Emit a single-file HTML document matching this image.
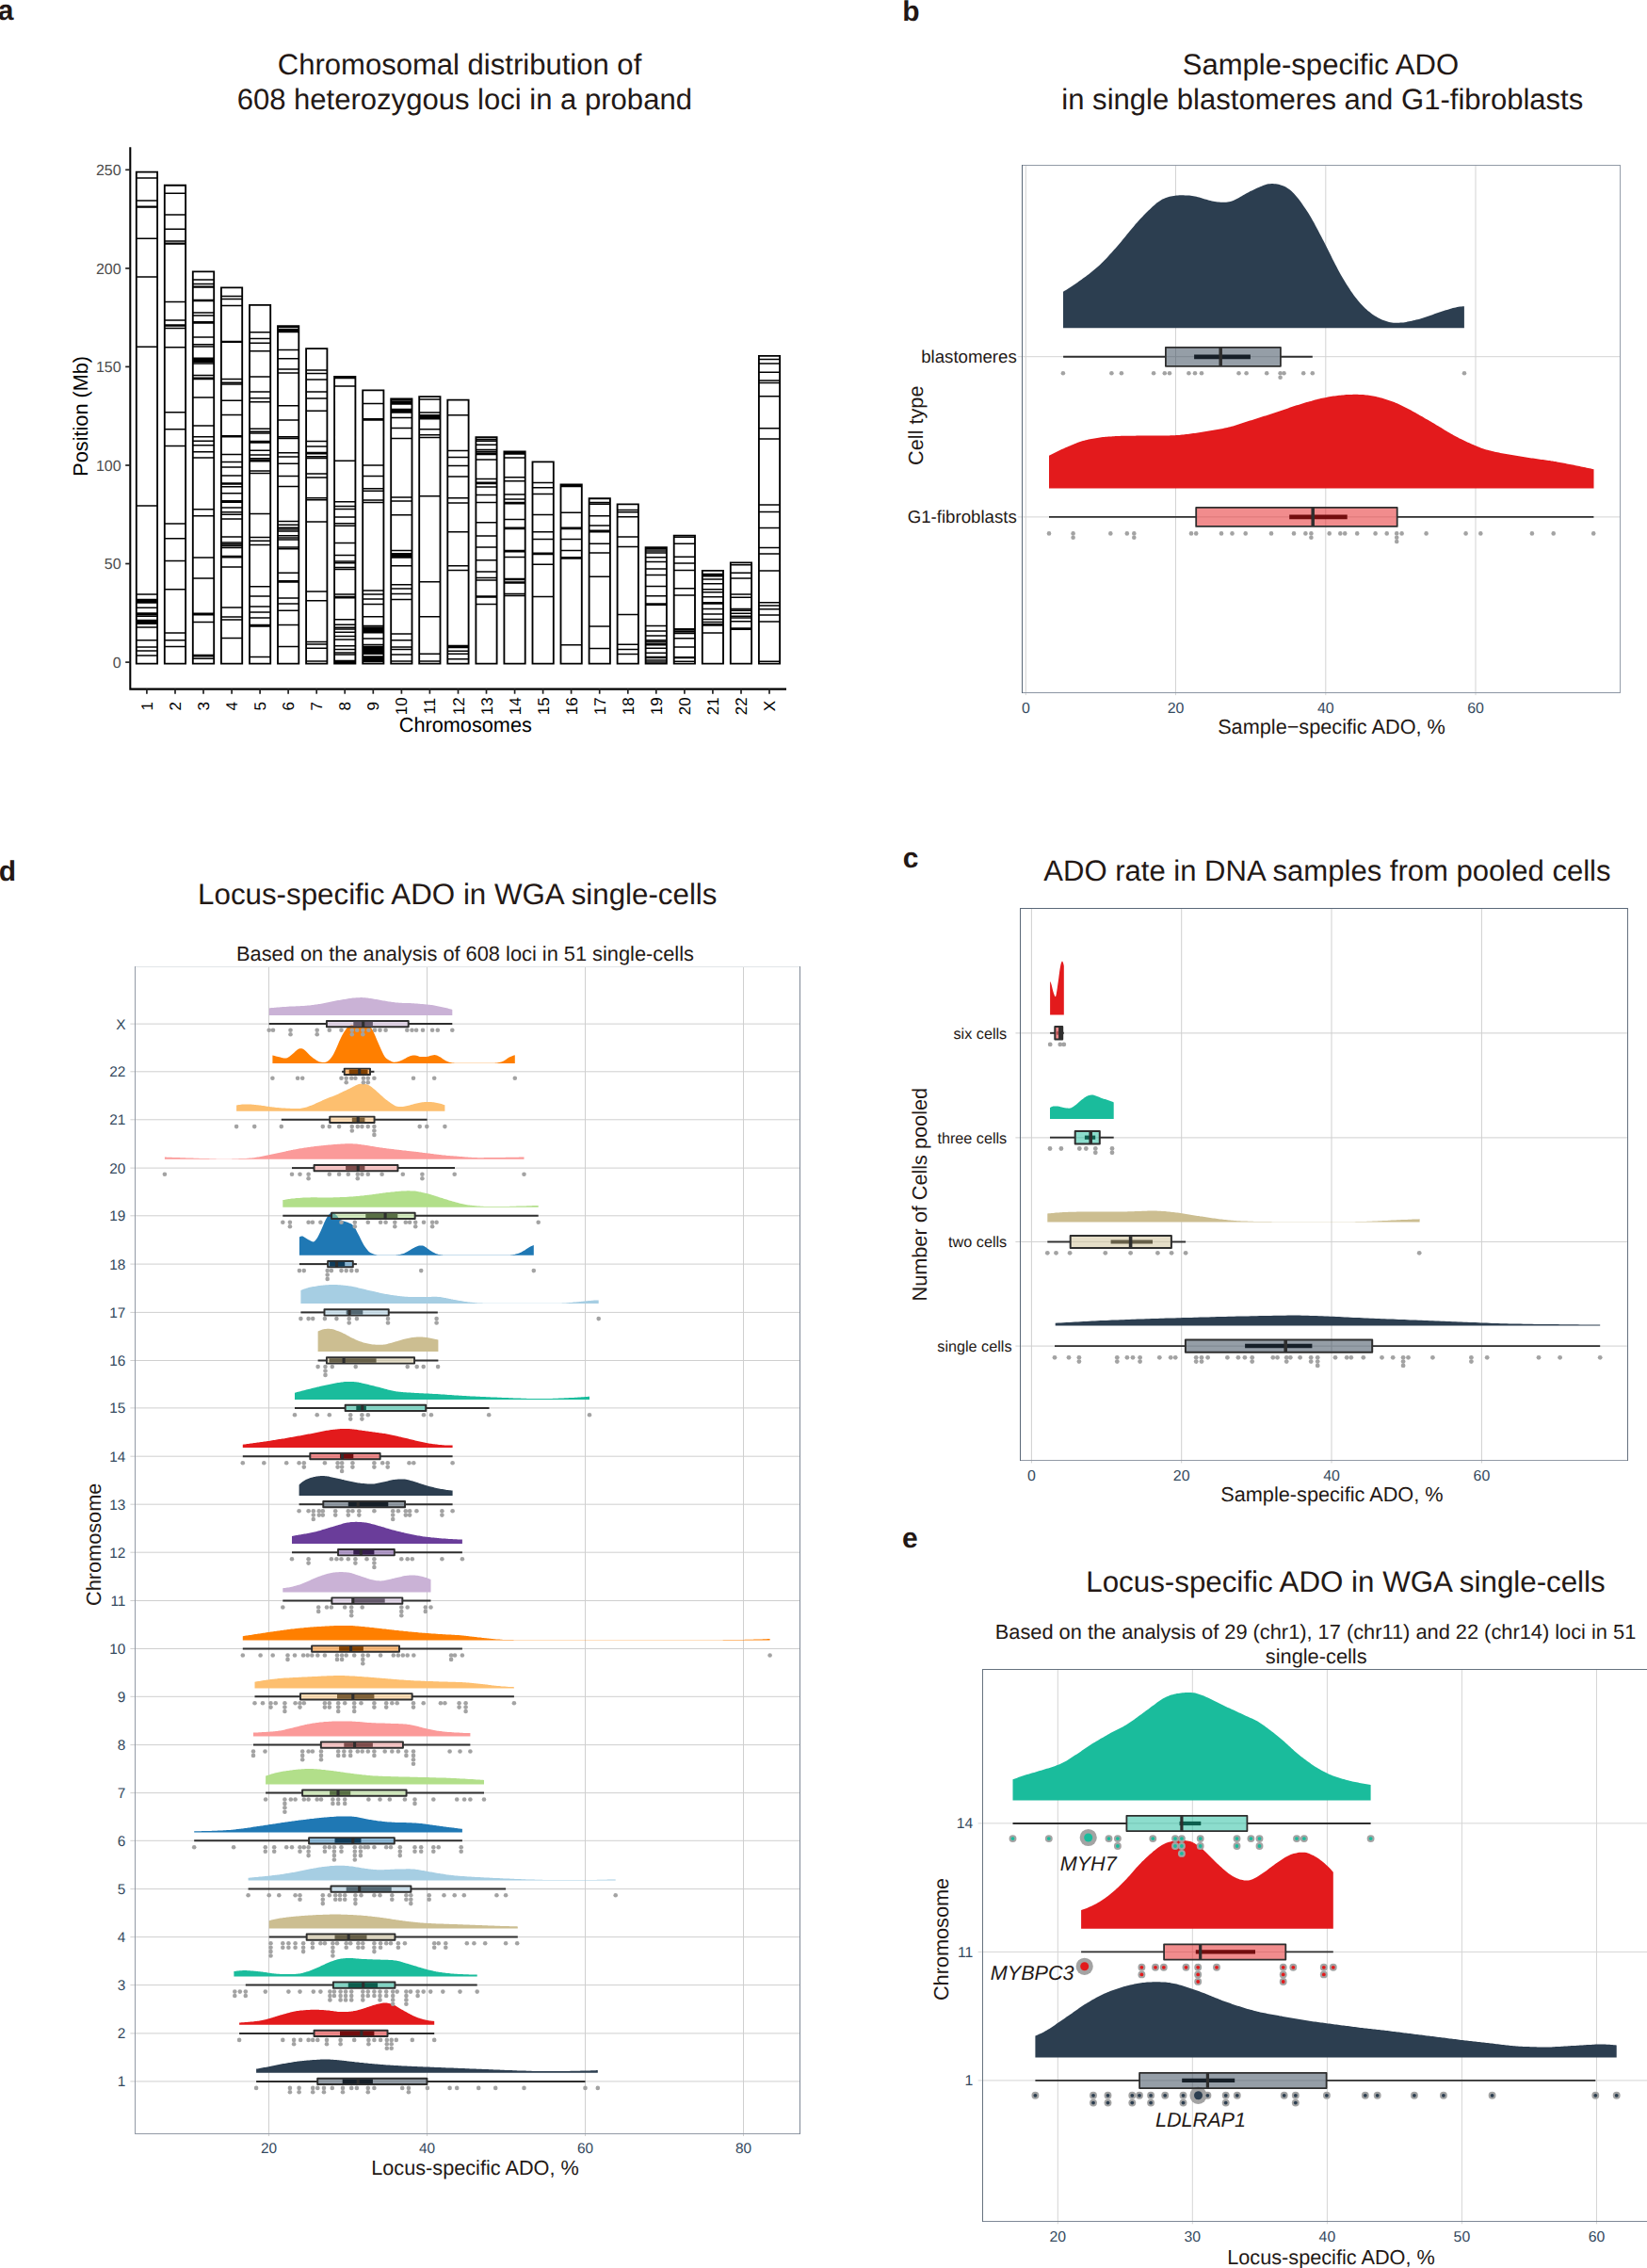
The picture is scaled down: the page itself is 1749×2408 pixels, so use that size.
<!DOCTYPE html>
<html><head><meta charset="utf-8"><title>Figure</title>
<style>html,body{margin:0;padding:0;background:#fff}svg{display:block}text{font-family:"Liberation Sans",sans-serif;text-rendering:geometricPrecision}</style></head><body>
<svg width="1749" height="2408" viewBox="0 0 1749 2408">
<rect width="1749" height="2408" fill="#fff"/>
<text x="-2.2" y="21.4" font-size="30" fill="#231815" font-weight="bold">a</text>
<text x="958.2" y="21.8" font-size="30" fill="#231815" font-weight="bold">b</text>
<text x="958.7" y="921.2" font-size="30" fill="#231815" font-weight="bold">c</text>
<text x="-1.2" y="934.8" font-size="30" fill="#231815" font-weight="bold">d</text>
<text x="958" y="1642.8" font-size="30" fill="#231815" font-weight="bold">e</text>
<text x="488" y="78.8" font-size="31.05" text-anchor="middle" fill="#231815">Chromosomal distribution of</text>
<text x="493.3" y="116.2" font-size="31.05" text-anchor="middle" fill="#231815">608 heterozygous loci in a proband</text>
<text x="1402.4" y="79" font-size="31.05" text-anchor="middle" fill="#231815">Sample-specific ADO</text>
<text x="1404.3" y="116.4" font-size="31.05" text-anchor="middle" fill="#231815">in single blastomeres and G1-fibroblasts</text>
<text x="1409.4" y="934.8" font-size="31.05" text-anchor="middle" fill="#231815">ADO rate in DNA samples from pooled cells</text>
<text x="485.8" y="959.8" font-size="31.3" text-anchor="middle" fill="#231815">Locus-specific ADO in WGA single-cells</text>
<text x="1429" y="1690.3" font-size="31.3" text-anchor="middle" fill="#231815">Locus-specific ADO in WGA single-cells</text>
<text x="494" y="1020.2" font-size="21.8" text-anchor="middle" fill="#231815">Based on the analysis of 608 loci in 51 single-cells</text>
<text x="1397" y="1739.8" font-size="21.8" text-anchor="middle" fill="#231815">Based on the analysis of 29 (chr1), 17 (chr11) and 22 (chr14) loci in 51</text>
<text x="1397.7" y="1765.5" font-size="21.8" text-anchor="middle" fill="#231815">single-cells</text>
<g stroke="#000" stroke-width="2.05" fill="none">
<path d="M138.3 156.3V731.6H835"/>
</g>
<line x1="133.2" y1="703.1" x2="138.3" y2="703.1" stroke="#222" stroke-width="1.7"/>
<text x="128.6" y="708.7" font-size="16" text-anchor="end" fill="#4d4d4d">0</text>
<line x1="133.2" y1="598.5" x2="138.3" y2="598.5" stroke="#222" stroke-width="1.7"/>
<text x="128.6" y="604.1" font-size="16" text-anchor="end" fill="#4d4d4d">50</text>
<line x1="133.2" y1="494" x2="138.3" y2="494" stroke="#222" stroke-width="1.7"/>
<text x="128.6" y="499.6" font-size="16" text-anchor="end" fill="#4d4d4d">100</text>
<line x1="133.2" y1="389.4" x2="138.3" y2="389.4" stroke="#222" stroke-width="1.7"/>
<text x="128.6" y="395" font-size="16" text-anchor="end" fill="#4d4d4d">150</text>
<line x1="133.2" y1="284.9" x2="138.3" y2="284.9" stroke="#222" stroke-width="1.7"/>
<text x="128.6" y="290.5" font-size="16" text-anchor="end" fill="#4d4d4d">200</text>
<line x1="133.2" y1="180.3" x2="138.3" y2="180.3" stroke="#222" stroke-width="1.7"/>
<text x="128.6" y="185.9" font-size="16" text-anchor="end" fill="#4d4d4d">250</text>
<text x="93.1" y="441.8" font-size="21.7" text-anchor="middle" fill="#000" transform="rotate(-90 93.1 441.8)">Position (Mb)</text>
<text x="494.3" y="777.4" font-size="21.7" text-anchor="middle" fill="#000">Chromosomes</text>
<line x1="155.9" y1="731.4" x2="155.9" y2="736.7" stroke="#222" stroke-width="1.7"/>
<text x="155.9" y="749.7" font-size="17" text-anchor="middle" fill="#000" transform="rotate(-90 155.9 749.7)" dy="6.1">1</text>
<line x1="186" y1="731.4" x2="186" y2="736.7" stroke="#222" stroke-width="1.7"/>
<text x="186" y="749.7" font-size="17" text-anchor="middle" fill="#000" transform="rotate(-90 186 749.7)" dy="6.1">2</text>
<line x1="216" y1="731.4" x2="216" y2="736.7" stroke="#222" stroke-width="1.7"/>
<text x="216" y="749.7" font-size="17" text-anchor="middle" fill="#000" transform="rotate(-90 216 749.7)" dy="6.1">3</text>
<line x1="246.1" y1="731.4" x2="246.1" y2="736.7" stroke="#222" stroke-width="1.7"/>
<text x="246.1" y="749.7" font-size="17" text-anchor="middle" fill="#000" transform="rotate(-90 246.1 749.7)" dy="6.1">4</text>
<line x1="276.1" y1="731.4" x2="276.1" y2="736.7" stroke="#222" stroke-width="1.7"/>
<text x="276.1" y="749.7" font-size="17" text-anchor="middle" fill="#000" transform="rotate(-90 276.1 749.7)" dy="6.1">5</text>
<line x1="306.1" y1="731.4" x2="306.1" y2="736.7" stroke="#222" stroke-width="1.7"/>
<text x="306.1" y="749.7" font-size="17" text-anchor="middle" fill="#000" transform="rotate(-90 306.1 749.7)" dy="6.1">6</text>
<line x1="336.2" y1="731.4" x2="336.2" y2="736.7" stroke="#222" stroke-width="1.7"/>
<text x="336.2" y="749.7" font-size="17" text-anchor="middle" fill="#000" transform="rotate(-90 336.2 749.7)" dy="6.1">7</text>
<line x1="366.2" y1="731.4" x2="366.2" y2="736.7" stroke="#222" stroke-width="1.7"/>
<text x="366.2" y="749.7" font-size="17" text-anchor="middle" fill="#000" transform="rotate(-90 366.2 749.7)" dy="6.1">8</text>
<line x1="396.3" y1="731.4" x2="396.3" y2="736.7" stroke="#222" stroke-width="1.7"/>
<text x="396.3" y="749.7" font-size="17" text-anchor="middle" fill="#000" transform="rotate(-90 396.3 749.7)" dy="6.1">9</text>
<line x1="426.4" y1="731.4" x2="426.4" y2="736.7" stroke="#222" stroke-width="1.7"/>
<text x="426.4" y="749.7" font-size="17" text-anchor="middle" fill="#000" transform="rotate(-90 426.4 749.7)" dy="6.1">10</text>
<line x1="456.4" y1="731.4" x2="456.4" y2="736.7" stroke="#222" stroke-width="1.7"/>
<text x="456.4" y="749.7" font-size="17" text-anchor="middle" fill="#000" transform="rotate(-90 456.4 749.7)" dy="6.1">11</text>
<line x1="486.5" y1="731.4" x2="486.5" y2="736.7" stroke="#222" stroke-width="1.7"/>
<text x="486.5" y="749.7" font-size="17" text-anchor="middle" fill="#000" transform="rotate(-90 486.5 749.7)" dy="6.1">12</text>
<line x1="516.5" y1="731.4" x2="516.5" y2="736.7" stroke="#222" stroke-width="1.7"/>
<text x="516.5" y="749.7" font-size="17" text-anchor="middle" fill="#000" transform="rotate(-90 516.5 749.7)" dy="6.1">13</text>
<line x1="546.6" y1="731.4" x2="546.6" y2="736.7" stroke="#222" stroke-width="1.7"/>
<text x="546.6" y="749.7" font-size="17" text-anchor="middle" fill="#000" transform="rotate(-90 546.6 749.7)" dy="6.1">14</text>
<line x1="576.6" y1="731.4" x2="576.6" y2="736.7" stroke="#222" stroke-width="1.7"/>
<text x="576.6" y="749.7" font-size="17" text-anchor="middle" fill="#000" transform="rotate(-90 576.6 749.7)" dy="6.1">15</text>
<line x1="606.6" y1="731.4" x2="606.6" y2="736.7" stroke="#222" stroke-width="1.7"/>
<text x="606.6" y="749.7" font-size="17" text-anchor="middle" fill="#000" transform="rotate(-90 606.6 749.7)" dy="6.1">16</text>
<line x1="636.7" y1="731.4" x2="636.7" y2="736.7" stroke="#222" stroke-width="1.7"/>
<text x="636.7" y="749.7" font-size="17" text-anchor="middle" fill="#000" transform="rotate(-90 636.7 749.7)" dy="6.1">17</text>
<line x1="666.8" y1="731.4" x2="666.8" y2="736.7" stroke="#222" stroke-width="1.7"/>
<text x="666.8" y="749.7" font-size="17" text-anchor="middle" fill="#000" transform="rotate(-90 666.8 749.7)" dy="6.1">18</text>
<line x1="696.8" y1="731.4" x2="696.8" y2="736.7" stroke="#222" stroke-width="1.7"/>
<text x="696.8" y="749.7" font-size="17" text-anchor="middle" fill="#000" transform="rotate(-90 696.8 749.7)" dy="6.1">19</text>
<line x1="726.9" y1="731.4" x2="726.9" y2="736.7" stroke="#222" stroke-width="1.7"/>
<text x="726.9" y="749.7" font-size="17" text-anchor="middle" fill="#000" transform="rotate(-90 726.9 749.7)" dy="6.1">20</text>
<line x1="756.9" y1="731.4" x2="756.9" y2="736.7" stroke="#222" stroke-width="1.7"/>
<text x="756.9" y="749.7" font-size="17" text-anchor="middle" fill="#000" transform="rotate(-90 756.9 749.7)" dy="6.1">21</text>
<line x1="787" y1="731.4" x2="787" y2="736.7" stroke="#222" stroke-width="1.7"/>
<text x="787" y="749.7" font-size="17" text-anchor="middle" fill="#000" transform="rotate(-90 787 749.7)" dy="6.1">22</text>
<line x1="817" y1="731.4" x2="817" y2="736.7" stroke="#222" stroke-width="1.7"/>
<text x="817" y="749.7" font-size="17" text-anchor="middle" fill="#000" transform="rotate(-90 817 749.7)" dy="6.1">X</text>
<path d="M144.8 182.6H167.1V704.6H144.8ZM174.8 196.7H197.1V704.6H174.8ZM204.8 288.4H227.2V704.6H204.8ZM234.9 305.3H257.2V704.6H234.9ZM265 323.9H287.2V704.6H265ZM295 346.1H317.3V704.6H295ZM325.1 370.1H347.4V704.6H325.1ZM355.1 399.8H377.4V704.6H355.1ZM385.2 414.3H407.4V704.6H385.2ZM415.2 423.4H437.5V704.6H415.2ZM445.2 421.1H467.5V704.6H445.2ZM475.3 424.6H497.6V704.6H475.3ZM505.4 464.2H527.6V704.6H505.4ZM535.4 479.5H557.7V704.6H535.4ZM565.5 490.4H587.8V704.6H565.5ZM595.5 514.3H617.8V704.6H595.5ZM625.6 529.2H647.9V704.6H625.6ZM655.6 535.3H677.9V704.6H655.6ZM685.6 581.1H707.9V704.6H685.6ZM715.7 568.6H738V704.6H715.7ZM745.8 605.8H768V704.6H745.8ZM775.8 597.3H798.1V704.6H775.8ZM805.9 377.9H828.1V704.6H805.9Z" fill="#fff" stroke="#000" stroke-width="1.85"/>
<path d="M144.8 189.1H167.1M144.8 213.1H167.1M144.8 219.2H167.1M144.8 220H167.1M144.8 253.2H167.1M144.8 294.1H167.1M144.8 368.2H167.1M144.8 537.1H167.1M144.8 631H167.1M144.8 636.5H167.1M144.8 637.7H167.1M144.8 638.9H167.1M144.8 640.1H167.1M144.8 645.2H167.1M144.8 650.9H167.1M144.8 652.5H167.1M144.8 654.3H167.1M144.8 658.6H167.1M144.8 659.8H167.1M144.8 661H167.1M144.8 662.2H167.1M144.8 666.1H167.1M144.8 679.8H167.1M144.8 686.9H167.1M144.8 691.1H167.1M144.8 696H167.1M174.8 205.3H197.1M174.8 228H197.1M174.8 243.3H197.1M174.8 256H197.1M174.8 258.2H197.1M174.8 259.1H197.1M174.8 320.6H197.1M174.8 340H197.1M174.8 344.9H197.1M174.8 346.1H197.1M174.8 348.5H197.1M174.8 368.8H197.1M174.8 437.8H197.1M174.8 455.8H197.1M174.8 473.4H197.1M174.8 556H197.1M174.8 571.8H197.1M174.8 595.4H197.1M174.8 625.8H197.1M174.8 671.9H197.1M174.8 679.8H197.1M174.8 686.5H197.1M204.8 297.1H227.2M204.8 301.4H227.2M204.8 304.2H227.2M204.8 305H227.2M204.8 318.4H227.2M204.8 319.6H227.2M204.8 332.1H227.2M204.8 335.1H227.2M204.8 341.8H227.2M204.8 343H227.2M204.8 358H227.2M204.8 365.8H227.2M204.8 367.9H227.2M204.8 380.3H227.2M204.8 381.5H227.2M204.8 382.8H227.2M204.8 384.3H227.2M204.8 386.1H227.2M204.8 398.5H227.2M204.8 401.3H227.2M204.8 402.5H227.2M204.8 422H227.2M204.8 452.1H227.2M204.8 463.7H227.2M204.8 468.2H227.2M204.8 472.8H227.2M204.8 479.7H227.2M204.8 486.1H227.2M204.8 540.8H227.2M204.8 547.7H227.2M204.8 592H227.2M204.8 614H227.2M204.8 651.3H227.2M204.8 652.8H227.2M204.8 660.4H227.2M204.8 695.6H227.2M204.8 696.8H227.2M204.8 699.3H227.2M234.9 314.5H257.2M234.9 317.5H257.2M234.9 324.5H257.2M234.9 362.5H257.2M234.9 363.3H257.2M234.9 402.5H257.2M234.9 406.2H257.2M234.9 408H257.2M234.9 425.2H257.2M234.9 440.6H257.2M234.9 462.7H257.2M234.9 463.7H257.2M234.9 482.5H257.2M234.9 490.4H257.2M234.9 495.9H257.2M234.9 505H257.2M234.9 512.9H257.2M234.9 514.1H257.2M234.9 516.8H257.2M234.9 523.8H257.2M234.9 531.7H257.2M234.9 533.3H257.2M234.9 539H257.2M234.9 543.8H257.2M234.9 546.2H257.2M234.9 551.1H257.2M234.9 569.9H257.2M234.9 576H257.2M234.9 577.8H257.2M234.9 579.6H257.2M234.9 581.5H257.2M234.9 590.6H257.2M234.9 591.8H257.2M234.9 602.1H257.2M234.9 645H257.2M234.9 654.9H257.2M234.9 658H257.2M234.9 677.4H257.2M265 352.8H287.2M265 359.4H287.2M265 364.3H287.2M265 372.8H287.2M265 400.1H287.2M265 416.1H287.2M265 422.8H287.2M265 426.8H287.2M265 455.2H287.2M265 458.2H287.2M265 460H287.2M265 468.5H287.2M265 470.1H287.2M265 478.2H287.2M265 483.1H287.2M265 486.8H287.2M265 488.6H287.2M265 489.8H287.2M265 500.1H287.2M265 502.5H287.2M265 545.6H287.2M265 570.5H287.2M265 574.2H287.2M265 578.4H287.2M265 622.8H287.2M265 633.1H287.2M265 644H287.2M265 650.1H287.2M265 656.1H287.2M265 663.4H287.2M265 664.9H287.2M265 697.4H287.2M295 347.5H317.3M295 349.7H317.3M295 351.2H317.3M295 352.5H317.3M295 371.6H317.3M295 380.7H317.3M295 392H317.3M295 396.1H317.3M295 430.7H317.3M295 446.1H317.3M295 463.7H317.3M295 465.5H317.3M295 480.7H317.3M295 484.9H317.3M295 492.2H317.3M295 505.6H317.3M295 516.5H317.3M295 553.5H317.3M295 557.2H317.3M295 560.2H317.3M295 562H317.3M295 563.9H317.3M295 568.7H317.3M295 571.1H317.3M295 573H317.3M295 580.9H317.3M295 582.7H317.3M295 608.2H317.3M295 616.7H317.3M295 617.9H317.3M295 634.9H317.3M295 641H317.3M295 648.3H317.3M295 663.4H317.3M295 686.5H317.3M325.1 393.1H347.4M325.1 396.6H347.4M325.1 402.9H347.4M325.1 416H347.4M325.1 422.9H347.4M325.1 436.2H347.4M325.1 468.4H347.4M325.1 474.1H347.4M325.1 480.6H347.4M325.1 481.8H347.4M325.1 484.8H347.4M325.1 486.6H347.4M325.1 503H347.4M325.1 507.1H347.4M325.1 528.7H347.4M325.1 530.7H347.4M325.1 554H347.4M325.1 628.1H347.4M325.1 637.8H347.4M325.1 681.5H347.4M325.1 683.9H347.4M325.1 688.2H347.4M325.1 702.1H347.4M355.1 400.7H377.4M355.1 401.6H377.4M355.1 410.1H377.4M355.1 489.3H377.4M355.1 532.8H377.4M355.1 537.6H377.4M355.1 540.6H377.4M355.1 549.1H377.4M355.1 555.8H377.4M355.1 558.2H377.4M355.1 576.5H377.4M355.1 589.5H377.4M355.1 595.9H377.4M355.1 597.7H377.4M355.1 602.6H377.4M355.1 604.4H377.4M355.1 631.1H377.4M355.1 633.5H377.4M355.1 634.8H377.4M355.1 657.8H377.4M355.1 663.3H377.4M355.1 666.3H377.4M355.1 668.1H377.4M355.1 671.2H377.4M355.1 675.4H377.4M355.1 679.1H377.4M355.1 685.8H377.4M355.1 689.4H377.4M355.1 693H377.4M355.1 694.9H377.4M355.1 701.5H377.4M355.1 703H377.4M355.1 704H377.4M385.2 428.6H407.4M385.2 444.8H407.4M385.2 446H407.4M385.2 493.9H407.4M385.2 505.5H407.4M385.2 518.8H407.4M385.2 521.2H407.4M385.2 530.9H407.4M385.2 533.4H407.4M385.2 626.9H407.4M385.2 631.1H407.4M385.2 636H407.4M385.2 641.4H407.4M385.2 654.8H407.4M385.2 664.5H407.4M385.2 666.3H407.4M385.2 667.4H407.4M385.2 668.5H407.4M385.2 669.6H407.4M385.2 670.7H407.4M385.2 671.8H407.4M385.2 677.9H407.4M385.2 684.5H407.4M385.2 686.6H407.4M385.2 687.7H407.4M385.2 688.8H407.4M385.2 689.9H407.4M385.2 691H407.4M385.2 692.1H407.4M385.2 693.2H407.4M385.2 694.3H407.4M385.2 697H407.4M385.2 698.1H407.4M385.2 699.2H407.4M385.2 700.3H407.4M385.2 701.4H407.4M385.2 702.5H407.4M415.2 424.7H437.5M415.2 426.5H437.5M415.2 427.8H437.5M415.2 429H437.5M415.2 434.4H437.5M415.2 435.6H437.5M415.2 436.9H437.5M415.2 438.1H437.5M415.2 443.5H437.5M415.2 454.5H437.5M415.2 465.4H437.5M415.2 527.9H437.5M415.2 531.9H437.5M415.2 546.7H437.5M415.2 584.4H437.5M415.2 587.8H437.5M415.2 588.9H437.5M415.2 590H437.5M415.2 591H437.5M415.2 592.1H437.5M415.2 600.8H437.5M415.2 620.8H437.5M415.2 625H437.5M415.2 630.5H437.5M415.2 636.6H437.5M415.2 673H437.5M415.2 679.7H437.5M415.2 687H437.5M415.2 689.4H437.5M415.2 694.9H437.5M415.2 702.1H437.5M445.2 424.1H467.5M445.2 438.1H467.5M445.2 440.8H467.5M445.2 442.3H467.5M445.2 443.5H467.5M445.2 444.8H467.5M445.2 455.7H467.5M445.2 461.8H467.5M445.2 464.6H467.5M445.2 526.7H467.5M445.2 617.8H467.5M445.2 654.8H467.5M445.2 694.3H467.5M445.2 701.9H467.5M475.3 440.8H497.6M475.3 478.4H497.6M475.3 485.4H497.6M475.3 494.5H497.6M475.3 506.1H497.6M475.3 528.7H497.6M475.3 534H497.6M475.3 564.7H497.6M475.3 600.8H497.6M475.3 605.6H497.6M475.3 685.4H497.6M475.3 686.5H497.6M475.3 687.6H497.6M475.3 691.2H497.6M475.3 694.3H497.6M475.3 699.7H497.6M505.4 466.5H527.6M505.4 468.2H527.6M505.4 472.2H527.6M505.4 477.6H527.6M505.4 479.5H527.6M505.4 481.3H527.6M505.4 482.5H527.6M505.4 488H527.6M505.4 508.6H527.6M505.4 512.2H527.6M505.4 513.5H527.6M505.4 517.1H527.6M505.4 525.6H527.6M505.4 533.5H527.6M505.4 554.8H527.6M505.4 569H527.6M505.4 580.9H527.6M505.4 594.8H527.6M505.4 607H527.6M505.4 613.6H527.6M505.4 616.1H527.6M505.4 633.1H527.6M505.4 634H527.6M505.4 641.6H527.6M535.4 480.7H557.7M535.4 481.9H557.7M535.4 486.1H557.7M535.4 506.8H557.7M535.4 510.7H557.7M535.4 525H557.7M535.4 529.9H557.7M535.4 533.5H557.7M535.4 534.7H557.7M535.4 551.5H557.7M535.4 560.2H557.7M535.4 561.4H557.7M535.4 584.5H557.7M535.4 585.7H557.7M535.4 591.5H557.7M535.4 614.5H557.7M535.4 615.6H557.7M535.4 617.9H557.7M535.4 619.1H557.7M535.4 630.6H557.7M535.4 632.5H557.7M565.5 512.6H587.8M565.5 517.7H587.8M565.5 524.4H587.8M565.5 546.6H587.8M565.5 564.7H587.8M565.5 572.4H587.8M565.5 587.2H587.8M565.5 588.4H587.8M565.5 599.3H587.8M565.5 633.4H587.8M595.5 515.5H617.8M595.5 516.5H617.8M595.5 544.2H617.8M595.5 560.2H617.8M595.5 561.4H617.8M595.5 572.4H617.8M595.5 584.5H617.8M595.5 591.8H617.8M595.5 593H617.8M595.5 684.7H617.8M625.6 533.5H647.9M625.6 535.3H647.9M625.6 547.8H647.9M625.6 558H647.9M625.6 563.2H647.9M625.6 564.7H647.9M625.6 577.2H647.9M625.6 586.9H647.9M625.6 612.2H647.9M625.6 665H647.9M625.6 688.6H647.9M655.6 541.6H677.9M655.6 543.8H677.9M655.6 548.7H677.9M655.6 569.9H677.9M655.6 580.6H677.9M655.6 652.5H677.9M655.6 684.3H677.9M655.6 689.5H677.9M655.6 694.4H677.9M685.6 581.8H707.9M685.6 582.9H707.9M685.6 585.1H707.9M685.6 586.9H707.9M685.6 591.8H707.9M685.6 596.6H707.9M685.6 603.9H707.9M685.6 610.6H707.9M685.6 622.5H707.9M685.6 632.8H707.9M685.6 641H707.9M685.6 642.2H707.9M685.6 664.6H707.9M685.6 670.1H707.9M685.6 675H707.9M685.6 679.8H707.9M685.6 681.6H707.9M685.6 683.5H707.9M685.6 684.7H707.9M685.6 688.3H707.9M685.6 693.2H707.9M685.6 697.4H707.9M685.6 698.6H707.9M685.6 701.1H707.9M685.6 702.9H707.9M715.7 570.2H738M715.7 577.2H738M715.7 591.2H738M715.7 597.9H738M715.7 605.4H738M715.7 624.8H738M715.7 632.1H738M715.7 667.7H738M715.7 668.9H738M715.7 670.7H738M715.7 672.5H738M715.7 677.8H738M715.7 687.1H738M715.7 697.7H738M715.7 698.6H738M715.7 702.3H738M745.8 609.4H768M745.8 610.6H768M745.8 611.8H768M745.8 614.9H768M745.8 619.7H768M745.8 625.8H768M745.8 628.8H768M745.8 633.7H768M745.8 639.8H768M745.8 641H768M745.8 646.4H768M745.8 651.9H768M745.8 657.4H768M745.8 660.4H768M745.8 662.8H768M745.8 664H768M745.8 671.9H768M775.8 599.7H798.1M775.8 608.2H798.1M775.8 613.9H798.1M775.8 630.9H798.1M775.8 634.3H798.1M775.8 646.4H798.1M775.8 648.3H798.1M775.8 651.3H798.1M775.8 654.3H798.1M775.8 656.1H798.1M775.8 659.8H798.1M775.8 667.1H798.1M775.8 668.3H798.1M805.9 381.6H828.1M805.9 386H828.1M805.9 395.3H828.1M805.9 404H828.1M805.9 406.4H828.1M805.9 420.7H828.1M805.9 454.7H828.1M805.9 466.1H828.1M805.9 535.9H828.1M805.9 543.5H828.1M805.9 560.5H828.1M805.9 581.5H828.1M805.9 588.1H828.1M805.9 606H828.1M805.9 639.8H828.1M805.9 643H828.1M805.9 646.7H828.1M805.9 653.1H828.1M805.9 660H828.1M805.9 702.3H828.1" fill="none" stroke="#000" stroke-width="1.5"/>
<g stroke="#d3d3d3" stroke-width="1" fill="none">
<path d="M1089.3 175V738.1"/>
<path d="M1248.5 175V738.1"/>
<path d="M1407.8 175V738.1"/>
<path d="M1567 175V738.1"/>
<path d="M1080.7 378.7H1721"/>
<path d="M1080.7 548.9H1721"/>
</g>
<path d="M1129 348.3L1129 309.8L1130.5 308.8L1132 307.9L1133.5 306.9L1135 306L1136.6 305L1138.1 304L1139.6 302.9L1141.1 301.9L1142.6 300.9L1144.1 299.9L1145.6 298.8L1147.1 297.8L1148.6 296.7L1150.1 295.6L1151.6 294.6L1153.1 293.4L1154.6 292.3L1156.1 291.2L1157.6 290L1159.1 288.8L1160.6 287.6L1162.1 286.3L1163.6 285.1L1165.1 283.8L1166.6 282.4L1168.2 281L1169.7 279.6L1171.2 278.1L1172.7 276.5L1174.2 275L1175.7 273.4L1177.2 271.8L1178.7 270.1L1180.2 268.5L1181.7 266.8L1183.2 265.1L1184.7 263.4L1186.2 261.7L1187.7 259.9L1189.2 258.2L1190.7 256.4L1192.2 254.5L1193.7 252.7L1195.2 250.9L1196.7 249L1198.2 247.2L1199.8 245.3L1201.3 243.5L1202.8 241.7L1204.3 239.9L1205.8 238.1L1207.3 236.4L1208.8 234.7L1210.3 233.1L1211.8 231.4L1213.3 229.9L1214.8 228.3L1216.3 226.8L1217.8 225.3L1219.3 223.8L1220.8 222.4L1222.3 220.9L1223.8 219.6L1225.3 218.2L1226.8 216.9L1228.3 215.6L1229.9 214.5L1231.4 213.4L1232.9 212.5L1234.4 211.6L1235.9 210.9L1237.4 210.2L1238.9 209.7L1240.4 209.2L1241.9 208.8L1243.4 208.5L1244.9 208.2L1246.4 207.9L1247.9 207.7L1249.4 207.5L1250.9 207.4L1252.4 207.3L1253.9 207.3L1255.4 207.3L1256.9 207.3L1258.4 207.4L1259.9 207.4L1261.5 207.5L1263 207.6L1264.5 207.8L1266 208L1267.5 208.2L1269 208.5L1270.5 208.8L1272 209.2L1273.5 209.6L1275 210L1276.5 210.5L1278 210.9L1279.5 211.4L1281 211.8L1282.5 212.3L1284 212.7L1285.5 213L1287 213.4L1288.5 213.7L1290 213.9L1291.5 214.2L1293.1 214.4L1294.6 214.5L1296.1 214.7L1297.6 214.8L1299.1 214.8L1300.6 214.8L1302.1 214.7L1303.6 214.5L1305.1 214.2L1306.6 213.9L1308.1 213.4L1309.6 212.9L1311.1 212.2L1312.6 211.5L1314.1 210.7L1315.6 209.9L1317.1 209.1L1318.6 208.2L1320.1 207.3L1321.6 206.4L1323.2 205.5L1324.7 204.7L1326.2 203.9L1327.7 203.1L1329.2 202.4L1330.7 201.7L1332.2 201L1333.7 200.3L1335.2 199.6L1336.7 199L1338.2 198.3L1339.7 197.7L1341.2 197.1L1342.7 196.6L1344.2 196.1L1345.7 195.6L1347.2 195.3L1348.7 195.2L1350.2 195.1L1351.7 195.1L1353.2 195.2L1354.8 195.3L1356.3 195.5L1357.8 195.8L1359.3 196.2L1360.8 196.7L1362.3 197.2L1363.8 197.8L1365.3 198.5L1366.8 199.4L1368.3 200.4L1369.8 201.5L1371.3 202.8L1372.8 204.2L1374.3 205.8L1375.8 207.4L1377.3 209.2L1378.8 211.1L1380.3 213.1L1381.8 215.1L1383.3 217.3L1384.8 219.5L1386.4 221.8L1387.9 224L1389.4 226.3L1390.9 228.7L1392.4 231.2L1393.9 233.9L1395.4 236.6L1396.9 239.4L1398.4 242.2L1399.9 245.1L1401.4 247.9L1402.9 250.8L1404.4 253.7L1405.9 256.6L1407.4 259.5L1408.9 262.5L1410.4 265.5L1411.9 268.6L1413.4 271.6L1414.9 274.7L1416.5 277.7L1418 280.7L1419.5 283.6L1421 286.5L1422.5 289.3L1424 292L1425.5 294.6L1427 297.1L1428.5 299.5L1430 301.9L1431.5 304.3L1433 306.6L1434.5 308.9L1436 311.1L1437.5 313.2L1439 315.2L1440.5 317.1L1442 319L1443.5 320.8L1445 322.5L1446.5 324.1L1448.1 325.7L1449.6 327.2L1451.1 328.6L1452.6 329.9L1454.1 331.1L1455.6 332.3L1457.1 333.4L1458.6 334.4L1460.1 335.4L1461.6 336.3L1463.1 337.2L1464.6 338L1466.1 338.7L1467.6 339.4L1469.1 340L1470.6 340.5L1472.1 341L1473.6 341.5L1475.1 341.9L1476.6 342.2L1478.1 342.5L1479.7 342.7L1481.2 342.8L1482.7 342.8L1484.2 342.8L1485.7 342.7L1487.2 342.6L1488.7 342.5L1490.2 342.4L1491.7 342.2L1493.2 341.9L1494.7 341.6L1496.2 341.3L1497.7 341L1499.2 340.7L1500.7 340.3L1502.2 340L1503.7 339.6L1505.2 339.3L1506.7 338.9L1508.2 338.5L1509.8 338L1511.3 337.6L1512.8 337.1L1514.3 336.6L1515.8 336L1517.3 335.5L1518.8 335L1520.3 334.4L1521.8 333.9L1523.3 333.3L1524.8 332.8L1526.3 332.3L1527.8 331.8L1529.3 331.3L1530.8 330.8L1532.3 330.3L1533.8 329.8L1535.3 329.3L1536.8 328.9L1538.3 328.4L1539.8 328L1541.4 327.6L1542.9 327.1L1544.4 326.7L1545.9 326.4L1547.4 326L1548.9 325.8L1550.4 325.6L1551.9 325.4L1553.4 325.3L1554.9 325.2L1554.9 348.3Z" fill="#2c3e50"/>
<path d="M1114 518.5L1114 483.7L1115.5 482.9L1117 482.2L1118.5 481.4L1120 480.7L1121.5 480L1123 479.2L1124.5 478.5L1126 477.8L1127.5 477.1L1129 476.4L1130.5 475.8L1132 475.1L1133.5 474.4L1135 473.8L1136.5 473.2L1138 472.5L1139.5 471.9L1141 471.3L1142.5 470.7L1144 470.1L1145.5 469.6L1147 469.1L1148.5 468.6L1150 468.1L1151.5 467.7L1153 467.3L1154.5 466.9L1156 466.5L1157.5 466.2L1159 465.9L1160.6 465.7L1162.1 465.4L1163.6 465.2L1165.1 464.9L1166.6 464.7L1168.1 464.5L1169.6 464.3L1171.1 464.1L1172.6 464L1174.1 463.8L1175.6 463.7L1177.1 463.6L1178.6 463.5L1180.1 463.4L1181.6 463.3L1183.1 463.2L1184.6 463.1L1186.1 463L1187.6 462.9L1189.1 462.9L1190.6 462.8L1192.1 462.8L1193.6 462.8L1195.1 462.7L1196.6 462.7L1198.1 462.7L1199.6 462.7L1201.1 462.7L1202.6 462.7L1204.1 462.7L1205.6 462.7L1207.1 462.6L1208.6 462.6L1210.1 462.6L1211.6 462.6L1213.1 462.6L1214.7 462.6L1216.2 462.6L1217.7 462.6L1219.2 462.5L1220.7 462.5L1222.2 462.5L1223.7 462.5L1225.2 462.5L1226.7 462.5L1228.2 462.5L1229.7 462.5L1231.2 462.4L1232.7 462.4L1234.2 462.4L1235.7 462.4L1237.2 462.4L1238.7 462.4L1240.2 462.4L1241.7 462.4L1243.2 462.3L1244.7 462.3L1246.2 462.3L1247.7 462.2L1249.2 462.1L1250.7 462L1252.2 461.9L1253.7 461.8L1255.2 461.6L1256.7 461.5L1258.2 461.3L1259.7 461.1L1261.2 460.9L1262.7 460.7L1264.2 460.5L1265.7 460.3L1267.2 460.1L1268.8 459.9L1270.3 459.7L1271.8 459.5L1273.3 459.2L1274.8 459L1276.3 458.8L1277.8 458.6L1279.3 458.3L1280.8 458.1L1282.3 457.8L1283.8 457.6L1285.3 457.3L1286.8 457.1L1288.3 456.8L1289.8 456.5L1291.3 456.3L1292.8 456L1294.3 455.7L1295.8 455.4L1297.3 455.2L1298.8 454.9L1300.3 454.6L1301.8 454.3L1303.3 453.9L1304.8 453.6L1306.3 453.2L1307.8 452.8L1309.3 452.4L1310.8 451.9L1312.3 451.4L1313.8 451L1315.3 450.5L1316.8 450L1318.3 449.5L1319.8 449L1321.3 448.6L1322.9 448.1L1324.4 447.6L1325.9 447.1L1327.4 446.6L1328.9 446.2L1330.4 445.7L1331.9 445.2L1333.4 444.7L1334.9 444.2L1336.4 443.8L1337.9 443.3L1339.4 442.8L1340.9 442.3L1342.4 441.8L1343.9 441.4L1345.4 440.9L1346.9 440.4L1348.4 439.9L1349.9 439.4L1351.4 438.9L1352.9 438.5L1354.4 438L1355.9 437.5L1357.4 437L1358.9 436.5L1360.4 436L1361.9 435.4L1363.4 434.9L1364.9 434.4L1366.4 433.9L1367.9 433.4L1369.4 432.8L1370.9 432.3L1372.4 431.8L1373.9 431.3L1375.4 430.8L1376.9 430.3L1378.5 429.9L1380 429.4L1381.5 428.9L1383 428.5L1384.5 428L1386 427.6L1387.5 427.1L1389 426.7L1390.5 426.3L1392 425.9L1393.5 425.4L1395 425L1396.5 424.6L1398 424.2L1399.5 423.8L1401 423.5L1402.5 423.1L1404 422.8L1405.5 422.5L1407 422.2L1408.5 421.9L1410 421.6L1411.5 421.3L1413 421.1L1414.5 420.8L1416 420.6L1417.5 420.4L1419 420.2L1420.5 420L1422 419.8L1423.5 419.7L1425 419.5L1426.5 419.4L1428 419.3L1429.5 419.1L1431 419L1432.6 419L1434.1 418.9L1435.6 418.9L1437.1 418.8L1438.6 418.8L1440.1 418.8L1441.6 418.8L1443.1 418.9L1444.6 418.9L1446.1 419L1447.6 419.1L1449.1 419.2L1450.6 419.4L1452.1 419.5L1453.6 419.7L1455.1 419.9L1456.6 420.2L1458.1 420.4L1459.6 420.7L1461.1 421.1L1462.6 421.4L1464.1 421.8L1465.6 422.2L1467.1 422.6L1468.6 423L1470.1 423.5L1471.6 423.9L1473.1 424.4L1474.6 424.9L1476.1 425.4L1477.6 425.9L1479.1 426.5L1480.6 427L1482.1 427.7L1483.6 428.3L1485.1 429L1486.7 429.7L1488.2 430.4L1489.7 431.2L1491.2 431.9L1492.7 432.7L1494.2 433.5L1495.7 434.2L1497.2 435L1498.7 435.8L1500.2 436.7L1501.7 437.5L1503.2 438.3L1504.7 439.2L1506.2 440L1507.7 440.9L1509.2 441.8L1510.7 442.6L1512.2 443.5L1513.7 444.4L1515.2 445.2L1516.7 446.1L1518.2 447L1519.7 447.8L1521.2 448.7L1522.7 449.6L1524.2 450.5L1525.7 451.4L1527.2 452.3L1528.7 453.2L1530.2 454.1L1531.7 455.1L1533.2 456L1534.7 456.9L1536.2 457.8L1537.7 458.7L1539.2 459.6L1540.8 460.5L1542.3 461.3L1543.8 462.2L1545.3 463L1546.8 463.8L1548.3 464.6L1549.8 465.4L1551.3 466.1L1552.8 466.8L1554.3 467.6L1555.8 468.3L1557.3 469L1558.8 469.7L1560.3 470.3L1561.8 471L1563.3 471.7L1564.8 472.3L1566.3 473L1567.8 473.6L1569.3 474.2L1570.8 474.8L1572.3 475.4L1573.8 475.9L1575.3 476.4L1576.8 476.9L1578.3 477.4L1579.8 477.8L1581.3 478.3L1582.8 478.6L1584.3 479L1585.8 479.3L1587.3 479.7L1588.8 480L1590.3 480.3L1591.8 480.6L1593.3 480.9L1594.9 481.2L1596.4 481.5L1597.9 481.8L1599.4 482.1L1600.9 482.3L1602.4 482.6L1603.9 482.8L1605.4 483.1L1606.9 483.3L1608.4 483.6L1609.9 483.8L1611.4 484.1L1612.9 484.3L1614.4 484.6L1615.9 484.8L1617.4 485L1618.9 485.3L1620.4 485.5L1621.9 485.7L1623.4 486L1624.9 486.2L1626.4 486.4L1627.9 486.6L1629.4 486.8L1630.9 487.1L1632.4 487.3L1633.9 487.5L1635.4 487.7L1636.9 487.9L1638.4 488.1L1639.9 488.3L1641.4 488.5L1642.9 488.7L1644.4 488.9L1645.9 489.1L1647.4 489.4L1648.9 489.6L1650.5 489.9L1652 490.1L1653.5 490.4L1655 490.7L1656.5 490.9L1658 491.2L1659.5 491.5L1661 491.8L1662.5 492.1L1664 492.4L1665.5 492.7L1667 492.9L1668.5 493.2L1670 493.5L1671.5 493.8L1673 494.2L1674.5 494.5L1676 494.8L1677.5 495.1L1679 495.4L1680.5 495.7L1682 496L1683.5 496.3L1685 496.7L1686.5 497L1688 497.3L1689.5 497.6L1691 498L1692.5 498.3L1692.5 518.5Z" fill="#e31a1c"/>
<g fill="#a3a3a3"><circle cx="1128.9" cy="396.3" r="2.3"/><circle cx="1180.4" cy="396.3" r="2.3"/><circle cx="1190.9" cy="396.3" r="2.3"/><circle cx="1225.1" cy="396.3" r="2.3"/><circle cx="1236.8" cy="396.3" r="2.3"/><circle cx="1242" cy="396.3" r="2.3"/><circle cx="1262.4" cy="396.3" r="2.3"/><circle cx="1269" cy="396.3" r="2.3"/><circle cx="1276" cy="396.3" r="2.3"/><circle cx="1315.5" cy="396.3" r="2.3"/><circle cx="1323.6" cy="396.3" r="2.3"/><circle cx="1345.2" cy="396.3" r="2.3"/><circle cx="1359.6" cy="396.3" r="2.3"/><circle cx="1363.5" cy="396.3" r="2.3"/><circle cx="1384.2" cy="396.3" r="2.3"/><circle cx="1393.8" cy="396.3" r="2.3"/><circle cx="1555" cy="396.3" r="2.3"/><circle cx="1359.6" cy="400.8" r="2.3"/></g>
<g fill="#a3a3a3"><circle cx="1114" cy="566.4" r="2.3"/><circle cx="1139.6" cy="566.4" r="2.3"/><circle cx="1179.3" cy="566.4" r="2.3"/><circle cx="1196.8" cy="566.4" r="2.3"/><circle cx="1204.3" cy="566.4" r="2.3"/><circle cx="1265" cy="566.4" r="2.3"/><circle cx="1270.2" cy="566.4" r="2.3"/><circle cx="1297" cy="566.4" r="2.3"/><circle cx="1308.5" cy="566.4" r="2.3"/><circle cx="1322.7" cy="566.4" r="2.3"/><circle cx="1350" cy="566.4" r="2.3"/><circle cx="1374" cy="566.4" r="2.3"/><circle cx="1386.4" cy="566.4" r="2.3"/><circle cx="1392.4" cy="566.4" r="2.3"/><circle cx="1411.7" cy="566.4" r="2.3"/><circle cx="1423.3" cy="566.4" r="2.3"/><circle cx="1428.2" cy="566.4" r="2.3"/><circle cx="1441.2" cy="566.4" r="2.3"/><circle cx="1460.6" cy="566.4" r="2.3"/><circle cx="1472.7" cy="566.4" r="2.3"/><circle cx="1483.2" cy="566.4" r="2.3"/><circle cx="1488.6" cy="566.4" r="2.3"/><circle cx="1514.6" cy="566.4" r="2.3"/><circle cx="1556.6" cy="566.4" r="2.3"/><circle cx="1572.3" cy="566.4" r="2.3"/><circle cx="1626.9" cy="566.4" r="2.3"/><circle cx="1649.7" cy="566.4" r="2.3"/><circle cx="1692.2" cy="566.4" r="2.3"/><circle cx="1139.6" cy="570.7" r="2.3"/><circle cx="1204.3" cy="570.7" r="2.3"/><circle cx="1392.4" cy="570.7" r="2.3"/><circle cx="1483.2" cy="570.7" r="2.3"/><circle cx="1483.2" cy="575" r="2.3"/></g>
<line x1="1129.1" y1="378.8" x2="1237.9" y2="378.8" stroke="#2e2e2e" stroke-width="1.9"/>
<line x1="1359.9" y1="378.8" x2="1393.8" y2="378.8" stroke="#2e2e2e" stroke-width="1.9"/>
<rect x="1237.9" y="368.8" width="122" height="20" fill="#2c3e50" fill-opacity="0.5" stroke="#2e2e2e" stroke-width="1.8" stroke-linejoin="round"/>
<line x1="1268.1" y1="378.8" x2="1327.9" y2="378.8" stroke="#161f28" stroke-width="4.7"/>
<line x1="1296.2" y1="368.8" x2="1296.2" y2="388.8" stroke="#2e2e2e" stroke-width="3.5"/>
<line x1="1114" y1="548.9" x2="1270.2" y2="548.9" stroke="#2e2e2e" stroke-width="1.9"/>
<line x1="1483.7" y1="548.9" x2="1692.4" y2="548.9" stroke="#2e2e2e" stroke-width="1.9"/>
<rect x="1270.2" y="538.9" width="213.5" height="20" fill="#e31a1c" fill-opacity="0.5" stroke="#2e2e2e" stroke-width="1.8" stroke-linejoin="round"/>
<line x1="1369.2" y1="548.9" x2="1430.7" y2="548.9" stroke="#720d0e" stroke-width="4.7"/>
<line x1="1394.2" y1="538.9" x2="1394.2" y2="558.9" stroke="#2e2e2e" stroke-width="3.5"/>
<g shape-rendering="crispEdges"><rect x="1085" y="175" width="636" height="1" fill="#929aa6"/><rect x="1085" y="735" width="636" height="1" fill="#8b95a3"/><rect x="1085" y="175" width="1" height="561" fill="#5a6878"/><rect x="1720" y="175" width="1" height="561" fill="#959daa"/></g>
<text x="1089.3" y="757.2" font-size="15.9" text-anchor="middle" fill="#34495e">0</text>
<text x="1248.5" y="757.2" font-size="15.9" text-anchor="middle" fill="#34495e">20</text>
<text x="1407.8" y="757.2" font-size="15.9" text-anchor="middle" fill="#34495e">40</text>
<text x="1567" y="757.2" font-size="15.9" text-anchor="middle" fill="#34495e">60</text>
<text x="1079.8" y="385.3" font-size="18.67" text-anchor="end" fill="#231815">blastomeres</text>
<text x="1079.8" y="555.3" font-size="18.67" text-anchor="end" fill="#231815">G1-fibroblasts</text>
<text x="979.6" y="451.7" font-size="21.7" text-anchor="middle" fill="#231815" transform="rotate(-90 979.6 451.7)">Cell type</text>
<text x="1414" y="778.5" font-size="21.7" text-anchor="middle" fill="#231815">Sample−specific ADO, %</text>
<g stroke="#cfcfcf" stroke-width="1" fill="none">
<path d="M1095.4 964.4V1553.4"/>
<path d="M1254.7 964.4V1553.4"/>
<path d="M1414 964.4V1553.4"/>
<path d="M1573.4 964.4V1553.4"/>
<path d="M1078.4 1096.9H1728.6"/>
<path d="M1078.4 1207.9H1728.6"/>
<path d="M1078.4 1318.4H1728.6"/>
<path d="M1078.4 1429.1H1728.6"/>
</g>
<path d="M1115.1 1077.4L1115.1 1041.9L1115.6 1042.7L1116.1 1043.9L1116.6 1045.6L1117.1 1047.6L1117.6 1049.8L1118.1 1051.8L1118.6 1053.5L1119.1 1055.1L1119.7 1056.6L1120.2 1057.8L1120.7 1058.3L1121.2 1057.7L1121.7 1055.8L1122.2 1052.8L1122.7 1049.5L1123.2 1046.1L1123.7 1042.6L1124.2 1038.9L1124.7 1035.1L1125.2 1031.3L1125.7 1027.9L1126.2 1025.2L1126.7 1023.1L1127.3 1021.4L1127.8 1020.6L1128.3 1020.8L1128.8 1021.7L1129.3 1023.3L1129.8 1025.5L1129.8 1077.4Z" fill="#e31a1c"/>
<path d="M1115 1187.9L1115 1176.1L1115.7 1175.7L1116.4 1175.3L1117.1 1175L1117.8 1174.8L1118.5 1174.6L1119.2 1174.5L1119.9 1174.4L1120.6 1174.4L1121.3 1174.4L1122 1174.4L1122.7 1174.5L1123.4 1174.6L1124.1 1174.7L1124.9 1174.8L1125.6 1175L1126.3 1175.2L1127 1175.4L1127.7 1175.6L1128.4 1175.7L1129.1 1175.9L1129.8 1176.1L1130.5 1176.2L1131.2 1176.3L1131.9 1176.4L1132.6 1176.5L1133.3 1176.6L1134 1176.6L1134.7 1176.7L1135.4 1176.7L1136.1 1176.6L1136.9 1176.4L1137.6 1176.2L1138.3 1175.8L1139 1175.4L1139.7 1175L1140.4 1174.5L1141.1 1174L1141.8 1173.5L1142.5 1173L1143.2 1172.4L1143.9 1171.8L1144.6 1171.2L1145.3 1170.5L1146 1169.9L1146.7 1169.3L1147.4 1168.7L1148.1 1168.1L1148.9 1167.5L1149.6 1166.9L1150.3 1166.4L1151 1165.9L1151.7 1165.3L1152.4 1164.9L1153.1 1164.4L1153.8 1164L1154.5 1163.7L1155.2 1163.4L1155.9 1163.1L1156.6 1162.9L1157.3 1162.8L1158 1162.7L1158.7 1162.6L1159.4 1162.5L1160.1 1162.5L1160.9 1162.6L1161.6 1162.8L1162.3 1163L1163 1163.2L1163.7 1163.4L1164.4 1163.7L1165.1 1164L1165.8 1164.2L1166.5 1164.5L1167.2 1164.8L1167.9 1165.1L1168.6 1165.4L1169.3 1165.7L1170 1166L1170.7 1166.2L1171.4 1166.5L1172.1 1166.7L1172.9 1166.9L1173.6 1167.1L1174.3 1167.3L1175 1167.5L1175.7 1167.7L1176.4 1167.9L1177.1 1168.2L1177.8 1168.4L1178.5 1168.7L1179.2 1168.9L1179.9 1169.2L1180.6 1169.5L1181.3 1169.8L1182 1170.1L1182.7 1170.4L1182.7 1187.9Z" fill="#1abc9c"/>
<path d="M1112.3 1297.4L1112.3 1288.5L1113.8 1288.3L1115.3 1288.2L1116.8 1288L1118.3 1287.9L1119.8 1287.8L1121.3 1287.6L1122.8 1287.5L1124.3 1287.4L1125.8 1287.3L1127.3 1287.2L1128.8 1287.1L1130.3 1287L1131.8 1286.9L1133.3 1286.9L1134.8 1286.8L1136.3 1286.8L1137.8 1286.8L1139.3 1286.7L1140.9 1286.7L1142.4 1286.7L1143.9 1286.6L1145.4 1286.6L1146.9 1286.6L1148.4 1286.6L1149.9 1286.5L1151.4 1286.5L1152.9 1286.5L1154.4 1286.5L1155.9 1286.5L1157.4 1286.4L1158.9 1286.4L1160.4 1286.4L1161.9 1286.4L1163.4 1286.4L1164.9 1286.4L1166.4 1286.4L1167.9 1286.4L1169.4 1286.4L1170.9 1286.4L1172.4 1286.4L1173.9 1286.4L1175.4 1286.4L1176.9 1286.4L1178.4 1286.4L1179.9 1286.4L1181.4 1286.4L1182.9 1286.4L1184.4 1286.4L1185.9 1286.4L1187.5 1286.4L1189 1286.4L1190.5 1286.4L1192 1286.4L1193.5 1286.4L1195 1286.4L1196.5 1286.4L1198 1286.3L1199.5 1286.3L1201 1286.3L1202.5 1286.2L1204 1286.2L1205.5 1286.1L1207 1286L1208.5 1286L1210 1285.9L1211.5 1285.9L1213 1285.8L1214.5 1285.8L1216 1285.7L1217.5 1285.7L1219 1285.6L1220.5 1285.6L1222 1285.6L1223.5 1285.6L1225 1285.6L1226.5 1285.6L1228 1285.6L1229.5 1285.7L1231 1285.7L1232.5 1285.8L1234 1285.9L1235.6 1286L1237.1 1286.1L1238.6 1286.3L1240.1 1286.4L1241.6 1286.6L1243.1 1286.7L1244.6 1286.9L1246.1 1287.1L1247.6 1287.3L1249.1 1287.4L1250.6 1287.6L1252.1 1287.8L1253.6 1288L1255.1 1288.3L1256.6 1288.5L1258.1 1288.7L1259.6 1289L1261.1 1289.2L1262.6 1289.4L1264.1 1289.7L1265.6 1289.9L1267.1 1290.2L1268.6 1290.4L1270.1 1290.7L1271.6 1290.9L1273.1 1291.1L1274.6 1291.4L1276.1 1291.6L1277.6 1291.8L1279.1 1292.1L1280.6 1292.3L1282.1 1292.5L1283.7 1292.7L1285.2 1293L1286.7 1293.2L1288.2 1293.4L1289.7 1293.6L1291.2 1293.8L1292.7 1294L1294.2 1294.2L1295.7 1294.4L1297.2 1294.6L1298.7 1294.8L1300.2 1295L1301.7 1295.1L1303.2 1295.3L1304.7 1295.4L1306.2 1295.6L1307.7 1295.7L1309.2 1295.8L1310.7 1296L1312.2 1296.1L1313.7 1296.2L1315.2 1296.2L1316.7 1296.3L1318.2 1296.4L1319.7 1296.5L1321.2 1296.5L1322.7 1296.6L1324.2 1296.6L1325.7 1296.7L1327.2 1296.7L1328.7 1296.8L1330.3 1296.8L1331.8 1296.9L1333.3 1296.9L1334.8 1296.9L1336.3 1297L1337.8 1297L1339.3 1297L1340.8 1297.1L1342.3 1297.1L1343.8 1297.1L1345.3 1297.1L1346.8 1297.1L1348.3 1297.1L1349.8 1297.1L1351.3 1297.2L1352.8 1297.2L1354.3 1297.2L1355.8 1297.2L1357.3 1297.2L1358.8 1297.2L1360.3 1297.2L1361.8 1297.2L1363.3 1297.2L1364.8 1297.2L1366.3 1297.2L1367.8 1297.2L1369.3 1297.2L1370.8 1297.2L1372.3 1297.2L1373.8 1297.2L1375.3 1297.2L1376.8 1297.2L1378.4 1297.2L1379.9 1297.2L1381.4 1297.2L1382.9 1297.2L1384.4 1297.2L1385.9 1297.2L1387.4 1297.2L1388.9 1297.2L1390.4 1297.2L1391.9 1297.2L1393.4 1297.2L1394.9 1297.2L1396.4 1297.2L1397.9 1297.2L1399.4 1297.2L1400.9 1297.2L1402.4 1297.2L1403.9 1297.2L1405.4 1297.2L1406.9 1297.2L1408.4 1297.2L1409.9 1297.2L1411.4 1297.2L1412.9 1297.2L1414.4 1297.2L1415.9 1297.2L1417.4 1297.2L1418.9 1297.2L1420.4 1297.2L1421.9 1297.2L1423.4 1297.2L1424.9 1297.2L1426.5 1297.2L1428 1297.2L1429.5 1297.2L1431 1297.2L1432.5 1297.2L1434 1297.2L1435.5 1297.2L1437 1297.2L1438.5 1297.2L1440 1297.1L1441.5 1297.1L1443 1297.1L1444.5 1297.1L1446 1297L1447.5 1297L1449 1296.9L1450.5 1296.9L1452 1296.8L1453.5 1296.8L1455 1296.7L1456.5 1296.7L1458 1296.6L1459.5 1296.5L1461 1296.5L1462.5 1296.4L1464 1296.3L1465.5 1296.3L1467 1296.2L1468.5 1296.1L1470 1296L1471.5 1295.9L1473.1 1295.9L1474.6 1295.8L1476.1 1295.7L1477.6 1295.6L1479.1 1295.5L1480.6 1295.5L1482.1 1295.4L1483.6 1295.3L1485.1 1295.3L1486.6 1295.2L1488.1 1295.1L1489.6 1295.1L1491.1 1295L1492.6 1294.9L1494.1 1294.9L1495.6 1294.8L1497.1 1294.7L1498.6 1294.7L1500.1 1294.6L1501.6 1294.6L1503.1 1294.5L1504.6 1294.5L1506.1 1294.4L1507.6 1294.3L1507.6 1297.4Z" fill="#ccbe91"/>
<path d="M1120.7 1407.6L1120.7 1404.8L1123.7 1404.6L1126.7 1404.4L1129.7 1404.2L1132.7 1404.1L1135.7 1403.9L1138.7 1403.7L1141.8 1403.5L1144.8 1403.4L1147.8 1403.2L1150.8 1403.1L1153.8 1402.9L1156.8 1402.7L1159.8 1402.6L1162.8 1402.4L1165.9 1402.3L1168.9 1402.1L1171.9 1402L1174.9 1401.9L1177.9 1401.7L1180.9 1401.6L1183.9 1401.5L1187 1401.4L1190 1401.3L1193 1401.2L1196 1401L1199 1400.9L1202 1400.8L1205 1400.7L1208 1400.6L1211.1 1400.5L1214.1 1400.4L1217.1 1400.3L1220.1 1400.2L1223.1 1400.1L1226.1 1400L1229.1 1399.9L1232.2 1399.8L1235.2 1399.7L1238.2 1399.6L1241.2 1399.6L1244.2 1399.5L1247.2 1399.4L1250.2 1399.3L1253.2 1399.2L1256.3 1399.1L1259.3 1399L1262.3 1399L1265.3 1398.9L1268.3 1398.8L1271.3 1398.7L1274.3 1398.6L1277.4 1398.5L1280.4 1398.5L1283.4 1398.4L1286.4 1398.3L1289.4 1398.2L1292.4 1398.1L1295.4 1398.1L1298.4 1398L1301.5 1397.9L1304.5 1397.8L1307.5 1397.8L1310.5 1397.7L1313.5 1397.6L1316.5 1397.5L1319.5 1397.5L1322.6 1397.4L1325.6 1397.4L1328.6 1397.3L1331.6 1397.2L1334.6 1397.2L1337.6 1397.1L1340.6 1397.1L1343.6 1397L1346.7 1396.9L1349.7 1396.9L1352.7 1396.8L1355.7 1396.8L1358.7 1396.7L1361.7 1396.7L1364.7 1396.7L1367.8 1396.6L1370.8 1396.6L1373.8 1396.6L1376.8 1396.6L1379.8 1396.6L1382.8 1396.7L1385.8 1396.7L1388.8 1396.8L1391.9 1396.9L1394.9 1396.9L1397.9 1397.1L1400.9 1397.2L1403.9 1397.3L1406.9 1397.4L1409.9 1397.6L1413 1397.7L1416 1397.8L1419 1398L1422 1398.1L1425 1398.3L1428 1398.4L1431 1398.6L1434 1398.7L1437.1 1398.9L1440.1 1399L1443.1 1399.1L1446.1 1399.3L1449.1 1399.4L1452.1 1399.5L1455.1 1399.7L1458.2 1399.8L1461.2 1399.9L1464.2 1400L1467.2 1400.2L1470.2 1400.3L1473.2 1400.4L1476.2 1400.5L1479.2 1400.6L1482.3 1400.8L1485.3 1400.9L1488.3 1401L1491.3 1401.1L1494.3 1401.2L1497.3 1401.4L1500.3 1401.5L1503.4 1401.6L1506.4 1401.7L1509.4 1401.8L1512.4 1402L1515.4 1402.1L1518.4 1402.2L1521.4 1402.3L1524.4 1402.4L1527.5 1402.6L1530.5 1402.7L1533.5 1402.8L1536.5 1402.9L1539.5 1403L1542.5 1403.2L1545.5 1403.3L1548.6 1403.4L1551.6 1403.5L1554.6 1403.7L1557.6 1403.8L1560.6 1403.9L1563.6 1404L1566.6 1404.1L1569.6 1404.3L1572.7 1404.4L1575.7 1404.5L1578.7 1404.6L1581.7 1404.7L1584.7 1404.9L1587.7 1405L1590.7 1405.1L1593.8 1405.2L1596.8 1405.2L1599.8 1405.3L1602.8 1405.4L1605.8 1405.5L1608.8 1405.5L1611.8 1405.6L1614.8 1405.6L1617.9 1405.7L1620.9 1405.7L1623.9 1405.8L1626.9 1405.8L1629.9 1405.9L1632.9 1405.9L1635.9 1405.9L1639 1406L1642 1406L1645 1406L1648 1406.1L1651 1406.1L1654 1406.1L1657 1406.2L1660 1406.2L1663.1 1406.2L1666.1 1406.3L1669.1 1406.3L1672.1 1406.3L1675.1 1406.3L1678.1 1406.4L1681.1 1406.4L1684.2 1406.4L1687.2 1406.4L1690.2 1406.4L1693.2 1406.4L1696.2 1406.5L1699.2 1406.5L1699.2 1407.6Z" fill="#2c3e50"/>
<g fill="#a3a3a3"><circle cx="1115.2" cy="1108.9" r="2.4"/><circle cx="1125.8" cy="1108.9" r="2.4"/><circle cx="1129.8" cy="1108.9" r="2.4"/></g>
<g fill="#a3a3a3"><circle cx="1115" cy="1219.5" r="2.4"/><circle cx="1126.9" cy="1219.5" r="2.4"/><circle cx="1146.3" cy="1219.5" r="2.4"/><circle cx="1153.3" cy="1219.5" r="2.4"/><circle cx="1163.3" cy="1219.5" r="2.4"/><circle cx="1163.3" cy="1223.8" r="2.4"/><circle cx="1181" cy="1219.5" r="2.4"/><circle cx="1181" cy="1223.8" r="2.4"/></g>
<g fill="#a3a3a3"><circle cx="1112.3" cy="1330.3" r="2.4"/><circle cx="1121.5" cy="1330.3" r="2.4"/><circle cx="1136.1" cy="1330.3" r="2.4"/><circle cx="1173.8" cy="1330.3" r="2.4"/><circle cx="1200.6" cy="1330.3" r="2.4"/><circle cx="1229.4" cy="1330.3" r="2.4"/><circle cx="1244.1" cy="1330.3" r="2.4"/><circle cx="1259.1" cy="1330.3" r="2.4"/><circle cx="1507.2" cy="1330.3" r="2.4"/></g>
<g fill="#a3a3a3"><circle cx="1120" cy="1441.3" r="2.4"/><circle cx="1135" cy="1441.3" r="2.4"/><circle cx="1145.9" cy="1441.3" r="2.4"/><circle cx="1145.9" cy="1445.6" r="2.4"/><circle cx="1186.3" cy="1441.3" r="2.4"/><circle cx="1186.3" cy="1445.6" r="2.4"/><circle cx="1196.9" cy="1441.3" r="2.4"/><circle cx="1203" cy="1441.3" r="2.4"/><circle cx="1210.6" cy="1441.3" r="2.4"/><circle cx="1210.6" cy="1445.6" r="2.4"/><circle cx="1231.3" cy="1441.3" r="2.4"/><circle cx="1243.2" cy="1441.3" r="2.4"/><circle cx="1248.2" cy="1441.3" r="2.4"/><circle cx="1270.2" cy="1441.3" r="2.4"/><circle cx="1270.2" cy="1445.6" r="2.4"/><circle cx="1276" cy="1441.3" r="2.4"/><circle cx="1276" cy="1445.6" r="2.4"/><circle cx="1282.6" cy="1441.3" r="2.4"/><circle cx="1303.4" cy="1441.3" r="2.4"/><circle cx="1314.9" cy="1441.3" r="2.4"/><circle cx="1321.9" cy="1441.3" r="2.4"/><circle cx="1329.7" cy="1441.3" r="2.4"/><circle cx="1329.7" cy="1445.6" r="2.4"/><circle cx="1351.8" cy="1441.3" r="2.4"/><circle cx="1356.5" cy="1441.3" r="2.4"/><circle cx="1366.2" cy="1441.3" r="2.4"/><circle cx="1366.2" cy="1445.6" r="2.4"/><circle cx="1370.3" cy="1441.3" r="2.4"/><circle cx="1380.6" cy="1441.3" r="2.4"/><circle cx="1392.2" cy="1441.3" r="2.4"/><circle cx="1392.2" cy="1445.6" r="2.4"/><circle cx="1399.2" cy="1441.3" r="2.4"/><circle cx="1399.2" cy="1445.6" r="2.4"/><circle cx="1399.2" cy="1449.9" r="2.4"/><circle cx="1418" cy="1441.3" r="2.4"/><circle cx="1430.2" cy="1441.3" r="2.4"/><circle cx="1434.8" cy="1441.3" r="2.4"/><circle cx="1447.8" cy="1441.3" r="2.4"/><circle cx="1467.5" cy="1441.3" r="2.4"/><circle cx="1479.2" cy="1441.3" r="2.4"/><circle cx="1490.1" cy="1441.3" r="2.4"/><circle cx="1490.1" cy="1445.6" r="2.4"/><circle cx="1490.1" cy="1449.9" r="2.4"/><circle cx="1495.5" cy="1441.3" r="2.4"/><circle cx="1521.4" cy="1441.3" r="2.4"/><circle cx="1562.4" cy="1441.3" r="2.4"/><circle cx="1562.4" cy="1445.6" r="2.4"/><circle cx="1579.2" cy="1441.3" r="2.4"/><circle cx="1634" cy="1441.3" r="2.4"/><circle cx="1656.6" cy="1441.3" r="2.4"/><circle cx="1699.2" cy="1441.3" r="2.4"/></g>
<line x1="1115.1" y1="1096.8" x2="1120.3" y2="1096.8" stroke="#2e2e2e" stroke-width="1.9"/>
<line x1="1128.2" y1="1096.8" x2="1129.8" y2="1096.8" stroke="#2e2e2e" stroke-width="1.9"/>
<rect x="1120.3" y="1090" width="7.9" height="13.6" fill="#e31a1c" fill-opacity="0.5" stroke="#2e2e2e" stroke-width="2.0" stroke-linejoin="round"/>
<line x1="1122.6" y1="1096.8" x2="1123.4" y2="1096.8" stroke="#720d0e" stroke-width="4"/>
<line x1="1126" y1="1090" x2="1126" y2="1103.6" stroke="#2e2e2e" stroke-width="3.8"/>
<line x1="1115" y1="1207.7" x2="1141.7" y2="1207.7" stroke="#2e2e2e" stroke-width="1.9"/>
<line x1="1167.8" y1="1207.7" x2="1182.7" y2="1207.7" stroke="#2e2e2e" stroke-width="1.9"/>
<rect x="1141.7" y="1201" width="26.1" height="13.4" fill="#1abc9c" fill-opacity="0.5" stroke="#2e2e2e" stroke-width="2.0" stroke-linejoin="round"/>
<line x1="1151.9" y1="1207.7" x2="1163.2" y2="1207.7" stroke="#0d5e4e" stroke-width="4.2"/>
<line x1="1158.2" y1="1201" x2="1158.2" y2="1214.4" stroke="#2e2e2e" stroke-width="3.6"/>
<line x1="1112.3" y1="1318.5" x2="1136.7" y2="1318.5" stroke="#2e2e2e" stroke-width="1.9"/>
<line x1="1243.9" y1="1318.5" x2="1259.1" y2="1318.5" stroke="#2e2e2e" stroke-width="1.9"/>
<rect x="1136.7" y="1311.9" width="107.2" height="13.2" fill="#ccbe91" fill-opacity="0.5" stroke="#2e2e2e" stroke-width="2.0" stroke-linejoin="round"/>
<line x1="1179.6" y1="1318.5" x2="1224" y2="1318.5" stroke="#665f48" stroke-width="4.2"/>
<line x1="1200.6" y1="1311.9" x2="1200.6" y2="1325.1" stroke="#2e2e2e" stroke-width="3.6"/>
<line x1="1120" y1="1429.1" x2="1258.9" y2="1429.1" stroke="#2e2e2e" stroke-width="1.9"/>
<line x1="1457.2" y1="1429.1" x2="1699.2" y2="1429.1" stroke="#2e2e2e" stroke-width="1.9"/>
<rect x="1258.9" y="1422.4" width="198.3" height="13.4" fill="#2c3e50" fill-opacity="0.5" stroke="#2e2e2e" stroke-width="2.0" stroke-linejoin="round"/>
<line x1="1322.1" y1="1429.1" x2="1393.4" y2="1429.1" stroke="#161f28" stroke-width="4.5"/>
<line x1="1365.2" y1="1422.4" x2="1365.2" y2="1435.8" stroke="#2e2e2e" stroke-width="3.6"/>
<g shape-rendering="crispEdges"><rect x="1083" y="964" width="646" height="1" fill="#5a6878"/><rect x="1083" y="1550" width="646" height="1" fill="#929aa6"/><rect x="1083" y="964" width="1" height="587" fill="#5a6878"/><rect x="1728" y="964" width="1" height="587" fill="#66727f"/></g>
<text x="1095.4" y="1572.1" font-size="15.9" text-anchor="middle" fill="#34495e">0</text>
<text x="1254.7" y="1572.1" font-size="15.9" text-anchor="middle" fill="#34495e">20</text>
<text x="1414" y="1572.1" font-size="15.9" text-anchor="middle" fill="#34495e">40</text>
<text x="1573.4" y="1572.1" font-size="15.9" text-anchor="middle" fill="#34495e">60</text>
<text x="1069.2" y="1102.6" font-size="16.2" text-anchor="end" fill="#231815">six cells</text>
<text x="1069.2" y="1213.6" font-size="16.2" text-anchor="end" fill="#231815">three cells</text>
<text x="1069.2" y="1324.1" font-size="16.2" text-anchor="end" fill="#231815">two cells</text>
<text x="1074.5" y="1434.8" font-size="16.2" text-anchor="end" fill="#231815">single cells</text>
<text x="984" y="1268.2" font-size="21.7" text-anchor="middle" fill="#231815" transform="rotate(-90 984 1268.2)">Number of Cells pooled</text>
<text x="1414.4" y="1594.2" font-size="21.7" text-anchor="middle" fill="#231815">Sample-specific ADO, %</text>
<g stroke="#cfcfcf" stroke-width="1" fill="none">
<path d="M285.5 1026.5V2268"/>
<path d="M453.5 1026.5V2268"/>
<path d="M621.5 1026.5V2268"/>
<path d="M789.5 1026.5V2268"/>
<path d="M138.4 1087.1H849.6"/>
<path d="M138.4 1137.8H849.6"/>
<path d="M138.4 1188.8H849.6"/>
<path d="M138.4 1240.1H849.6"/>
<path d="M138.4 1290.8H849.6"/>
<path d="M138.4 1342.1H849.6"/>
<path d="M138.4 1393.4H849.6"/>
<path d="M138.4 1444.5H849.6"/>
<path d="M138.4 1494.9H849.6"/>
<path d="M138.4 1546.2H849.6"/>
<path d="M138.4 1597.2H849.6"/>
<path d="M138.4 1648.2H849.6"/>
<path d="M138.4 1699.5H849.6"/>
<path d="M138.4 1750.5H849.6"/>
<path d="M138.4 1801.3H849.6"/>
<path d="M138.4 1852.6H849.6"/>
<path d="M138.4 1903.6H849.6"/>
<path d="M138.4 1954.3H849.6"/>
<path d="M138.4 2005.6H849.6"/>
<path d="M138.4 2056.6H849.6"/>
<path d="M138.4 2107.6H849.6"/>
<path d="M138.4 2158.9H849.6"/>
<path d="M138.4 2209.9H849.6"/>
</g>
<path d="M285.7 1078L285.7 1070.4L286.9 1070.3L288.1 1070.1L289.3 1070L290.5 1069.9L291.7 1069.8L292.9 1069.7L294.1 1069.6L295.3 1069.5L296.5 1069.4L297.7 1069.3L298.9 1069.2L300.1 1069.1L301.3 1069L302.5 1069L303.7 1068.9L304.9 1068.8L306.1 1068.7L307.3 1068.6L308.5 1068.6L309.7 1068.5L310.9 1068.5L312.1 1068.4L313.3 1068.4L314.5 1068.3L315.7 1068.3L317 1068.2L318.2 1068.2L319.4 1068.1L320.6 1068L321.8 1068L323 1067.9L324.2 1067.8L325.4 1067.7L326.6 1067.6L327.8 1067.5L329 1067.4L330.2 1067.2L331.4 1067.1L332.6 1067L333.8 1066.8L335 1066.6L336.2 1066.5L337.4 1066.3L338.6 1066.1L339.8 1065.9L341 1065.7L342.2 1065.5L343.4 1065.3L344.6 1065L345.8 1064.8L347 1064.6L348.2 1064.3L349.4 1064L350.6 1063.8L351.8 1063.5L353 1063.3L354.2 1063L355.4 1062.8L356.6 1062.6L357.8 1062.3L359 1062.1L360.2 1061.9L361.4 1061.7L362.6 1061.5L363.8 1061.3L365 1061.1L366.2 1060.9L367.4 1060.7L368.6 1060.5L369.8 1060.3L371 1060.1L372.2 1060L373.4 1059.8L374.6 1059.6L375.8 1059.5L377 1059.4L378.2 1059.3L379.4 1059.2L380.6 1059.2L381.8 1059.2L383 1059.1L384.2 1059.1L385.4 1059.2L386.6 1059.2L387.8 1059.3L389 1059.4L390.2 1059.5L391.4 1059.7L392.6 1059.9L393.8 1060.1L395 1060.3L396.2 1060.5L397.4 1060.7L398.6 1060.9L399.8 1061.1L401 1061.3L402.2 1061.6L403.4 1061.8L404.6 1062L405.8 1062.2L407 1062.4L408.2 1062.6L409.4 1062.8L410.6 1063L411.8 1063.2L413 1063.4L414.2 1063.6L415.5 1063.8L416.7 1063.9L417.9 1064.1L419.1 1064.3L420.3 1064.4L421.5 1064.5L422.7 1064.6L423.9 1064.7L425.1 1064.8L426.3 1064.8L427.5 1064.9L428.7 1064.9L429.9 1064.9L431.1 1065L432.3 1065L433.5 1065L434.7 1065.1L435.9 1065.1L437.1 1065.2L438.3 1065.3L439.5 1065.3L440.7 1065.4L441.9 1065.5L443.1 1065.6L444.3 1065.7L445.5 1065.8L446.7 1065.9L447.9 1066L449.1 1066.1L450.3 1066.2L451.5 1066.3L452.7 1066.4L453.9 1066.5L455.1 1066.7L456.3 1066.8L457.5 1067L458.7 1067.1L459.9 1067.3L461.1 1067.5L462.3 1067.7L463.5 1068L464.7 1068.2L465.9 1068.4L467.1 1068.7L468.3 1069L469.5 1069.2L470.7 1069.5L471.9 1069.8L473.1 1070L474.3 1070.3L475.5 1070.6L476.7 1070.9L477.9 1071.2L479.1 1071.6L480.3 1071.9L480.3 1078Z" fill="#cab2d6"/>
<path d="M289.4 1129L289.4 1120.5L290.6 1120.8L291.8 1121.1L293 1121.4L294.2 1121.7L295.4 1122L296.6 1122.3L297.8 1122.6L299 1122.9L300.2 1123.2L301.4 1123.4L302.6 1123.5L303.8 1123.5L305 1123.2L306.2 1122.6L307.4 1121.7L308.6 1120.7L309.8 1119.7L311 1118.7L312.2 1117.7L313.4 1116.6L314.6 1115.6L315.8 1114.6L317 1113.8L318.2 1113.3L319.4 1113.2L320.6 1113.3L321.8 1113.8L323 1114.5L324.2 1115.5L325.5 1116.7L326.7 1118L327.9 1119.3L329.1 1120.5L330.3 1121.5L331.5 1122.5L332.7 1123.4L333.9 1124.3L335.1 1125.1L336.3 1125.9L337.5 1126.6L338.7 1127.2L339.9 1127.6L341.1 1127.8L342.3 1128L343.5 1128.1L344.7 1128L345.9 1127.8L347.1 1127.3L348.3 1126.6L349.5 1125.6L350.7 1124.3L351.9 1122.8L353.1 1120.9L354.3 1118.9L355.5 1116.6L356.7 1114L357.9 1111.2L359.1 1108.4L360.3 1105.6L361.5 1103L362.7 1100.6L363.9 1098.3L365.2 1096.1L366.4 1094.2L367.6 1092.4L368.8 1090.9L370 1089.8L371.2 1088.9L372.4 1088.4L373.6 1088.3L374.8 1088.4L376 1088.6L377.2 1088.8L378.4 1089L379.6 1089.2L380.8 1089.2L382 1089.3L383.2 1089.4L384.4 1089.4L385.6 1089.5L386.8 1089.6L388 1089.7L389.2 1089.8L390.4 1089.9L391.6 1090.1L392.8 1090.4L394 1091.3L395.2 1092.8L396.4 1095.1L397.6 1097.8L398.8 1100.6L400 1103.5L401.2 1106.3L402.4 1109L403.6 1111.8L404.8 1114.5L406.1 1117.2L407.3 1119.8L408.5 1121.8L409.7 1123.3L410.9 1124.3L412.1 1125L413.3 1125.7L414.5 1126.3L415.7 1126.9L416.9 1127.4L418.1 1127.7L419.3 1127.8L420.5 1127.6L421.7 1127.4L422.9 1127.1L424.1 1126.7L425.3 1126.3L426.5 1125.8L427.7 1125.2L428.9 1124.6L430.1 1123.9L431.3 1123.3L432.5 1122.6L433.7 1122L434.9 1121.5L436.1 1121.1L437.3 1120.8L438.5 1120.5L439.7 1120.5L440.9 1120.5L442.1 1120.7L443.3 1121.1L444.5 1121.5L445.7 1121.9L447 1122L448.2 1122.1L449.4 1122.1L450.6 1122.1L451.8 1122L453 1122L454.2 1121.8L455.4 1121.5L456.6 1121.1L457.8 1120.8L459 1120.5L460.2 1120.2L461.4 1120.1L462.6 1120.3L463.8 1120.6L465 1121.1L466.2 1121.7L467.4 1122.3L468.6 1123L469.8 1123.9L471 1124.7L472.2 1125.6L473.4 1126.3L474.6 1126.8L475.8 1127.3L477 1127.7L478.2 1128L479.4 1128.3L480.6 1128.5L481.8 1128.6L483 1128.7L484.2 1128.7L485.4 1128.7L486.7 1128.7L487.9 1128.7L489.1 1128.7L490.3 1128.7L491.5 1128.7L492.7 1128.7L493.9 1128.7L495.1 1128.7L496.3 1128.7L497.5 1128.7L498.7 1128.7L499.9 1128.7L501.1 1128.7L502.3 1128.7L503.5 1128.7L504.7 1128.7L505.9 1128.7L507.1 1128.7L508.3 1128.7L509.5 1128.7L510.7 1128.7L511.9 1128.7L513.1 1128.7L514.3 1128.7L515.5 1128.7L516.7 1128.7L517.9 1128.7L519.1 1128.7L520.3 1128.7L521.5 1128.7L522.7 1128.7L523.9 1128.7L525.1 1128.7L526.3 1128.6L527.6 1128.5L528.8 1128.3L530 1128.1L531.2 1127.8L532.4 1127.4L533.6 1127L534.8 1126.5L536 1125.8L537.2 1125L538.4 1124.1L539.6 1123.3L540.8 1122.6L542 1122L543.2 1121.5L544.4 1121L545.6 1120.5L546.8 1120.2L546.8 1129Z" fill="#ff7f00"/>
<path d="M251.1 1179.7L251.1 1173.6L252.3 1173.3L253.5 1173.1L254.7 1172.9L255.9 1172.7L257.1 1172.6L258.3 1172.5L259.5 1172.4L260.7 1172.4L261.9 1172.4L263.1 1172.4L264.3 1172.5L265.5 1172.6L266.7 1172.6L268 1172.7L269.2 1172.8L270.4 1172.9L271.6 1173.1L272.8 1173.2L274 1173.3L275.2 1173.5L276.4 1173.6L277.6 1173.8L278.8 1174L280 1174.1L281.2 1174.3L282.4 1174.5L283.6 1174.7L284.8 1174.8L286 1175L287.2 1175.2L288.4 1175.3L289.6 1175.5L290.8 1175.6L292 1175.7L293.2 1175.9L294.4 1176L295.6 1176.1L296.8 1176.2L298 1176.3L299.2 1176.4L300.4 1176.4L301.6 1176.5L302.8 1176.6L304 1176.7L305.2 1176.7L306.4 1176.8L307.6 1176.8L308.8 1176.9L310 1176.9L311.3 1177L312.5 1177L313.7 1177L314.9 1177L316.1 1177L317.3 1177L318.5 1176.9L319.7 1176.7L320.9 1176.6L322.1 1176.3L323.3 1176.1L324.5 1175.8L325.7 1175.4L326.9 1175L328.1 1174.6L329.3 1174.1L330.5 1173.7L331.7 1173.2L332.9 1172.7L334.1 1172.2L335.3 1171.6L336.5 1171.1L337.7 1170.5L338.9 1170L340.1 1169.4L341.3 1168.9L342.5 1168.3L343.7 1167.8L344.9 1167.3L346.1 1166.7L347.3 1166.2L348.5 1165.8L349.7 1165.3L350.9 1164.8L352.1 1164.4L353.3 1163.9L354.6 1163.4L355.8 1163L357 1162.5L358.2 1161.9L359.4 1161.4L360.6 1160.8L361.8 1160.3L363 1159.7L364.2 1159.1L365.4 1158.6L366.6 1158L367.8 1157.4L369 1156.8L370.2 1156.2L371.4 1155.7L372.6 1155.1L373.8 1154.5L375 1153.8L376.2 1153.2L377.4 1152.6L378.6 1152L379.8 1151.4L381 1151L382.2 1150.8L383.4 1150.7L384.6 1150.8L385.8 1150.8L387 1150.9L388.2 1151L389.4 1151.3L390.6 1151.7L391.8 1152.3L393 1153L394.2 1153.8L395.4 1154.8L396.6 1155.7L397.9 1156.7L399.1 1157.8L400.3 1158.9L401.5 1160L402.7 1161.1L403.9 1162.2L405.1 1163.2L406.3 1164.3L407.5 1165.4L408.7 1166.4L409.9 1167.4L411.1 1168.3L412.3 1169.2L413.5 1170.1L414.7 1171L415.9 1171.8L417.1 1172.6L418.3 1173.3L419.5 1173.9L420.7 1174.4L421.9 1174.8L423.1 1175L424.3 1175.1L425.5 1175.1L426.7 1175L427.9 1174.9L429.1 1174.7L430.3 1174.5L431.5 1174.3L432.7 1174L433.9 1173.7L435.1 1173.4L436.3 1173.1L437.5 1172.8L438.7 1172.4L439.9 1172.1L441.2 1171.8L442.4 1171.5L443.6 1171.2L444.8 1170.9L446 1170.7L447.2 1170.5L448.4 1170.3L449.6 1170.2L450.8 1170.1L452 1170L453.2 1169.9L454.4 1169.9L455.6 1169.9L456.8 1170L458 1170.1L459.2 1170.2L460.4 1170.3L461.6 1170.5L462.8 1170.7L464 1171L465.2 1171.2L466.4 1171.5L467.6 1171.8L468.8 1172.1L470 1172.5L471.2 1172.9L472.4 1173.3L472.4 1179.7Z" fill="#fdbf6f"/>
<path d="M174.9 1230.7L174.9 1228.6L176.1 1228.6L177.3 1228.7L178.5 1228.7L179.7 1228.8L180.9 1228.8L182.1 1228.8L183.3 1228.9L184.5 1228.9L185.7 1229L186.9 1229L188.1 1229L189.3 1229.1L190.5 1229.1L191.7 1229.2L192.9 1229.2L194.1 1229.3L195.3 1229.3L196.5 1229.3L197.7 1229.4L198.9 1229.4L200.1 1229.5L201.3 1229.5L202.5 1229.5L203.7 1229.6L204.9 1229.6L206.1 1229.7L207.3 1229.7L208.5 1229.7L209.7 1229.8L210.9 1229.8L212.1 1229.9L213.3 1229.9L214.5 1229.9L215.7 1230L216.9 1230L218.1 1230L219.3 1230.1L220.5 1230.1L221.7 1230.1L222.9 1230.2L224.1 1230.2L225.3 1230.2L226.5 1230.3L227.7 1230.3L228.9 1230.3L230.1 1230.4L231.3 1230.4L232.5 1230.4L233.7 1230.4L234.9 1230.4L236.1 1230.4L237.3 1230.4L238.5 1230.4L239.7 1230.4L240.9 1230.4L242.1 1230.4L243.3 1230.4L244.5 1230.4L245.7 1230.4L246.9 1230.3L248.1 1230.3L249.3 1230.3L250.5 1230.2L251.7 1230.2L252.9 1230.2L254.1 1230.1L255.3 1230.1L256.5 1230.1L257.7 1230L258.9 1230L260.1 1229.9L261.3 1229.9L262.5 1229.8L263.7 1229.7L264.9 1229.6L266.1 1229.5L267.3 1229.4L268.5 1229.3L269.7 1229.2L270.9 1229L272.1 1228.8L273.3 1228.6L274.5 1228.4L275.7 1228.2L276.9 1228L278.1 1227.7L279.3 1227.5L280.5 1227.3L281.7 1227L282.9 1226.8L284.1 1226.5L285.3 1226.3L286.5 1226L287.7 1225.8L288.9 1225.5L290.1 1225.3L291.3 1225L292.5 1224.8L293.7 1224.5L294.9 1224.3L296.1 1224L297.3 1223.7L298.5 1223.5L299.7 1223.2L300.9 1222.9L302.1 1222.7L303.3 1222.4L304.5 1222.1L305.7 1221.9L306.9 1221.6L308.1 1221.4L309.3 1221.1L310.5 1220.9L311.7 1220.6L312.9 1220.4L314.1 1220.2L315.3 1220L316.5 1219.8L317.7 1219.5L318.9 1219.3L320.1 1219.2L321.3 1219L322.5 1218.8L323.7 1218.6L324.9 1218.4L326.1 1218.2L327.3 1218.1L328.5 1217.9L329.7 1217.7L330.9 1217.6L332.1 1217.4L333.3 1217.3L334.5 1217.1L335.7 1217L336.9 1216.8L338.1 1216.7L339.3 1216.6L340.5 1216.4L341.7 1216.3L342.9 1216.2L344.1 1216.1L345.3 1215.9L346.5 1215.8L347.7 1215.7L348.9 1215.6L350.1 1215.5L351.3 1215.4L352.5 1215.3L353.7 1215.2L354.9 1215.1L356.1 1215L357.3 1214.9L358.5 1214.8L359.7 1214.7L360.9 1214.7L362.1 1214.6L363.3 1214.5L364.5 1214.4L365.7 1214.4L366.9 1214.3L368.1 1214.3L369.3 1214.3L370.5 1214.3L371.7 1214.3L372.9 1214.3L374.1 1214.3L375.3 1214.4L376.5 1214.4L377.7 1214.5L378.9 1214.6L380.1 1214.8L381.3 1214.9L382.5 1215L383.7 1215.2L384.9 1215.4L386.1 1215.6L387.3 1215.7L388.5 1215.9L389.7 1216.1L390.9 1216.3L392.1 1216.5L393.3 1216.7L394.5 1216.9L395.7 1217.1L396.9 1217.3L398.1 1217.5L399.3 1217.7L400.5 1217.9L401.7 1218L402.9 1218.2L404.1 1218.4L405.3 1218.5L406.5 1218.7L407.7 1218.9L408.9 1219L410.1 1219.2L411.3 1219.4L412.5 1219.5L413.7 1219.7L414.9 1219.8L416.1 1220L417.3 1220.1L418.5 1220.3L419.7 1220.4L420.9 1220.6L422.1 1220.7L423.3 1220.8L424.5 1221L425.7 1221.1L426.9 1221.3L428.1 1221.4L429.3 1221.5L430.5 1221.6L431.7 1221.8L432.9 1221.9L434.1 1222L435.3 1222.2L436.5 1222.3L437.7 1222.4L438.9 1222.6L440.1 1222.7L441.3 1222.8L442.5 1223L443.7 1223.1L444.9 1223.3L446.1 1223.4L447.3 1223.6L448.5 1223.7L449.7 1223.9L450.9 1224L452.1 1224.2L453.3 1224.3L454.5 1224.5L455.7 1224.6L456.9 1224.8L458.1 1224.9L459.3 1225.1L460.5 1225.3L461.7 1225.4L462.9 1225.6L464.1 1225.7L465.3 1225.8L466.5 1226L467.7 1226.1L468.9 1226.3L470.1 1226.4L471.3 1226.5L472.5 1226.6L473.7 1226.7L474.9 1226.9L476.1 1227L477.3 1227.1L478.5 1227.2L479.7 1227.3L480.9 1227.3L482.1 1227.4L483.3 1227.5L484.5 1227.6L485.7 1227.7L486.9 1227.8L488.1 1227.9L489.3 1228L490.5 1228.1L491.7 1228.2L492.9 1228.3L494.1 1228.4L495.3 1228.5L496.5 1228.6L497.7 1228.7L498.9 1228.7L500.1 1228.8L501.3 1228.9L502.5 1229L503.7 1229L504.9 1229.1L506.1 1229.1L507.3 1229.2L508.5 1229.2L509.7 1229.2L510.9 1229.2L512.1 1229.2L513.3 1229.2L514.5 1229.1L515.7 1229.1L516.9 1229.1L518.1 1229.1L519.3 1229.1L520.5 1229.1L521.7 1229.1L522.9 1229L524.1 1229L525.3 1229L526.5 1229L527.7 1229L528.9 1229L530.1 1228.9L531.3 1228.9L532.5 1228.9L533.7 1228.9L534.9 1228.9L536.1 1228.9L537.3 1228.8L538.5 1228.8L539.7 1228.8L540.9 1228.8L542.1 1228.8L543.3 1228.8L544.5 1228.7L545.7 1228.7L546.9 1228.7L548.1 1228.7L549.3 1228.7L550.5 1228.7L551.7 1228.6L552.9 1228.6L554.1 1228.6L555.3 1228.6L556.5 1228.6L556.5 1230.7Z" fill="#fb9a99"/>
<path d="M300.3 1281.7L300.3 1274.1L301.5 1273.9L302.7 1273.7L303.9 1273.4L305.1 1273.2L306.3 1273.1L307.5 1272.9L308.7 1272.7L309.9 1272.6L311.1 1272.5L312.3 1272.4L313.5 1272.2L314.7 1272.1L315.9 1272L317.1 1271.9L318.3 1271.9L319.5 1271.8L320.7 1271.7L321.9 1271.6L323.1 1271.6L324.3 1271.5L325.5 1271.5L326.7 1271.4L327.9 1271.4L329.1 1271.4L330.3 1271.3L331.5 1271.3L332.7 1271.3L333.9 1271.3L335.1 1271.3L336.3 1271.3L337.5 1271.4L338.7 1271.4L339.9 1271.4L341.1 1271.4L342.3 1271.4L343.5 1271.4L344.7 1271.4L345.9 1271.4L347.1 1271.4L348.3 1271.4L349.5 1271.4L350.7 1271.4L351.9 1271.4L353.1 1271.4L354.3 1271.3L355.5 1271.3L356.7 1271.3L357.9 1271.2L359.1 1271.2L360.3 1271.2L361.5 1271.1L362.7 1271.1L363.9 1271L365.1 1271L366.3 1270.9L367.5 1270.9L368.7 1270.8L369.9 1270.7L371.1 1270.6L372.3 1270.6L373.5 1270.5L374.7 1270.4L375.9 1270.3L377.1 1270.2L378.3 1270.1L379.6 1270L380.8 1269.9L382 1269.8L383.2 1269.6L384.4 1269.5L385.6 1269.4L386.8 1269.3L388 1269.1L389.2 1269L390.4 1268.8L391.6 1268.7L392.8 1268.5L394 1268.4L395.2 1268.2L396.4 1268.1L397.6 1267.9L398.8 1267.8L400 1267.6L401.2 1267.4L402.4 1267.3L403.6 1267.1L404.8 1266.9L406 1266.8L407.2 1266.6L408.4 1266.4L409.6 1266.3L410.8 1266.1L412 1266L413.2 1265.9L414.4 1265.7L415.6 1265.6L416.8 1265.5L418 1265.4L419.2 1265.3L420.4 1265.1L421.6 1265L422.8 1264.9L424 1264.8L425.2 1264.7L426.4 1264.6L427.6 1264.5L428.8 1264.5L430 1264.4L431.2 1264.4L432.4 1264.3L433.6 1264.3L434.8 1264.3L436 1264.4L437.2 1264.4L438.4 1264.4L439.6 1264.5L440.8 1264.6L442 1264.8L443.2 1265L444.4 1265.2L445.6 1265.4L446.8 1265.6L448 1265.9L449.2 1266.2L450.4 1266.5L451.6 1266.7L452.8 1267L454 1267.3L455.2 1267.6L456.4 1268L457.6 1268.3L458.8 1268.7L460 1269L461.2 1269.4L462.4 1269.8L463.6 1270.2L464.8 1270.6L466 1271L467.2 1271.4L468.4 1271.7L469.6 1272.1L470.8 1272.5L472 1272.9L473.2 1273.3L474.4 1273.6L475.6 1274L476.8 1274.4L478 1274.7L479.2 1275.1L480.4 1275.4L481.6 1275.8L482.8 1276.1L484 1276.4L485.2 1276.8L486.4 1277.1L487.6 1277.4L488.8 1277.7L490 1278L491.2 1278.2L492.4 1278.5L493.6 1278.7L494.8 1279L496 1279.2L497.2 1279.4L498.4 1279.5L499.6 1279.7L500.8 1279.8L502 1280L503.2 1280.1L504.4 1280.2L505.6 1280.3L506.8 1280.4L508 1280.5L509.2 1280.6L510.4 1280.7L511.6 1280.7L512.9 1280.8L514.1 1280.9L515.3 1280.9L516.5 1281L517.7 1281L518.9 1281.1L520.1 1281.1L521.3 1281.1L522.5 1281.1L523.7 1281.1L524.9 1281.1L526.1 1281.1L527.3 1281.1L528.5 1281.1L529.7 1281L530.9 1281L532.1 1281L533.3 1281L534.5 1281L535.7 1281L536.9 1280.9L538.1 1280.9L539.3 1280.9L540.5 1280.9L541.7 1280.8L542.9 1280.8L544.1 1280.8L545.3 1280.7L546.5 1280.7L547.7 1280.7L548.9 1280.6L550.1 1280.6L551.3 1280.6L552.5 1280.5L553.7 1280.5L554.9 1280.5L556.1 1280.4L557.3 1280.4L558.5 1280.4L559.7 1280.3L560.9 1280.3L562.1 1280.2L563.3 1280.2L564.5 1280.2L565.7 1280.1L566.9 1280.1L568.1 1280L569.3 1280L570.5 1279.9L571.7 1279.9L571.7 1281.7Z" fill="#b2df8a"/>
<path d="M317.9 1332.7L317.9 1313.6L319.1 1312.8L320.3 1312.4L321.5 1312.6L322.7 1313.3L323.9 1314L325.1 1314.8L326.3 1315.5L327.5 1316.2L328.7 1316.8L329.9 1317.5L331.1 1318.1L332.3 1318.4L333.5 1318.2L334.7 1317.3L335.9 1315.8L337.1 1313.9L338.3 1311.7L339.5 1309.3L340.7 1306.7L342 1303.8L343.2 1300.9L344.4 1298.1L345.6 1295.5L346.8 1293.3L348 1291.3L349.2 1289.7L350.4 1288.4L351.6 1287.8L352.8 1287.8L354 1288.1L355.2 1288.6L356.4 1289.4L357.6 1290.4L358.8 1292.1L360 1293.9L361.2 1295.1L362.4 1295.6L363.6 1296L364.8 1296.4L366 1296.8L367.2 1297.2L368.4 1297.6L369.6 1298L370.8 1298.4L372 1298.9L373.2 1299.6L374.4 1300.5L375.6 1301.9L376.8 1303.6L378 1305.6L379.2 1307.9L380.4 1310.2L381.6 1312.6L382.8 1315.1L384 1317.5L385.2 1319.7L386.4 1321.9L387.6 1323.8L388.9 1325.6L390.1 1327.1L391.3 1328.4L392.5 1329.4L393.7 1330.2L394.9 1330.8L396.1 1331.3L397.3 1331.7L398.5 1332L399.7 1332.2L400.9 1332.4L402.1 1332.5L403.3 1332.5L404.5 1332.5L405.7 1332.5L406.9 1332.5L408.1 1332.5L409.3 1332.5L410.5 1332.5L411.7 1332.5L412.9 1332.5L414.1 1332.5L415.3 1332.5L416.5 1332.5L417.7 1332.5L418.9 1332.5L420.1 1332.4L421.3 1332.3L422.5 1332.2L423.7 1332.1L424.9 1331.9L426.1 1331.6L427.3 1331.3L428.5 1330.9L429.7 1330.4L430.9 1329.8L432.1 1329.2L433.3 1328.5L434.6 1327.8L435.8 1327.1L437 1326.3L438.2 1325.6L439.4 1324.9L440.6 1324.3L441.8 1323.8L443 1323.2L444.2 1322.8L445.4 1322.5L446.6 1322.4L447.8 1322.4L449 1322.6L450.2 1323.1L451.4 1323.7L452.6 1324.5L453.8 1325.4L455 1326.3L456.2 1327.2L457.4 1327.9L458.6 1328.7L459.8 1329.4L461 1330.1L462.2 1330.7L463.4 1331.2L464.6 1331.6L465.8 1331.9L467 1332.1L468.2 1332.2L469.4 1332.3L470.6 1332.4L471.8 1332.4L473 1332.4L474.2 1332.5L475.4 1332.5L476.6 1332.5L477.8 1332.5L479 1332.5L480.2 1332.5L481.5 1332.5L482.7 1332.5L483.9 1332.5L485.1 1332.5L486.3 1332.5L487.5 1332.5L488.7 1332.5L489.9 1332.5L491.1 1332.5L492.3 1332.5L493.5 1332.5L494.7 1332.5L495.9 1332.5L497.1 1332.5L498.3 1332.5L499.5 1332.5L500.7 1332.5L501.9 1332.5L503.1 1332.5L504.3 1332.5L505.5 1332.5L506.7 1332.5L507.9 1332.5L509.1 1332.5L510.3 1332.5L511.5 1332.5L512.7 1332.5L513.9 1332.5L515.1 1332.5L516.3 1332.5L517.5 1332.5L518.7 1332.5L519.9 1332.5L521.1 1332.5L522.3 1332.5L523.5 1332.5L524.7 1332.5L525.9 1332.5L527.2 1332.5L528.4 1332.5L529.6 1332.5L530.8 1332.5L532 1332.5L533.2 1332.5L534.4 1332.5L535.6 1332.5L536.8 1332.5L538 1332.5L539.2 1332.5L540.4 1332.5L541.6 1332.4L542.8 1332.3L544 1332.2L545.2 1332L546.4 1331.9L547.6 1331.6L548.8 1331.3L550 1331L551.2 1330.5L552.4 1330L553.6 1329.4L554.8 1328.7L556 1328.1L557.2 1327.4L558.4 1326.5L559.6 1325.7L560.8 1324.9L562 1324.2L563.2 1323.6L564.4 1323L565.6 1322.5L566.8 1322.1L566.8 1332.7Z" fill="#1f78b4"/>
<path d="M319.4 1384L319.4 1370.1L320.6 1369.6L321.8 1369.1L323 1368.6L324.2 1368.2L325.4 1367.8L326.6 1367.5L327.8 1367.1L329 1366.8L330.2 1366.6L331.4 1366.3L332.6 1366.1L333.9 1365.9L335.1 1365.7L336.3 1365.5L337.5 1365.3L338.7 1365.1L339.9 1365L341.1 1364.8L342.3 1364.7L343.5 1364.6L344.7 1364.5L345.9 1364.3L347.1 1364.2L348.3 1364.2L349.5 1364.1L350.7 1364L351.9 1364L353.1 1364L354.3 1364L355.5 1364L356.7 1364L357.9 1364.1L359.1 1364.2L360.3 1364.2L361.5 1364.3L362.7 1364.4L363.9 1364.5L365.1 1364.7L366.3 1364.8L367.5 1364.9L368.7 1365.1L369.9 1365.2L371.1 1365.4L372.3 1365.6L373.5 1365.8L374.7 1366L375.9 1366.2L377.2 1366.5L378.4 1366.8L379.6 1367.1L380.8 1367.4L382 1367.7L383.2 1367.9L384.4 1368.2L385.6 1368.5L386.8 1368.8L388 1369.1L389.2 1369.4L390.4 1369.7L391.6 1370L392.8 1370.3L394 1370.5L395.2 1370.8L396.4 1371.1L397.6 1371.3L398.8 1371.6L400 1371.9L401.2 1372.1L402.4 1372.4L403.6 1372.7L404.8 1372.9L406 1373.2L407.2 1373.4L408.4 1373.7L409.6 1373.9L410.8 1374.1L412 1374.3L413.2 1374.5L414.4 1374.7L415.6 1374.9L416.8 1375.1L418 1375.3L419.2 1375.4L420.5 1375.6L421.7 1375.8L422.9 1375.9L424.1 1376.1L425.3 1376.2L426.5 1376.3L427.7 1376.4L428.9 1376.6L430.1 1376.7L431.3 1376.7L432.5 1376.8L433.7 1376.9L434.9 1377L436.1 1377L437.3 1377L438.5 1377.1L439.7 1377.1L440.9 1377.1L442.1 1377.1L443.3 1377.1L444.5 1377.1L445.7 1377.1L446.9 1377.1L448.1 1377.1L449.3 1377.1L450.5 1377.1L451.7 1377.1L452.9 1377.1L454.1 1377L455.3 1377L456.5 1376.9L457.7 1376.9L458.9 1376.8L460.1 1376.8L461.3 1376.8L462.5 1376.8L463.8 1376.8L465 1376.9L466.2 1377L467.4 1377.1L468.6 1377.3L469.8 1377.5L471 1377.7L472.2 1377.9L473.4 1378.1L474.6 1378.4L475.8 1378.6L477 1378.9L478.2 1379.1L479.4 1379.4L480.6 1379.6L481.8 1379.9L483 1380.1L484.2 1380.3L485.4 1380.5L486.6 1380.7L487.8 1380.9L489 1381.1L490.2 1381.3L491.4 1381.5L492.6 1381.7L493.8 1381.9L495 1382.1L496.2 1382.3L497.4 1382.4L498.6 1382.6L499.8 1382.7L501 1382.8L502.2 1383L503.4 1383.1L504.6 1383.2L505.8 1383.3L507.1 1383.4L508.3 1383.4L509.5 1383.5L510.7 1383.6L511.9 1383.6L513.1 1383.7L514.3 1383.7L515.5 1383.7L516.7 1383.7L517.9 1383.8L519.1 1383.8L520.3 1383.8L521.5 1383.8L522.7 1383.8L523.9 1383.8L525.1 1383.8L526.3 1383.8L527.5 1383.8L528.7 1383.8L529.9 1383.8L531.1 1383.8L532.3 1383.8L533.5 1383.8L534.7 1383.8L535.9 1383.8L537.1 1383.8L538.3 1383.8L539.5 1383.8L540.7 1383.8L541.9 1383.8L543.1 1383.8L544.3 1383.8L545.5 1383.8L546.7 1383.8L547.9 1383.8L549.1 1383.8L550.4 1383.8L551.6 1383.8L552.8 1383.8L554 1383.8L555.2 1383.8L556.4 1383.8L557.6 1383.8L558.8 1383.8L560 1383.8L561.2 1383.8L562.4 1383.8L563.6 1383.8L564.8 1383.8L566 1383.8L567.2 1383.8L568.4 1383.8L569.6 1383.8L570.8 1383.8L572 1383.8L573.2 1383.8L574.4 1383.8L575.6 1383.8L576.8 1383.8L578 1383.8L579.2 1383.8L580.4 1383.8L581.6 1383.8L582.8 1383.8L584 1383.8L585.2 1383.8L586.4 1383.8L587.6 1383.8L588.8 1383.8L590 1383.8L591.2 1383.8L592.4 1383.8L593.7 1383.8L594.9 1383.8L596.1 1383.7L597.3 1383.6L598.5 1383.6L599.7 1383.5L600.9 1383.4L602.1 1383.3L603.3 1383.2L604.5 1383.1L605.7 1383L606.9 1382.9L608.1 1382.7L609.3 1382.6L610.5 1382.5L611.7 1382.4L612.9 1382.3L614.1 1382.2L615.3 1382L616.5 1381.9L617.7 1381.8L618.9 1381.7L620.1 1381.6L621.3 1381.4L622.5 1381.3L623.7 1381.2L624.9 1381.1L626.1 1381L627.3 1380.9L628.5 1380.8L629.7 1380.7L630.9 1380.6L632.1 1380.6L633.3 1380.5L634.5 1380.4L635.7 1380.4L635.7 1384Z" fill="#a6cee3"/>
<path d="M337.6 1435L337.6 1413.5L338.8 1412.9L340 1412.4L341.2 1412L342.5 1411.6L343.7 1411.3L344.9 1411L346.1 1410.9L347.3 1410.7L348.5 1410.7L349.7 1410.8L350.9 1410.9L352.1 1411.1L353.3 1411.3L354.5 1411.6L355.7 1412L356.9 1412.4L358.1 1412.9L359.3 1413.3L360.5 1413.8L361.7 1414.3L363 1414.8L364.2 1415.4L365.4 1416L366.6 1416.6L367.8 1417.2L369 1417.9L370.2 1418.6L371.4 1419.2L372.6 1419.9L373.8 1420.5L375 1421.1L376.2 1421.6L377.4 1422.2L378.6 1422.7L379.8 1423.2L381 1423.7L382.2 1424.2L383.5 1424.6L384.7 1425L385.9 1425.4L387.1 1425.7L388.3 1426.1L389.5 1426.3L390.7 1426.6L391.9 1426.8L393.1 1427L394.3 1427.2L395.5 1427.4L396.7 1427.5L397.9 1427.6L399.1 1427.7L400.3 1427.7L401.5 1427.8L402.7 1427.8L403.9 1427.8L405.2 1427.8L406.4 1427.7L407.6 1427.6L408.8 1427.4L410 1427.2L411.2 1426.9L412.4 1426.6L413.6 1426.3L414.8 1426L416 1425.7L417.2 1425.3L418.4 1425L419.6 1424.6L420.8 1424.3L422 1423.9L423.2 1423.5L424.4 1423.2L425.7 1422.8L426.9 1422.4L428.1 1422.1L429.3 1421.8L430.5 1421.5L431.7 1421.2L432.9 1420.9L434.1 1420.7L435.3 1420.5L436.5 1420.3L437.7 1420.1L438.9 1420L440.1 1419.8L441.3 1419.7L442.5 1419.6L443.7 1419.6L444.9 1419.5L446.1 1419.5L447.4 1419.6L448.6 1419.6L449.8 1419.7L451 1419.8L452.2 1420L453.4 1420.1L454.6 1420.3L455.8 1420.5L457 1420.7L458.2 1420.9L459.4 1421.2L460.6 1421.4L461.8 1421.7L463 1422L464.2 1422.3L465.4 1422.6L465.4 1435Z" fill="#ccbe91"/>
<path d="M313 1486L313 1478.8L314.2 1478.4L315.4 1478.1L316.7 1477.8L317.9 1477.5L319.1 1477.2L320.3 1476.8L321.5 1476.5L322.7 1476.2L323.9 1475.9L325.1 1475.6L326.3 1475.3L327.5 1475L328.7 1474.7L329.9 1474.4L331.1 1474.1L332.3 1473.8L333.5 1473.5L334.7 1473.2L335.9 1472.9L337.1 1472.6L338.3 1472.4L339.5 1472.1L340.7 1471.8L341.9 1471.5L343.1 1471.2L344.3 1470.9L345.5 1470.7L346.7 1470.4L348 1470.2L349.2 1469.9L350.4 1469.7L351.6 1469.4L352.8 1469.2L354 1469L355.2 1468.8L356.4 1468.5L357.6 1468.3L358.8 1468.1L360 1467.9L361.2 1467.7L362.4 1467.5L363.6 1467.4L364.8 1467.3L366 1467.1L367.2 1467.1L368.4 1467L369.6 1466.9L370.8 1466.9L372 1466.9L373.2 1466.9L374.4 1467L375.6 1467.1L376.8 1467.2L378 1467.3L379.3 1467.5L380.5 1467.6L381.7 1467.9L382.9 1468.1L384.1 1468.4L385.3 1468.7L386.5 1469L387.7 1469.2L388.9 1469.5L390.1 1469.8L391.3 1470.1L392.5 1470.4L393.7 1470.7L394.9 1471L396.1 1471.3L397.3 1471.6L398.5 1471.9L399.7 1472.2L400.9 1472.5L402.1 1472.8L403.3 1473.1L404.5 1473.5L405.7 1473.8L406.9 1474.1L408.1 1474.4L409.3 1474.7L410.6 1475.1L411.8 1475.4L413 1475.7L414.2 1475.9L415.4 1476.2L416.6 1476.5L417.8 1476.7L419 1476.9L420.2 1477.2L421.4 1477.4L422.6 1477.5L423.8 1477.7L425 1477.8L426.2 1478L427.4 1478.1L428.6 1478.2L429.8 1478.2L431 1478.3L432.2 1478.4L433.4 1478.5L434.6 1478.6L435.8 1478.6L437 1478.7L438.2 1478.8L439.4 1478.8L440.6 1478.9L441.9 1479L443.1 1479L444.3 1479.1L445.5 1479.2L446.7 1479.2L447.9 1479.3L449.1 1479.3L450.3 1479.4L451.5 1479.4L452.7 1479.5L453.9 1479.6L455.1 1479.6L456.3 1479.7L457.5 1479.7L458.7 1479.8L459.9 1479.9L461.1 1479.9L462.3 1480L463.5 1480.1L464.7 1480.1L465.9 1480.2L467.1 1480.3L468.3 1480.4L469.5 1480.5L470.7 1480.5L471.9 1480.6L473.2 1480.7L474.4 1480.8L475.6 1480.9L476.8 1481L478 1481.1L479.2 1481.1L480.4 1481.2L481.6 1481.3L482.8 1481.4L484 1481.5L485.2 1481.6L486.4 1481.6L487.6 1481.7L488.8 1481.8L490 1481.8L491.2 1481.9L492.4 1482L493.6 1482L494.8 1482.1L496 1482.2L497.2 1482.2L498.4 1482.3L499.6 1482.4L500.8 1482.4L502 1482.5L503.2 1482.5L504.4 1482.6L505.7 1482.7L506.9 1482.7L508.1 1482.8L509.3 1482.8L510.5 1482.9L511.7 1483L512.9 1483L514.1 1483.1L515.3 1483.1L516.5 1483.2L517.7 1483.2L518.9 1483.3L520.1 1483.3L521.3 1483.4L522.5 1483.4L523.7 1483.5L524.9 1483.5L526.1 1483.6L527.3 1483.6L528.5 1483.7L529.7 1483.7L530.9 1483.8L532.1 1483.8L533.3 1483.9L534.5 1483.9L535.7 1484L537 1484L538.2 1484.1L539.4 1484.1L540.6 1484.2L541.8 1484.2L543 1484.3L544.2 1484.3L545.4 1484.4L546.6 1484.4L547.8 1484.4L549 1484.5L550.2 1484.5L551.4 1484.6L552.6 1484.6L553.8 1484.7L555 1484.7L556.2 1484.8L557.4 1484.8L558.6 1484.8L559.8 1484.9L561 1484.9L562.2 1484.9L563.4 1485L564.6 1485L565.8 1485L567 1485.1L568.3 1485.1L569.5 1485.1L570.7 1485.1L571.9 1485.1L573.1 1485.1L574.3 1485.1L575.5 1485.1L576.7 1485.1L577.9 1485.1L579.1 1485.1L580.3 1485.1L581.5 1485L582.7 1485L583.9 1485L585.1 1484.9L586.3 1484.9L587.5 1484.8L588.7 1484.8L589.9 1484.8L591.1 1484.7L592.3 1484.7L593.5 1484.6L594.7 1484.6L595.9 1484.5L597.1 1484.4L598.3 1484.4L599.6 1484.3L600.8 1484.3L602 1484.2L603.2 1484.2L604.4 1484.1L605.6 1484.1L606.8 1484L608 1483.9L609.2 1483.9L610.4 1483.8L611.6 1483.7L612.8 1483.7L614 1483.6L615.2 1483.5L616.4 1483.4L617.6 1483.3L618.8 1483.3L620 1483.2L621.2 1483.1L622.4 1483L623.6 1482.9L624.8 1482.8L626 1482.7L626 1486Z" fill="#1abc9c"/>
<path d="M257.8 1537.1L257.8 1533.7L259 1533.6L260.2 1533.4L261.4 1533.3L262.6 1533.1L263.8 1533L265 1532.8L266.2 1532.6L267.4 1532.5L268.6 1532.3L269.8 1532.1L271 1532L272.2 1531.8L273.4 1531.6L274.7 1531.5L275.9 1531.3L277.1 1531.1L278.3 1530.9L279.5 1530.8L280.7 1530.6L281.9 1530.4L283.1 1530.2L284.3 1530L285.5 1529.9L286.7 1529.7L287.9 1529.5L289.1 1529.3L290.3 1529.1L291.5 1528.9L292.7 1528.7L293.9 1528.5L295.1 1528.3L296.3 1528.1L297.5 1528L298.7 1527.8L299.9 1527.6L301.2 1527.4L302.4 1527.2L303.6 1527L304.8 1526.7L306 1526.5L307.2 1526.3L308.4 1526.1L309.6 1525.9L310.8 1525.7L312 1525.5L313.2 1525.3L314.4 1525.1L315.6 1524.8L316.8 1524.6L318 1524.4L319.2 1524.2L320.4 1524L321.6 1523.7L322.8 1523.5L324 1523.3L325.2 1523.1L326.4 1522.8L327.6 1522.6L328.9 1522.4L330.1 1522.2L331.3 1521.9L332.5 1521.7L333.7 1521.4L334.9 1521.2L336.1 1520.9L337.3 1520.7L338.5 1520.4L339.7 1520.2L340.9 1520L342.1 1519.7L343.3 1519.5L344.5 1519.3L345.7 1519L346.9 1518.8L348.1 1518.7L349.3 1518.5L350.5 1518.3L351.7 1518.1L352.9 1518L354.1 1517.8L355.4 1517.7L356.6 1517.5L357.8 1517.4L359 1517.3L360.2 1517.2L361.4 1517.1L362.6 1517.1L363.8 1517.1L365 1517L366.2 1517L367.4 1517L368.6 1517.1L369.8 1517.1L371 1517.1L372.2 1517.2L373.4 1517.3L374.6 1517.4L375.8 1517.5L377 1517.7L378.2 1517.8L379.4 1518L380.6 1518.2L381.9 1518.4L383.1 1518.5L384.3 1518.7L385.5 1518.9L386.7 1519L387.9 1519.2L389.1 1519.4L390.3 1519.5L391.5 1519.7L392.7 1519.9L393.9 1520L395.1 1520.2L396.3 1520.4L397.5 1520.5L398.7 1520.7L399.9 1520.9L401.1 1521.1L402.3 1521.2L403.5 1521.4L404.7 1521.6L405.9 1521.7L407.1 1521.9L408.4 1522.1L409.6 1522.3L410.8 1522.5L412 1522.7L413.2 1523L414.4 1523.2L415.6 1523.5L416.8 1523.8L418 1524L419.2 1524.3L420.4 1524.6L421.6 1524.8L422.8 1525.1L424 1525.4L425.2 1525.6L426.4 1525.9L427.6 1526.2L428.8 1526.5L430 1526.7L431.2 1527L432.4 1527.3L433.6 1527.6L434.8 1527.9L436.1 1528.2L437.3 1528.5L438.5 1528.8L439.7 1529.1L440.9 1529.4L442.1 1529.7L443.3 1530L444.5 1530.3L445.7 1530.6L446.9 1530.8L448.1 1531.1L449.3 1531.3L450.5 1531.6L451.7 1531.8L452.9 1532L454.1 1532.2L455.3 1532.5L456.5 1532.7L457.7 1532.8L458.9 1533L460.1 1533.2L461.3 1533.3L462.6 1533.5L463.8 1533.6L465 1533.8L466.2 1533.9L467.4 1534L468.6 1534.1L469.8 1534.2L471 1534.3L472.2 1534.4L473.4 1534.4L474.6 1534.5L475.8 1534.5L477 1534.6L478.2 1534.6L479.4 1534.6L480.6 1534.6L480.6 1537.1Z" fill="#e31a1c"/>
<path d="M317.6 1588.1L317.6 1576.5L318.8 1575.3L320 1574.2L321.2 1573.2L322.4 1572.4L323.6 1571.7L324.8 1571.1L326 1570.5L327.3 1570L328.5 1569.5L329.7 1569.1L330.9 1568.7L332.1 1568.4L333.3 1568.1L334.5 1567.9L335.7 1567.6L336.9 1567.4L338.1 1567.3L339.3 1567.2L340.5 1567.1L341.7 1567.1L343 1567.1L344.2 1567.1L345.4 1567.2L346.6 1567.3L347.8 1567.4L349 1567.6L350.2 1567.9L351.4 1568.2L352.6 1568.4L353.8 1568.7L355 1569L356.2 1569.3L357.4 1569.5L358.7 1569.8L359.9 1570.1L361.1 1570.3L362.3 1570.6L363.5 1570.9L364.7 1571.1L365.9 1571.4L367.1 1571.7L368.3 1572L369.5 1572.2L370.7 1572.5L371.9 1572.7L373.1 1573L374.4 1573.3L375.6 1573.5L376.8 1573.8L378 1574L379.2 1574.3L380.4 1574.4L381.6 1574.6L382.8 1574.8L384 1574.9L385.2 1575L386.4 1575.1L387.6 1575.2L388.8 1575.3L390.1 1575.4L391.3 1575.5L392.5 1575.6L393.7 1575.6L394.9 1575.6L396.1 1575.5L397.3 1575.4L398.5 1575.3L399.7 1575L400.9 1574.8L402.1 1574.6L403.3 1574.3L404.5 1574.1L405.7 1573.8L407 1573.5L408.2 1573.3L409.4 1573L410.6 1572.7L411.8 1572.4L413 1572.1L414.2 1571.8L415.4 1571.6L416.6 1571.3L417.8 1571.1L419 1570.9L420.2 1570.8L421.4 1570.7L422.7 1570.6L423.9 1570.5L425.1 1570.5L426.3 1570.4L427.5 1570.4L428.7 1570.4L429.9 1570.5L431.1 1570.7L432.3 1571L433.5 1571.2L434.7 1571.5L435.9 1571.9L437.1 1572.2L438.4 1572.5L439.6 1572.9L440.8 1573.3L442 1573.7L443.2 1574L444.4 1574.4L445.6 1574.9L446.8 1575.3L448 1575.7L449.2 1576.1L450.4 1576.4L451.6 1576.8L452.8 1577.2L454.1 1577.5L455.3 1577.9L456.5 1578.2L457.7 1578.5L458.9 1578.8L460.1 1579.1L461.3 1579.4L462.5 1579.7L463.7 1579.9L464.9 1580.2L466.1 1580.4L467.3 1580.7L468.5 1580.9L469.8 1581.1L471 1581.3L472.2 1581.5L473.4 1581.7L474.6 1581.9L475.8 1582L477 1582.2L478.2 1582.3L479.4 1582.5L480.6 1582.6L480.6 1588.1Z" fill="#2c3e50"/>
<path d="M310 1639.1L310 1630.9L311.2 1630.7L312.4 1630.5L313.6 1630.3L314.8 1630.1L316 1629.9L317.2 1629.6L318.4 1629.4L319.7 1629.2L320.9 1629L322.1 1628.8L323.3 1628.6L324.5 1628.4L325.7 1628.2L326.9 1628L328.1 1627.8L329.3 1627.5L330.5 1627.3L331.7 1627.1L332.9 1626.8L334.1 1626.6L335.3 1626.3L336.5 1625.9L337.7 1625.6L339 1625.2L340.2 1624.9L341.4 1624.5L342.6 1624.1L343.8 1623.8L345 1623.4L346.2 1623.1L347.4 1622.7L348.6 1622.3L349.8 1622L351 1621.6L352.2 1621.3L353.4 1620.9L354.6 1620.5L355.8 1620.2L357 1619.8L358.3 1619.4L359.5 1619.1L360.7 1618.7L361.9 1618.4L363.1 1618L364.3 1617.6L365.5 1617.3L366.7 1617L367.9 1616.7L369.1 1616.5L370.3 1616.4L371.5 1616.2L372.7 1616.1L373.9 1616L375.1 1615.9L376.3 1615.9L377.6 1615.8L378.8 1615.8L380 1615.9L381.2 1615.9L382.4 1616L383.6 1616.1L384.8 1616.2L386 1616.3L387.2 1616.4L388.4 1616.5L389.6 1616.7L390.8 1617L392 1617.2L393.2 1617.5L394.4 1617.9L395.6 1618.2L396.9 1618.5L398.1 1618.8L399.3 1619.2L400.5 1619.5L401.7 1619.9L402.9 1620.2L404.1 1620.6L405.3 1620.9L406.5 1621.3L407.7 1621.6L408.9 1622L410.1 1622.4L411.3 1622.8L412.5 1623.1L413.7 1623.5L414.9 1623.8L416.2 1624.2L417.4 1624.5L418.6 1624.8L419.8 1625.1L421 1625.4L422.2 1625.7L423.4 1626L424.6 1626.3L425.8 1626.6L427 1626.9L428.2 1627.1L429.4 1627.4L430.6 1627.7L431.8 1627.9L433 1628.2L434.2 1628.5L435.5 1628.7L436.7 1629L437.9 1629.2L439.1 1629.5L440.3 1629.7L441.5 1630L442.7 1630.2L443.9 1630.4L445.1 1630.6L446.3 1630.8L447.5 1631L448.7 1631.2L449.9 1631.4L451.1 1631.5L452.3 1631.7L453.5 1631.8L454.8 1632L456 1632.1L457.2 1632.2L458.4 1632.4L459.6 1632.5L460.8 1632.6L462 1632.7L463.2 1632.8L464.4 1632.9L465.6 1633L466.8 1633.2L468 1633.3L469.2 1633.4L470.4 1633.5L471.6 1633.5L472.8 1633.6L474.1 1633.7L475.3 1633.8L476.5 1633.9L477.7 1634L478.9 1634L480.1 1634.1L481.3 1634.2L482.5 1634.2L483.7 1634.3L484.9 1634.3L486.1 1634.4L487.3 1634.4L488.5 1634.5L489.7 1634.5L490.9 1634.5L490.9 1639.1Z" fill="#6a3d9a"/>
<path d="M300.3 1690.4L300.3 1686.2L301.5 1686.1L302.7 1685.9L303.9 1685.8L305.1 1685.6L306.3 1685.4L307.5 1685.2L308.7 1684.9L309.9 1684.7L311.1 1684.4L312.3 1684.1L313.5 1683.8L314.7 1683.5L315.9 1683.1L317.1 1682.8L318.3 1682.4L319.5 1682L320.7 1681.5L321.9 1681.1L323.1 1680.6L324.3 1680.1L325.5 1679.6L326.7 1679L327.9 1678.4L329.1 1677.9L330.3 1677.3L331.5 1676.7L332.7 1676.2L333.9 1675.7L335.1 1675.2L336.3 1674.7L337.5 1674.3L338.7 1673.8L339.9 1673.4L341.1 1673L342.3 1672.6L343.5 1672.2L344.7 1671.8L345.9 1671.4L347.1 1671.1L348.3 1670.8L349.5 1670.5L350.7 1670.2L351.9 1670L353.1 1669.8L354.3 1669.6L355.5 1669.5L356.7 1669.3L357.9 1669.2L359.1 1669.2L360.3 1669.1L361.5 1669.1L362.7 1669.1L363.9 1669.1L365.1 1669.2L366.3 1669.2L367.5 1669.3L368.7 1669.4L369.9 1669.5L371.1 1669.7L372.3 1670L373.5 1670.3L374.7 1670.7L375.9 1671.1L377.1 1671.5L378.3 1671.9L379.5 1672.3L380.7 1672.7L381.9 1673.1L383.1 1673.5L384.3 1673.9L385.5 1674.3L386.7 1674.7L387.9 1675.1L389.1 1675.5L390.3 1675.9L391.5 1676.3L392.7 1676.7L393.9 1677L395.1 1677.3L396.3 1677.6L397.5 1677.8L398.7 1678L399.9 1678.2L401.1 1678.3L402.3 1678.3L403.5 1678.4L404.7 1678.4L405.9 1678.3L407.1 1678.2L408.3 1678L409.5 1677.8L410.7 1677.5L411.9 1677.3L413.1 1677L414.3 1676.7L415.5 1676.4L416.7 1676.1L417.9 1675.9L419.1 1675.6L420.3 1675.3L421.5 1675L422.7 1674.7L423.9 1674.5L425.1 1674.2L426.3 1673.9L427.5 1673.6L428.7 1673.3L429.9 1673.1L431.1 1672.9L432.3 1672.8L433.5 1672.7L434.7 1672.6L435.9 1672.6L437.1 1672.5L438.3 1672.5L439.5 1672.5L440.7 1672.6L441.9 1672.7L443.1 1672.8L444.3 1673L445.5 1673.2L446.7 1673.4L447.9 1673.7L449.1 1674L450.3 1674.4L451.5 1674.7L452.7 1675.1L453.9 1675.6L455.1 1676L456.3 1676.5L457.5 1677.1L457.5 1690.4Z" fill="#cab2d6"/>
<path d="M257.8 1741.4L257.8 1737.2L259 1737L260.2 1736.8L261.4 1736.6L262.6 1736.4L263.8 1736.2L265 1736.1L266.2 1735.9L267.4 1735.7L268.6 1735.5L269.8 1735.3L271 1735.1L272.2 1734.9L273.4 1734.8L274.6 1734.6L275.8 1734.4L277 1734.2L278.2 1734L279.4 1733.8L280.6 1733.7L281.8 1733.5L283 1733.3L284.2 1733.1L285.4 1733L286.6 1732.8L287.8 1732.6L289 1732.4L290.2 1732.2L291.4 1732.1L292.6 1731.9L293.8 1731.7L295 1731.5L296.2 1731.4L297.4 1731.2L298.6 1731L299.8 1730.9L301 1730.7L302.2 1730.6L303.4 1730.4L304.6 1730.2L305.8 1730.1L307 1729.9L308.2 1729.8L309.4 1729.6L310.6 1729.5L311.8 1729.4L313 1729.2L314.3 1729.1L315.5 1729L316.7 1728.8L317.9 1728.7L319.1 1728.6L320.3 1728.5L321.5 1728.4L322.7 1728.2L323.9 1728.1L325.1 1728L326.3 1727.9L327.5 1727.8L328.7 1727.7L329.9 1727.6L331.1 1727.5L332.3 1727.4L333.5 1727.3L334.7 1727.3L335.9 1727.2L337.1 1727.1L338.3 1727L339.5 1726.9L340.7 1726.9L341.9 1726.8L343.1 1726.7L344.3 1726.7L345.5 1726.6L346.7 1726.5L347.9 1726.5L349.1 1726.4L350.3 1726.3L351.5 1726.3L352.7 1726.2L353.9 1726.2L355.1 1726.1L356.3 1726.1L357.5 1726.1L358.7 1726L359.9 1726L361.1 1726L362.3 1726L363.5 1725.9L364.7 1725.9L365.9 1725.9L367.1 1725.9L368.3 1725.9L369.5 1726L370.7 1726L371.9 1726L373.1 1726.1L374.3 1726.1L375.5 1726.2L376.7 1726.3L377.9 1726.4L379.1 1726.5L380.3 1726.6L381.5 1726.7L382.7 1726.8L383.9 1726.9L385.1 1727L386.3 1727.1L387.5 1727.3L388.7 1727.4L389.9 1727.5L391.1 1727.6L392.3 1727.7L393.5 1727.9L394.7 1728L395.9 1728.1L397.1 1728.3L398.3 1728.4L399.5 1728.5L400.7 1728.7L401.9 1728.8L403.1 1728.9L404.3 1729.1L405.5 1729.2L406.8 1729.4L408 1729.5L409.2 1729.6L410.4 1729.8L411.6 1729.9L412.8 1730.1L414 1730.2L415.2 1730.3L416.4 1730.5L417.6 1730.6L418.8 1730.7L420 1730.9L421.2 1731L422.4 1731.1L423.6 1731.2L424.8 1731.4L426 1731.5L427.2 1731.6L428.4 1731.8L429.6 1731.9L430.8 1732L432 1732.1L433.2 1732.2L434.4 1732.4L435.6 1732.5L436.8 1732.6L438 1732.7L439.2 1732.8L440.4 1732.9L441.6 1733L442.8 1733.1L444 1733.3L445.2 1733.4L446.4 1733.5L447.6 1733.6L448.8 1733.7L450 1733.8L451.2 1733.8L452.4 1733.9L453.6 1734L454.8 1734.1L456 1734.2L457.2 1734.3L458.4 1734.4L459.6 1734.5L460.8 1734.5L462 1734.6L463.2 1734.7L464.4 1734.8L465.6 1734.9L466.8 1735L468 1735L469.2 1735.1L470.4 1735.2L471.6 1735.3L472.8 1735.3L474 1735.4L475.2 1735.4L476.4 1735.5L477.6 1735.6L478.8 1735.6L480 1735.7L481.2 1735.7L482.4 1735.8L483.6 1735.9L484.8 1735.9L486 1736L487.2 1736.1L488.4 1736.2L489.6 1736.3L490.8 1736.4L492 1736.5L493.2 1736.7L494.4 1736.8L495.6 1736.9L496.8 1737.1L498 1737.2L499.3 1737.4L500.5 1737.5L501.7 1737.7L502.9 1737.8L504.1 1737.9L505.3 1738.1L506.5 1738.2L507.7 1738.4L508.9 1738.5L510.1 1738.6L511.3 1738.8L512.5 1738.9L513.7 1739L514.9 1739.2L516.1 1739.3L517.3 1739.4L518.5 1739.6L519.7 1739.7L520.9 1739.8L522.1 1739.9L523.3 1740L524.5 1740.2L525.7 1740.3L526.9 1740.4L528.1 1740.5L529.3 1740.6L530.5 1740.6L531.7 1740.7L532.9 1740.8L534.1 1740.9L535.3 1740.9L536.5 1741L537.7 1741L538.9 1741L540.1 1741.1L541.3 1741.1L542.5 1741.1L543.7 1741.1L544.9 1741.1L546.1 1741.2L547.3 1741.2L548.5 1741.2L549.7 1741.2L550.9 1741.2L552.1 1741.2L553.3 1741.2L554.5 1741.2L555.7 1741.2L556.9 1741.2L558.1 1741.2L559.3 1741.2L560.5 1741.2L561.7 1741.2L562.9 1741.2L564.1 1741.2L565.3 1741.2L566.5 1741.2L567.7 1741.2L568.9 1741.2L570.1 1741.2L571.3 1741.2L572.5 1741.2L573.7 1741.2L574.9 1741.2L576.1 1741.2L577.3 1741.2L578.5 1741.2L579.7 1741.2L580.9 1741.2L582.1 1741.2L583.3 1741.2L584.5 1741.2L585.7 1741.2L586.9 1741.2L588.1 1741.2L589.3 1741.2L590.5 1741.2L591.8 1741.2L593 1741.2L594.2 1741.2L595.4 1741.2L596.6 1741.2L597.8 1741.2L599 1741.2L600.2 1741.2L601.4 1741.2L602.6 1741.2L603.8 1741.2L605 1741.2L606.2 1741.2L607.4 1741.2L608.6 1741.2L609.8 1741.2L611 1741.2L612.2 1741.2L613.4 1741.2L614.6 1741.2L615.8 1741.2L617 1741.2L618.2 1741.2L619.4 1741.2L620.6 1741.2L621.8 1741.2L623 1741.2L624.2 1741.2L625.4 1741.2L626.6 1741.2L627.8 1741.2L629 1741.2L630.2 1741.2L631.4 1741.2L632.6 1741.2L633.8 1741.2L635 1741.2L636.2 1741.2L637.4 1741.2L638.6 1741.2L639.8 1741.2L641 1741.2L642.2 1741.2L643.4 1741.2L644.6 1741.2L645.8 1741.2L647 1741.2L648.2 1741.2L649.4 1741.2L650.6 1741.2L651.8 1741.2L653 1741.2L654.2 1741.2L655.4 1741.2L656.6 1741.2L657.8 1741.2L659 1741.2L660.2 1741.2L661.4 1741.2L662.6 1741.2L663.8 1741.2L665 1741.2L666.2 1741.2L667.4 1741.2L668.6 1741.2L669.8 1741.2L671 1741.2L672.2 1741.2L673.4 1741.2L674.6 1741.2L675.8 1741.2L677 1741.2L678.2 1741.2L679.4 1741.2L680.6 1741.2L681.8 1741.2L683.1 1741.2L684.3 1741.2L685.5 1741.2L686.7 1741.2L687.9 1741.2L689.1 1741.2L690.3 1741.2L691.5 1741.2L692.7 1741.2L693.9 1741.2L695.1 1741.2L696.3 1741.2L697.5 1741.2L698.7 1741.2L699.9 1741.2L701.1 1741.2L702.3 1741.2L703.5 1741.2L704.7 1741.2L705.9 1741.2L707.1 1741.2L708.3 1741.2L709.5 1741.2L710.7 1741.2L711.9 1741.2L713.1 1741.2L714.3 1741.2L715.5 1741.2L716.7 1741.2L717.9 1741.2L719.1 1741.2L720.3 1741.2L721.5 1741.2L722.7 1741.2L723.9 1741.2L725.1 1741.2L726.3 1741.2L727.5 1741.2L728.7 1741.2L729.9 1741.2L731.1 1741.2L732.3 1741.2L733.5 1741.2L734.7 1741.2L735.9 1741.2L737.1 1741.2L738.3 1741.2L739.5 1741.2L740.7 1741.2L741.9 1741.2L743.1 1741.2L744.3 1741.2L745.5 1741.2L746.7 1741.2L747.9 1741.2L749.1 1741.2L750.3 1741.2L751.5 1741.2L752.7 1741.2L753.9 1741.2L755.1 1741.2L756.3 1741.2L757.5 1741.2L758.7 1741.2L759.9 1741.2L761.1 1741.2L762.3 1741.2L763.5 1741.2L764.7 1741.2L765.9 1741.2L767.1 1741.2L768.3 1741.1L769.5 1741.1L770.7 1741.1L771.9 1741.1L773.1 1741.1L774.3 1741.1L775.6 1741.1L776.8 1741.1L778 1741.1L779.2 1741L780.4 1741L781.6 1741L782.8 1741L784 1741L785.2 1740.9L786.4 1740.9L787.6 1740.9L788.8 1740.9L790 1740.9L791.2 1740.8L792.4 1740.8L793.6 1740.8L794.8 1740.8L796 1740.7L797.2 1740.7L798.4 1740.7L799.6 1740.7L800.8 1740.6L802 1740.6L803.2 1740.6L804.4 1740.5L805.6 1740.5L806.8 1740.4L808 1740.4L809.2 1740.4L810.4 1740.3L811.6 1740.3L812.8 1740.2L814 1740.2L815.2 1740.1L816.4 1740.1L817.6 1740L817.6 1741.4Z" fill="#ff7f00"/>
<path d="M270.5 1792.4L270.5 1785.7L271.7 1785.5L272.9 1785.3L274.1 1785.1L275.3 1784.9L276.6 1784.7L277.8 1784.5L279 1784.3L280.2 1784.1L281.4 1783.9L282.6 1783.7L283.8 1783.6L285 1783.4L286.2 1783.3L287.4 1783.1L288.6 1782.9L289.8 1782.8L291 1782.7L292.2 1782.5L293.4 1782.4L294.6 1782.2L295.8 1782.1L297 1782L298.2 1781.9L299.4 1781.8L300.6 1781.7L301.8 1781.6L303 1781.5L304.2 1781.5L305.4 1781.4L306.6 1781.4L307.8 1781.3L309 1781.2L310.2 1781.2L311.4 1781.1L312.6 1781.1L313.8 1781L315 1780.9L316.2 1780.9L317.4 1780.8L318.6 1780.8L319.8 1780.7L321 1780.6L322.2 1780.6L323.4 1780.5L324.6 1780.5L325.9 1780.4L327.1 1780.3L328.3 1780.3L329.5 1780.2L330.7 1780.2L331.9 1780.1L333.1 1780L334.3 1780L335.5 1779.9L336.7 1779.9L337.9 1779.8L339.1 1779.7L340.3 1779.7L341.5 1779.6L342.7 1779.6L343.9 1779.5L345.1 1779.4L346.3 1779.4L347.5 1779.3L348.7 1779.3L349.9 1779.3L351.1 1779.2L352.3 1779.2L353.5 1779.2L354.7 1779.1L355.9 1779.1L357.1 1779.1L358.3 1779.1L359.5 1779L360.7 1779L361.9 1779.1L363.1 1779.1L364.3 1779.1L365.5 1779.1L366.7 1779.2L367.9 1779.2L369.1 1779.2L370.3 1779.3L371.5 1779.4L372.7 1779.4L373.9 1779.5L375.1 1779.6L376.4 1779.6L377.6 1779.7L378.8 1779.8L380 1779.9L381.2 1780L382.4 1780L383.6 1780.1L384.8 1780.2L386 1780.3L387.2 1780.4L388.4 1780.5L389.6 1780.5L390.8 1780.6L392 1780.7L393.2 1780.8L394.4 1780.9L395.6 1781L396.8 1781.1L398 1781.2L399.2 1781.3L400.4 1781.4L401.6 1781.5L402.8 1781.6L404 1781.7L405.2 1781.8L406.4 1781.9L407.6 1782L408.8 1782.1L410 1782.2L411.2 1782.3L412.4 1782.4L413.6 1782.5L414.8 1782.6L416 1782.7L417.2 1782.8L418.4 1782.9L419.6 1783L420.8 1783.1L422 1783.2L423.2 1783.3L424.4 1783.4L425.6 1783.5L426.9 1783.6L428.1 1783.6L429.3 1783.7L430.5 1783.8L431.7 1783.9L432.9 1784L434.1 1784L435.3 1784.1L436.5 1784.2L437.7 1784.2L438.9 1784.3L440.1 1784.4L441.3 1784.4L442.5 1784.5L443.7 1784.5L444.9 1784.6L446.1 1784.6L447.3 1784.7L448.5 1784.7L449.7 1784.8L450.9 1784.8L452.1 1784.9L453.3 1784.9L454.5 1785L455.7 1785L456.9 1785.1L458.1 1785.1L459.3 1785.1L460.5 1785.2L461.7 1785.2L462.9 1785.3L464.1 1785.3L465.3 1785.3L466.5 1785.4L467.7 1785.4L468.9 1785.5L470.1 1785.5L471.3 1785.5L472.5 1785.6L473.7 1785.6L474.9 1785.6L476.2 1785.7L477.4 1785.7L478.6 1785.7L479.8 1785.8L481 1785.8L482.2 1785.8L483.4 1785.8L484.6 1785.9L485.8 1785.9L487 1786L488.2 1786L489.4 1786.1L490.6 1786.1L491.8 1786.2L493 1786.2L494.2 1786.3L495.4 1786.4L496.6 1786.5L497.8 1786.6L499 1786.7L500.2 1786.8L501.4 1786.9L502.6 1787.1L503.8 1787.2L505 1787.3L506.2 1787.4L507.4 1787.6L508.6 1787.7L509.8 1787.8L511 1787.9L512.2 1788.1L513.4 1788.2L514.6 1788.3L515.8 1788.5L517 1788.6L518.2 1788.8L519.4 1788.9L520.6 1789.1L521.8 1789.2L523 1789.4L524.2 1789.5L525.4 1789.7L526.7 1789.8L527.9 1789.9L529.1 1790L530.3 1790.1L531.5 1790.3L532.7 1790.4L533.9 1790.5L535.1 1790.5L536.3 1790.6L537.5 1790.7L538.7 1790.8L539.9 1790.9L541.1 1790.9L542.3 1791L543.5 1791.1L544.7 1791.1L545.9 1791.2L545.9 1792.4Z" fill="#fdbf6f"/>
<path d="M269 1843.4L269 1839.5L270.2 1839.5L271.4 1839.4L272.6 1839.4L273.8 1839.4L275 1839.3L276.2 1839.3L277.4 1839.2L278.6 1839.1L279.8 1839.1L281 1839L282.2 1838.9L283.4 1838.8L284.6 1838.8L285.8 1838.7L287 1838.6L288.2 1838.5L289.4 1838.4L290.6 1838.3L291.8 1838.2L293 1838.1L294.2 1837.9L295.4 1837.8L296.6 1837.6L297.8 1837.4L299 1837.2L300.2 1836.9L301.4 1836.7L302.6 1836.4L303.8 1836.1L305 1835.8L306.2 1835.6L307.4 1835.3L308.6 1835L309.8 1834.7L311 1834.4L312.2 1834.1L313.4 1833.8L314.6 1833.5L315.8 1833.2L317 1832.9L318.2 1832.6L319.4 1832.3L320.6 1832L321.8 1831.7L323 1831.4L324.2 1831.1L325.4 1830.9L326.6 1830.6L327.8 1830.4L329 1830.2L330.2 1829.9L331.4 1829.7L332.6 1829.5L333.8 1829.4L335 1829.2L336.2 1829L337.4 1828.9L338.6 1828.7L339.8 1828.6L341 1828.5L342.2 1828.4L343.4 1828.2L344.6 1828.1L345.8 1828.1L347 1828L348.2 1827.9L349.4 1827.8L350.6 1827.8L351.8 1827.7L353 1827.6L354.2 1827.6L355.4 1827.5L356.6 1827.5L357.8 1827.4L359 1827.4L360.2 1827.4L361.4 1827.4L362.6 1827.4L363.8 1827.4L365 1827.4L366.2 1827.4L367.4 1827.4L368.6 1827.4L369.8 1827.5L371 1827.5L372.2 1827.6L373.4 1827.6L374.6 1827.7L375.8 1827.7L377 1827.8L378.2 1827.9L379.4 1827.9L380.6 1828L381.8 1828.1L383 1828.2L384.2 1828.3L385.4 1828.4L386.6 1828.5L387.8 1828.7L389 1828.8L390.2 1828.9L391.4 1829L392.6 1829.1L393.8 1829.1L395 1829.2L396.2 1829.2L397.4 1829.3L398.6 1829.3L399.8 1829.4L401 1829.4L402.2 1829.4L403.4 1829.5L404.6 1829.5L405.8 1829.5L407 1829.6L408.2 1829.6L409.4 1829.7L410.6 1829.7L411.8 1829.7L413 1829.8L414.2 1829.8L415.4 1829.9L416.6 1829.9L417.8 1830L419 1830L420.2 1830L421.4 1830.1L422.6 1830.1L423.8 1830.2L425 1830.2L426.2 1830.3L427.4 1830.3L428.6 1830.4L429.8 1830.5L431 1830.6L432.2 1830.7L433.4 1830.9L434.6 1831.1L435.8 1831.3L437 1831.5L438.2 1831.7L439.4 1832L440.6 1832.2L441.8 1832.5L443 1832.8L444.2 1833.1L445.4 1833.4L446.6 1833.7L447.8 1834L449 1834.4L450.2 1834.7L451.4 1835L452.6 1835.2L453.8 1835.5L455 1835.8L456.2 1836L457.4 1836.3L458.6 1836.6L459.8 1836.8L461 1837L462.2 1837.3L463.4 1837.5L464.6 1837.7L465.8 1837.8L467 1838L468.2 1838.1L469.4 1838.3L470.6 1838.4L471.8 1838.5L473 1838.7L474.2 1838.8L475.4 1838.9L476.6 1839L477.8 1839.1L479 1839.1L480.2 1839.2L481.4 1839.3L482.6 1839.4L483.8 1839.4L485 1839.5L486.2 1839.6L487.4 1839.6L488.6 1839.7L489.8 1839.8L491 1839.8L492.2 1839.9L493.4 1839.9L494.6 1840L495.8 1840L497 1840.1L498.2 1840.1L499.4 1840.1L499.4 1843.4Z" fill="#fb9a99"/>
<path d="M282.1 1894.5L282.1 1885.6L283.3 1885.2L284.5 1884.8L285.7 1884.4L286.9 1884L288.1 1883.6L289.3 1883.3L290.5 1882.9L291.7 1882.6L292.9 1882.3L294.1 1882.1L295.3 1881.8L296.5 1881.5L297.7 1881.3L298.9 1881.1L300.1 1880.8L301.3 1880.6L302.5 1880.4L303.7 1880.2L304.9 1880L306.1 1879.9L307.3 1879.7L308.5 1879.5L309.7 1879.4L310.9 1879.2L312.1 1879.1L313.3 1878.9L314.5 1878.8L315.7 1878.7L316.9 1878.6L318.1 1878.5L319.3 1878.4L320.5 1878.3L321.7 1878.2L322.9 1878.2L324.1 1878.1L325.3 1878.1L326.5 1878.1L327.7 1878.1L328.9 1878.1L330.1 1878.1L331.3 1878.1L332.5 1878.1L333.8 1878.2L335 1878.2L336.2 1878.3L337.4 1878.4L338.6 1878.5L339.8 1878.6L341 1878.7L342.2 1878.9L343.4 1879L344.6 1879.1L345.8 1879.3L347 1879.4L348.2 1879.5L349.4 1879.7L350.6 1879.8L351.8 1880L353 1880.1L354.2 1880.3L355.4 1880.5L356.6 1880.6L357.8 1880.8L359 1881L360.2 1881.1L361.4 1881.3L362.6 1881.5L363.8 1881.6L365 1881.8L366.2 1882L367.4 1882.2L368.6 1882.3L369.8 1882.5L371 1882.6L372.2 1882.8L373.4 1883L374.6 1883.1L375.8 1883.3L377 1883.4L378.2 1883.6L379.4 1883.7L380.6 1883.8L381.8 1884L383 1884.1L384.2 1884.2L385.4 1884.4L386.6 1884.5L387.8 1884.6L389 1884.8L390.2 1884.9L391.4 1885L392.6 1885.1L393.8 1885.2L395 1885.3L396.2 1885.4L397.4 1885.5L398.6 1885.5L399.8 1885.6L401 1885.6L402.3 1885.7L403.5 1885.7L404.7 1885.8L405.9 1885.8L407.1 1885.9L408.3 1885.9L409.5 1886L410.7 1886L411.9 1886L413.1 1886.1L414.3 1886.1L415.5 1886.2L416.7 1886.2L417.9 1886.2L419.1 1886.2L420.3 1886.3L421.5 1886.3L422.7 1886.3L423.9 1886.4L425.1 1886.4L426.3 1886.4L427.5 1886.5L428.7 1886.5L429.9 1886.5L431.1 1886.5L432.3 1886.6L433.5 1886.6L434.7 1886.6L435.9 1886.7L437.1 1886.7L438.3 1886.7L439.5 1886.8L440.7 1886.8L441.9 1886.8L443.1 1886.8L444.3 1886.9L445.5 1886.9L446.7 1886.9L447.9 1887L449.1 1887L450.3 1887L451.5 1887.1L452.7 1887.1L453.9 1887.1L455.1 1887.1L456.3 1887.2L457.5 1887.2L458.7 1887.2L459.9 1887.3L461.1 1887.3L462.3 1887.3L463.5 1887.4L464.7 1887.4L465.9 1887.4L467.1 1887.5L468.3 1887.5L469.5 1887.5L470.8 1887.5L472 1887.6L473.2 1887.6L474.4 1887.7L475.6 1887.7L476.8 1887.8L478 1887.8L479.2 1887.9L480.4 1887.9L481.6 1888L482.8 1888L484 1888.1L485.2 1888.2L486.4 1888.2L487.6 1888.3L488.8 1888.4L490 1888.4L491.2 1888.5L492.4 1888.6L493.6 1888.6L494.8 1888.7L496 1888.8L497.2 1888.9L498.4 1888.9L499.6 1889L500.8 1889.1L502 1889.1L503.2 1889.2L504.4 1889.3L505.6 1889.4L506.8 1889.4L508 1889.5L509.2 1889.6L510.4 1889.7L511.6 1889.7L512.8 1889.8L514 1889.9L514 1894.5Z" fill="#b2df8a"/>
<path d="M206.2 1945.5L206.2 1944.2L207.4 1944.2L208.6 1944.2L209.8 1944.2L211 1944.2L212.2 1944.2L213.4 1944.2L214.6 1944.1L215.8 1944.1L217 1944.1L218.2 1944.1L219.4 1944L220.6 1944L221.8 1944L223 1943.9L224.2 1943.9L225.4 1943.8L226.6 1943.8L227.8 1943.8L229 1943.7L230.2 1943.7L231.4 1943.6L232.6 1943.6L233.8 1943.5L235 1943.5L236.2 1943.4L237.4 1943.3L238.6 1943.3L239.8 1943.2L241 1943.1L242.2 1943.1L243.4 1943L244.6 1942.9L245.8 1942.8L247 1942.7L248.2 1942.5L249.4 1942.4L250.6 1942.3L251.8 1942.1L253 1942L254.2 1941.8L255.4 1941.7L256.6 1941.5L257.8 1941.4L259 1941.2L260.2 1941L261.5 1940.9L262.7 1940.7L263.9 1940.5L265.1 1940.4L266.3 1940.2L267.5 1940L268.7 1939.8L269.9 1939.6L271.1 1939.5L272.3 1939.3L273.5 1939.1L274.7 1938.9L275.9 1938.7L277.1 1938.6L278.3 1938.4L279.5 1938.2L280.7 1938L281.9 1937.8L283.1 1937.7L284.3 1937.5L285.5 1937.3L286.7 1937.1L287.9 1936.9L289.1 1936.8L290.3 1936.6L291.5 1936.4L292.7 1936.2L293.9 1936L295.1 1935.8L296.3 1935.7L297.5 1935.5L298.7 1935.3L299.9 1935.1L301.1 1934.9L302.3 1934.8L303.5 1934.6L304.7 1934.4L305.9 1934.2L307.1 1934.1L308.3 1933.9L309.5 1933.7L310.7 1933.6L311.9 1933.4L313.1 1933.2L314.3 1933.1L315.5 1932.9L316.7 1932.8L317.9 1932.6L319.1 1932.5L320.3 1932.3L321.5 1932.2L322.7 1932L323.9 1931.9L325.1 1931.7L326.3 1931.6L327.5 1931.4L328.7 1931.3L329.9 1931.1L331.1 1931L332.3 1930.9L333.5 1930.7L334.7 1930.6L335.9 1930.5L337.1 1930.3L338.3 1930.2L339.5 1930.1L340.8 1929.9L342 1929.8L343.2 1929.7L344.4 1929.6L345.6 1929.5L346.8 1929.4L348 1929.3L349.2 1929.2L350.4 1929.1L351.6 1929L352.8 1928.9L354 1928.9L355.2 1928.8L356.4 1928.7L357.6 1928.6L358.8 1928.6L360 1928.5L361.2 1928.5L362.4 1928.5L363.6 1928.5L364.8 1928.5L366 1928.4L367.2 1928.4L368.4 1928.5L369.6 1928.5L370.8 1928.5L372 1928.6L373.2 1928.6L374.4 1928.7L375.6 1928.8L376.8 1929L378 1929.1L379.2 1929.3L380.4 1929.5L381.6 1929.7L382.8 1929.9L384 1930.2L385.2 1930.4L386.4 1930.7L387.6 1930.9L388.8 1931.2L390 1931.4L391.2 1931.7L392.4 1931.9L393.6 1932.1L394.8 1932.3L396 1932.5L397.2 1932.7L398.4 1932.8L399.6 1933L400.8 1933.2L402 1933.4L403.2 1933.5L404.4 1933.6L405.6 1933.8L406.8 1933.9L408 1934L409.2 1934.2L410.4 1934.3L411.6 1934.4L412.8 1934.5L414 1934.5L415.2 1934.6L416.4 1934.7L417.6 1934.8L418.8 1934.8L420.1 1934.9L421.3 1934.9L422.5 1934.9L423.7 1935L424.9 1935L426.1 1935L427.3 1935L428.5 1935L429.7 1935.1L430.9 1935.1L432.1 1935.2L433.3 1935.2L434.5 1935.2L435.7 1935.3L436.9 1935.3L438.1 1935.4L439.3 1935.4L440.5 1935.5L441.7 1935.6L442.9 1935.7L444.1 1935.8L445.3 1935.9L446.5 1936L447.7 1936.1L448.9 1936.3L450.1 1936.4L451.3 1936.6L452.5 1936.7L453.7 1936.9L454.9 1937L456.1 1937.2L457.3 1937.4L458.5 1937.5L459.7 1937.7L460.9 1937.9L462.1 1938L463.3 1938.2L464.5 1938.4L465.7 1938.5L466.9 1938.7L468.1 1938.9L469.3 1939.1L470.5 1939.2L471.7 1939.4L472.9 1939.5L474.1 1939.7L475.3 1939.9L476.5 1940L477.7 1940.2L478.9 1940.3L480.1 1940.5L481.3 1940.6L482.5 1940.8L483.7 1940.9L484.9 1941.1L486.1 1941.2L487.3 1941.4L488.5 1941.5L489.7 1941.7L490.9 1941.8L490.9 1945.5Z" fill="#1f78b4"/>
<path d="M263.6 1996.5L263.6 1993.8L264.8 1993.7L266 1993.5L267.2 1993.4L268.4 1993.3L269.6 1993.2L270.8 1993.1L272 1993L273.2 1992.9L274.4 1992.8L275.6 1992.6L276.8 1992.5L278 1992.4L279.2 1992.3L280.4 1992.2L281.6 1992L282.8 1991.9L284 1991.8L285.2 1991.7L286.4 1991.5L287.6 1991.4L288.8 1991.3L290 1991.1L291.2 1991L292.4 1990.8L293.6 1990.7L294.8 1990.5L296 1990.4L297.2 1990.2L298.4 1990L299.6 1989.9L300.8 1989.7L302 1989.5L303.2 1989.3L304.4 1989.1L305.6 1988.9L306.8 1988.7L308 1988.5L309.2 1988.3L310.4 1988.1L311.6 1987.9L312.8 1987.7L314 1987.5L315.2 1987.2L316.4 1987L317.6 1986.8L318.8 1986.6L320 1986.3L321.2 1986.1L322.4 1985.8L323.6 1985.6L324.8 1985.3L326 1985.1L327.2 1984.8L328.4 1984.6L329.6 1984.3L330.8 1984.1L332 1983.9L333.2 1983.6L334.4 1983.4L335.6 1983.2L336.8 1983L338 1982.8L339.2 1982.6L340.4 1982.4L341.6 1982.3L342.8 1982.1L344 1982L345.2 1981.8L346.4 1981.7L347.6 1981.5L348.8 1981.4L350 1981.3L351.2 1981.1L352.4 1981L353.6 1980.9L354.8 1980.9L356 1980.8L357.2 1980.7L358.4 1980.7L359.6 1980.7L360.8 1980.7L362 1980.7L363.2 1980.7L364.4 1980.8L365.6 1980.8L366.8 1980.9L368 1981L369.2 1981.1L370.4 1981.2L371.6 1981.4L372.8 1981.5L374 1981.6L375.2 1981.8L376.4 1982L377.6 1982.2L378.8 1982.4L380 1982.6L381.2 1982.8L382.4 1983L383.6 1983.2L384.8 1983.4L386 1983.6L387.2 1983.8L388.4 1984L389.6 1984.1L390.8 1984.3L392 1984.4L393.2 1984.6L394.4 1984.7L395.6 1984.8L396.8 1984.9L398 1985L399.2 1985.1L400.4 1985.2L401.6 1985.2L402.8 1985.3L404 1985.3L405.2 1985.2L406.4 1985.2L407.6 1985.2L408.8 1985.1L410 1985.1L411.2 1985L412.4 1984.9L413.6 1984.9L414.8 1984.8L416 1984.8L417.2 1984.7L418.4 1984.7L419.6 1984.6L420.8 1984.6L422 1984.6L423.2 1984.5L424.4 1984.5L425.6 1984.5L426.8 1984.4L428 1984.4L429.2 1984.4L430.4 1984.4L431.6 1984.3L432.8 1984.3L434 1984.3L435.2 1984.3L436.4 1984.4L437.6 1984.5L438.8 1984.5L440 1984.6L441.2 1984.8L442.4 1984.9L443.6 1985.1L444.8 1985.3L446 1985.5L447.2 1985.7L448.4 1985.9L449.6 1986.1L450.8 1986.3L452 1986.5L453.2 1986.7L454.4 1987L455.6 1987.2L456.8 1987.4L458 1987.6L459.2 1987.8L460.4 1988.1L461.6 1988.3L462.8 1988.5L464 1988.7L465.2 1988.9L466.4 1989.1L467.6 1989.3L468.8 1989.4L470 1989.6L471.2 1989.8L472.4 1990L473.6 1990.2L474.8 1990.4L476 1990.5L477.2 1990.7L478.4 1990.8L479.6 1991L480.8 1991.1L482 1991.2L483.2 1991.4L484.4 1991.5L485.6 1991.6L486.8 1991.7L488 1991.8L489.2 1991.9L490.4 1992L491.6 1992.1L492.8 1992.1L494 1992.2L495.2 1992.3L496.4 1992.4L497.6 1992.5L498.8 1992.5L500 1992.6L501.2 1992.7L502.4 1992.7L503.6 1992.8L504.8 1992.9L506 1992.9L507.2 1993L508.4 1993.1L509.6 1993.1L510.8 1993.2L512 1993.2L513.2 1993.3L514.4 1993.4L515.6 1993.4L516.8 1993.5L518 1993.6L519.2 1993.6L520.4 1993.7L521.6 1993.7L522.8 1993.8L524 1993.9L525.2 1993.9L526.4 1994L527.6 1994L528.8 1994.1L530 1994.1L531.2 1994.2L532.4 1994.3L533.6 1994.3L534.8 1994.4L536 1994.4L537.2 1994.5L538.4 1994.5L539.6 1994.6L540.8 1994.6L542 1994.7L543.2 1994.7L544.4 1994.8L545.6 1994.8L546.8 1994.9L548 1994.9L549.2 1995L550.4 1995L551.6 1995.1L552.8 1995.1L554 1995.2L555.2 1995.2L556.4 1995.3L557.6 1995.3L558.8 1995.4L560 1995.4L561.2 1995.4L562.4 1995.5L563.6 1995.5L564.8 1995.6L566 1995.6L567.2 1995.6L568.4 1995.7L569.6 1995.7L570.8 1995.7L572 1995.8L573.2 1995.8L574.4 1995.8L575.6 1995.8L576.8 1995.9L578 1995.9L579.2 1995.9L580.4 1995.9L581.6 1995.9L582.8 1996L584 1996L585.2 1996L586.4 1996L587.6 1996L588.8 1996L590 1996L591.2 1996L592.4 1996L593.6 1996.1L594.8 1996.1L596 1996.1L597.2 1996.1L598.4 1996.1L599.6 1996.1L600.8 1996.1L602 1996.1L603.2 1996.1L604.4 1996.1L605.6 1996.1L606.8 1996.1L608 1996.1L609.2 1996.1L610.4 1996.1L611.7 1996.1L612.9 1996.1L614.1 1996.1L615.3 1996.1L616.5 1996.1L617.7 1996L618.9 1996L620.1 1996L621.3 1996L622.5 1996L623.7 1996L624.9 1996L626.1 1996L627.3 1995.9L628.5 1995.9L629.7 1995.9L630.9 1995.9L632.1 1995.9L633.3 1995.9L634.5 1995.8L635.7 1995.8L636.9 1995.8L638.1 1995.8L639.3 1995.8L640.5 1995.7L641.7 1995.7L642.9 1995.7L644.1 1995.7L645.3 1995.6L646.5 1995.6L647.7 1995.6L648.9 1995.5L650.1 1995.5L651.3 1995.5L652.5 1995.5L653.7 1995.4L653.7 1996.5Z" fill="#a6cee3"/>
<path d="M285.7 2047.5L285.7 2039.3L286.9 2039L288.1 2038.6L289.3 2038.3L290.5 2038L291.7 2037.7L292.9 2037.5L294.1 2037.2L295.3 2037L296.5 2036.8L297.7 2036.6L298.9 2036.4L300.1 2036.2L301.3 2036.1L302.5 2035.9L303.7 2035.7L304.9 2035.6L306.1 2035.4L307.3 2035.3L308.5 2035.2L309.7 2035L310.9 2034.9L312.1 2034.8L313.3 2034.7L314.5 2034.6L315.7 2034.5L316.9 2034.4L318.1 2034.3L319.3 2034.2L320.5 2034.1L321.7 2034L322.9 2033.9L324.1 2033.8L325.3 2033.8L326.5 2033.7L327.7 2033.6L328.9 2033.5L330.1 2033.4L331.3 2033.4L332.5 2033.3L333.7 2033.2L334.9 2033.2L336.1 2033.1L337.3 2033.1L338.5 2033L339.7 2033L340.9 2032.9L342.1 2032.9L343.3 2032.8L344.5 2032.8L345.7 2032.8L346.9 2032.7L348.1 2032.7L349.3 2032.7L350.5 2032.6L351.7 2032.6L352.9 2032.6L354.1 2032.6L355.4 2032.6L356.6 2032.6L357.8 2032.6L359 2032.6L360.2 2032.6L361.4 2032.6L362.6 2032.7L363.8 2032.7L365 2032.7L366.2 2032.7L367.4 2032.8L368.6 2032.8L369.8 2032.9L371 2032.9L372.2 2033L373.4 2033L374.6 2033.1L375.8 2033.2L377 2033.2L378.2 2033.3L379.4 2033.4L380.6 2033.4L381.8 2033.5L383 2033.6L384.2 2033.7L385.4 2033.8L386.6 2033.9L387.8 2034L389 2034.1L390.2 2034.2L391.4 2034.4L392.6 2034.5L393.8 2034.6L395 2034.8L396.2 2034.9L397.4 2035L398.6 2035.2L399.8 2035.3L401 2035.5L402.2 2035.6L403.4 2035.8L404.6 2035.9L405.8 2036.1L407 2036.2L408.2 2036.4L409.4 2036.6L410.6 2036.7L411.8 2036.9L413 2037.1L414.2 2037.3L415.4 2037.5L416.6 2037.7L417.8 2037.9L419 2038L420.2 2038.2L421.4 2038.4L422.6 2038.6L423.8 2038.8L425 2038.9L426.2 2039.1L427.4 2039.3L428.6 2039.4L429.8 2039.6L431 2039.7L432.2 2039.9L433.4 2040L434.6 2040.2L435.8 2040.3L437 2040.4L438.2 2040.6L439.4 2040.7L440.6 2040.8L441.8 2040.9L443 2041.1L444.2 2041.2L445.4 2041.3L446.6 2041.4L447.8 2041.5L449 2041.6L450.2 2041.7L451.4 2041.8L452.6 2041.8L453.8 2041.9L455 2042L456.2 2042.1L457.4 2042.1L458.6 2042.2L459.8 2042.2L461 2042.3L462.2 2042.3L463.4 2042.4L464.6 2042.4L465.8 2042.5L467 2042.5L468.2 2042.5L469.4 2042.6L470.6 2042.6L471.8 2042.7L473 2042.7L474.2 2042.7L475.4 2042.8L476.6 2042.8L477.8 2042.9L479 2042.9L480.2 2042.9L481.4 2043L482.6 2043L483.8 2043.1L485 2043.1L486.2 2043.2L487.4 2043.2L488.6 2043.3L489.8 2043.3L491 2043.3L492.2 2043.4L493.4 2043.4L494.6 2043.5L495.8 2043.5L497 2043.6L498.2 2043.6L499.4 2043.7L500.6 2043.7L501.8 2043.8L503 2043.8L504.2 2043.8L505.4 2043.9L506.6 2043.9L507.8 2044L509 2044L510.2 2044.1L511.4 2044.1L512.6 2044.2L513.8 2044.2L515 2044.2L516.2 2044.3L517.4 2044.3L518.6 2044.4L519.8 2044.4L521 2044.5L522.2 2044.5L523.4 2044.6L524.6 2044.6L525.8 2044.7L527 2044.7L528.2 2044.7L529.4 2044.8L530.6 2044.8L531.8 2044.9L533 2044.9L534.2 2044.9L535.4 2045L536.6 2045L537.8 2045.1L539 2045.1L540.2 2045.1L541.4 2045.2L542.6 2045.2L543.8 2045.2L545 2045.2L546.2 2045.3L547.4 2045.3L548.6 2045.3L549.8 2045.4L549.8 2047.5Z" fill="#ccbe91"/>
<path d="M248.4 2098.5L248.4 2093L249.6 2092.9L250.8 2092.7L252 2092.6L253.2 2092.4L254.4 2092.3L255.6 2092.2L256.8 2092.2L258 2092.1L259.2 2092.1L260.4 2092.1L261.6 2092.1L262.8 2092.2L264 2092.2L265.2 2092.3L266.4 2092.4L267.6 2092.5L268.8 2092.6L270 2092.7L271.2 2092.8L272.4 2092.9L273.6 2093L274.8 2093.2L276 2093.3L277.2 2093.5L278.4 2093.6L279.6 2093.8L280.8 2094L282 2094.1L283.2 2094.3L284.4 2094.5L285.6 2094.7L286.8 2094.8L288 2095L289.2 2095.2L290.4 2095.3L291.6 2095.4L292.8 2095.6L294 2095.7L295.2 2095.8L296.4 2095.8L297.6 2095.9L298.8 2096L300 2096L301.3 2096L302.5 2096.1L303.7 2096.1L304.9 2096.1L306.1 2096.1L307.3 2096.1L308.5 2096.1L309.7 2096.1L310.9 2096L312.1 2096L313.3 2095.9L314.5 2095.8L315.7 2095.7L316.9 2095.6L318.1 2095.4L319.3 2095.2L320.5 2094.9L321.7 2094.7L322.9 2094.3L324.1 2094L325.3 2093.6L326.5 2093.3L327.7 2092.9L328.9 2092.4L330.1 2092L331.3 2091.5L332.5 2091L333.7 2090.5L334.9 2090L336.1 2089.5L337.3 2089L338.5 2088.4L339.7 2087.9L340.9 2087.3L342.1 2086.8L343.3 2086.2L344.5 2085.7L345.7 2085.1L346.9 2084.6L348.1 2084.1L349.3 2083.6L350.5 2083.1L351.7 2082.6L352.9 2082.2L354.1 2081.7L355.3 2081.3L356.5 2080.9L357.7 2080.5L358.9 2080.2L360.1 2080L361.3 2079.8L362.5 2079.6L363.7 2079.5L364.9 2079.3L366.1 2079.2L367.3 2079.1L368.5 2079.1L369.7 2079L370.9 2079L372.1 2079L373.3 2079L374.5 2079.1L375.8 2079.2L377 2079.3L378.2 2079.4L379.4 2079.5L380.6 2079.6L381.8 2079.7L383 2079.8L384.2 2079.9L385.4 2079.9L386.6 2080L387.8 2080.1L389 2080.1L390.2 2080.2L391.4 2080.2L392.6 2080.3L393.8 2080.3L395 2080.3L396.2 2080.4L397.4 2080.4L398.6 2080.5L399.8 2080.5L401 2080.6L402.2 2080.6L403.4 2080.6L404.6 2080.7L405.8 2080.7L407 2080.7L408.2 2080.7L409.4 2080.8L410.6 2080.8L411.8 2080.8L413 2080.9L414.2 2080.9L415.4 2081L416.6 2081.1L417.8 2081.2L419 2081.4L420.2 2081.5L421.4 2081.7L422.6 2082L423.8 2082.3L425 2082.6L426.2 2083L427.4 2083.3L428.6 2083.7L429.8 2084L431 2084.4L432.2 2084.8L433.4 2085.1L434.6 2085.5L435.8 2085.8L437 2086.2L438.2 2086.6L439.4 2086.9L440.6 2087.3L441.8 2087.6L443 2088L444.2 2088.4L445.4 2088.7L446.6 2089.1L447.8 2089.4L449 2089.8L450.3 2090.2L451.5 2090.5L452.7 2090.8L453.9 2091.2L455.1 2091.5L456.3 2091.8L457.5 2092.1L458.7 2092.3L459.9 2092.6L461.1 2092.9L462.3 2093.1L463.5 2093.4L464.7 2093.6L465.9 2093.8L467.1 2094L468.3 2094.1L469.5 2094.3L470.7 2094.5L471.9 2094.6L473.1 2094.8L474.3 2094.9L475.5 2095L476.7 2095.1L477.9 2095.2L479.1 2095.4L480.3 2095.5L481.5 2095.6L482.7 2095.7L483.9 2095.7L485.1 2095.8L486.3 2095.9L487.5 2096L488.7 2096L489.9 2096.1L491.1 2096.1L492.3 2096.2L493.5 2096.2L494.7 2096.3L495.9 2096.3L497.1 2096.3L498.3 2096.4L499.5 2096.4L500.7 2096.4L501.9 2096.4L503.1 2096.4L504.3 2096.4L505.5 2096.4L506.7 2096.4L506.7 2098.5Z" fill="#1abc9c"/>
<path d="M254.1 2149.8L254.1 2147.4L255.4 2147.4L256.6 2147.3L257.8 2147.3L259 2147.2L260.2 2147.1L261.4 2147L262.6 2146.9L263.8 2146.8L265 2146.7L266.2 2146.6L267.4 2146.5L268.6 2146.4L269.8 2146.2L271 2146.1L272.2 2146L273.4 2145.8L274.6 2145.7L275.8 2145.5L277 2145.3L278.2 2145.1L279.4 2144.8L280.6 2144.6L281.8 2144.3L283 2144L284.2 2143.6L285.4 2143.3L286.6 2142.9L287.9 2142.6L289.1 2142.2L290.3 2141.8L291.5 2141.4L292.7 2141.1L293.9 2140.7L295.1 2140.3L296.3 2140L297.5 2139.6L298.7 2139.3L299.9 2138.9L301.1 2138.6L302.3 2138.2L303.5 2137.9L304.7 2137.6L305.9 2137.2L307.1 2136.9L308.3 2136.6L309.5 2136.3L310.7 2136L311.9 2135.7L313.1 2135.5L314.3 2135.3L315.5 2135.1L316.7 2134.9L317.9 2134.8L319.1 2134.6L320.4 2134.5L321.6 2134.4L322.8 2134.3L324 2134.2L325.2 2134.1L326.4 2134L327.6 2133.9L328.8 2133.9L330 2133.8L331.2 2133.8L332.4 2133.7L333.6 2133.7L334.8 2133.7L336 2133.8L337.2 2133.8L338.4 2133.8L339.6 2133.9L340.8 2133.9L342 2134L343.2 2134.1L344.4 2134.2L345.6 2134.3L346.8 2134.4L348 2134.5L349.2 2134.6L350.4 2134.8L351.6 2135L352.9 2135.1L354.1 2135.3L355.3 2135.5L356.5 2135.6L357.7 2135.8L358.9 2135.9L360.1 2136L361.3 2136.1L362.5 2136.1L363.7 2136.1L364.9 2136.1L366.1 2136.1L367.3 2136.1L368.5 2136L369.7 2136L370.9 2135.8L372.1 2135.7L373.3 2135.5L374.5 2135.4L375.7 2135.1L376.9 2134.9L378.1 2134.7L379.3 2134.4L380.5 2134.1L381.7 2133.8L382.9 2133.4L384.2 2133L385.4 2132.7L386.6 2132.3L387.8 2131.9L389 2131.5L390.2 2131.1L391.4 2130.7L392.6 2130.3L393.8 2129.9L395 2129.5L396.2 2129.1L397.4 2128.8L398.6 2128.5L399.8 2128.1L401 2127.8L402.2 2127.5L403.4 2127.2L404.6 2126.9L405.8 2126.7L407 2126.6L408.2 2126.6L409.4 2126.6L410.6 2126.6L411.8 2126.8L413 2127L414.2 2127.2L415.4 2127.5L416.7 2127.9L417.9 2128.5L419.1 2129.1L420.3 2129.7L421.5 2130.4L422.7 2131.2L423.9 2131.9L425.1 2132.7L426.3 2133.4L427.5 2134.1L428.7 2134.8L429.9 2135.5L431.1 2136.1L432.3 2136.8L433.5 2137.4L434.7 2138.1L435.9 2138.7L437.1 2139.3L438.3 2139.9L439.5 2140.5L440.7 2141L441.9 2141.5L443.1 2141.9L444.3 2142.4L445.5 2142.8L446.7 2143.2L447.9 2143.5L449.2 2143.9L450.4 2144.2L451.6 2144.5L452.8 2144.7L454 2145L455.2 2145.2L456.4 2145.4L457.6 2145.5L458.8 2145.7L460 2145.8L461.2 2145.9L461.2 2149.8Z" fill="#e31a1c"/>
<path d="M272.1 2200.8L272.1 2196.6L273.3 2196.4L274.5 2196.2L275.7 2196L276.9 2195.8L278.1 2195.5L279.3 2195.3L280.5 2195.1L281.7 2194.9L282.9 2194.7L284.1 2194.5L285.3 2194.2L286.5 2194L287.7 2193.8L288.9 2193.5L290.1 2193.3L291.3 2193.1L292.5 2192.8L293.7 2192.6L294.9 2192.3L296.1 2192.1L297.3 2191.8L298.5 2191.6L299.7 2191.3L300.9 2191.1L302.1 2190.9L303.3 2190.7L304.5 2190.5L305.7 2190.3L306.9 2190.1L308.1 2189.9L309.3 2189.7L310.5 2189.5L311.7 2189.3L312.9 2189.1L314.1 2189L315.3 2188.8L316.5 2188.6L317.7 2188.5L318.9 2188.3L320.1 2188.2L321.3 2188.1L322.5 2187.9L323.7 2187.8L324.9 2187.7L326.1 2187.6L327.3 2187.5L328.5 2187.4L329.7 2187.3L330.9 2187.2L332.1 2187.1L333.3 2187L334.5 2186.9L335.7 2186.9L336.9 2186.8L338.1 2186.7L339.3 2186.7L340.5 2186.6L341.7 2186.6L342.9 2186.6L344.1 2186.6L345.3 2186.5L346.5 2186.6L347.7 2186.6L348.9 2186.6L350.1 2186.6L351.3 2186.7L352.5 2186.7L353.7 2186.8L354.9 2186.9L356.1 2187L357.3 2187.1L358.5 2187.2L359.8 2187.3L361 2187.4L362.2 2187.5L363.4 2187.7L364.6 2187.8L365.8 2187.9L367 2188.1L368.2 2188.2L369.4 2188.4L370.6 2188.5L371.8 2188.7L373 2188.8L374.2 2189L375.4 2189.1L376.6 2189.2L377.8 2189.4L379 2189.5L380.2 2189.6L381.4 2189.8L382.6 2189.9L383.8 2190L385 2190.1L386.2 2190.3L387.4 2190.4L388.6 2190.5L389.8 2190.6L391 2190.8L392.2 2190.9L393.4 2191L394.6 2191.1L395.8 2191.2L397 2191.3L398.2 2191.4L399.4 2191.5L400.6 2191.6L401.8 2191.7L403 2191.8L404.2 2191.9L405.4 2192L406.6 2192.1L407.8 2192.2L409 2192.3L410.2 2192.4L411.4 2192.4L412.6 2192.5L413.8 2192.6L415 2192.7L416.2 2192.8L417.4 2192.8L418.6 2192.9L419.8 2193L421 2193L422.2 2193.1L423.4 2193.2L424.6 2193.2L425.8 2193.3L427 2193.4L428.2 2193.4L429.4 2193.5L430.6 2193.5L431.8 2193.6L433 2193.7L434.2 2193.7L435.4 2193.8L436.6 2193.8L437.8 2193.9L439 2194L440.2 2194L441.4 2194.1L442.6 2194.1L443.8 2194.2L445 2194.2L446.2 2194.3L447.4 2194.3L448.6 2194.3L449.8 2194.4L451 2194.4L452.2 2194.5L453.4 2194.5L454.6 2194.6L455.9 2194.6L457.1 2194.7L458.3 2194.7L459.5 2194.8L460.7 2194.8L461.9 2194.9L463.1 2194.9L464.3 2195L465.5 2195L466.7 2195.1L467.9 2195.1L469.1 2195.2L470.3 2195.2L471.5 2195.3L472.7 2195.3L473.9 2195.4L475.1 2195.4L476.3 2195.5L477.5 2195.5L478.7 2195.6L479.9 2195.6L481.1 2195.6L482.3 2195.7L483.5 2195.7L484.7 2195.8L485.9 2195.8L487.1 2195.9L488.3 2195.9L489.5 2196L490.7 2196L491.9 2196.1L493.1 2196.1L494.3 2196.2L495.5 2196.2L496.7 2196.3L497.9 2196.3L499.1 2196.4L500.3 2196.4L501.5 2196.5L502.7 2196.5L503.9 2196.6L505.1 2196.6L506.3 2196.7L507.5 2196.7L508.7 2196.8L509.9 2196.8L511.1 2196.8L512.3 2196.9L513.5 2196.9L514.7 2197L515.9 2197L517.1 2197.1L518.3 2197.1L519.5 2197.2L520.7 2197.2L521.9 2197.3L523.1 2197.3L524.3 2197.4L525.5 2197.4L526.7 2197.5L527.9 2197.5L529.1 2197.6L530.3 2197.6L531.5 2197.7L532.7 2197.7L533.9 2197.8L535.1 2197.8L536.3 2197.9L537.5 2197.9L538.7 2198L539.9 2198L541.1 2198L542.3 2198.1L543.5 2198.1L544.7 2198.2L545.9 2198.2L547.1 2198.3L548.3 2198.3L549.5 2198.4L550.8 2198.4L552 2198.4L553.2 2198.5L554.4 2198.5L555.6 2198.6L556.8 2198.6L558 2198.6L559.2 2198.7L560.4 2198.7L561.6 2198.7L562.8 2198.8L564 2198.8L565.2 2198.9L566.4 2198.9L567.6 2198.9L568.8 2198.9L570 2199L571.2 2199L572.4 2199L573.6 2199L574.8 2199L576 2199L577.2 2199L578.4 2199L579.6 2199L580.8 2199L582 2199L583.2 2199L584.4 2199L585.6 2199L586.8 2199L588 2199L589.2 2199L590.4 2199L591.6 2199L592.8 2199L594 2199L595.2 2199L596.4 2199L597.6 2198.9L598.8 2198.9L600 2198.9L601.2 2198.9L602.4 2198.9L603.6 2198.9L604.8 2198.9L606 2198.8L607.2 2198.8L608.4 2198.8L609.6 2198.8L610.8 2198.8L612 2198.7L613.2 2198.7L614.4 2198.7L615.6 2198.7L616.8 2198.6L618 2198.6L619.2 2198.6L620.4 2198.5L621.6 2198.5L622.8 2198.5L624 2198.4L625.2 2198.4L626.4 2198.4L627.6 2198.3L628.8 2198.3L630 2198.3L631.2 2198.2L632.4 2198.2L633.6 2198.1L634.8 2198.1L634.8 2200.8Z" fill="#2c3e50"/>
<g fill="#a3a3a3"><circle cx="285.7" cy="1093.8" r="2.3"/><circle cx="290" cy="1093.8" r="2.3"/><circle cx="308.5" cy="1093.8" r="2.3"/><circle cx="308.5" cy="1098.2" r="2.3"/><circle cx="336.7" cy="1093.8" r="2.3"/><circle cx="336.7" cy="1098.2" r="2.3"/><circle cx="349.8" cy="1093.8" r="2.3"/><circle cx="362.5" cy="1093.8" r="2.3"/><circle cx="373.8" cy="1093.8" r="2.3"/><circle cx="373.8" cy="1098.2" r="2.3"/><circle cx="379.2" cy="1093.8" r="2.3"/><circle cx="385.3" cy="1093.8" r="2.3"/><circle cx="385.3" cy="1098.2" r="2.3"/><circle cx="391.4" cy="1093.8" r="2.3"/><circle cx="398" cy="1093.8" r="2.3"/><circle cx="403.5" cy="1093.8" r="2.3"/><circle cx="409.6" cy="1093.8" r="2.3"/><circle cx="432.3" cy="1093.8" r="2.3"/><circle cx="437.5" cy="1093.8" r="2.3"/><circle cx="442.1" cy="1093.8" r="2.3"/><circle cx="449" cy="1093.8" r="2.3"/><circle cx="459.1" cy="1093.8" r="2.3"/><circle cx="464.8" cy="1093.8" r="2.3"/><circle cx="480.3" cy="1093.8" r="2.3"/><circle cx="289.4" cy="1144.8" r="2.3"/><circle cx="316.1" cy="1144.8" r="2.3"/><circle cx="321.2" cy="1144.8" r="2.3"/><circle cx="362.5" cy="1144.8" r="2.3"/><circle cx="367.7" cy="1144.8" r="2.3"/><circle cx="367.7" cy="1149.2" r="2.3"/><circle cx="373.2" cy="1144.8" r="2.3"/><circle cx="377.4" cy="1144.8" r="2.3"/><circle cx="385.9" cy="1144.8" r="2.3"/><circle cx="385.9" cy="1149.2" r="2.3"/><circle cx="390.8" cy="1144.8" r="2.3"/><circle cx="390.8" cy="1149.2" r="2.3"/><circle cx="397.4" cy="1144.8" r="2.3"/><circle cx="439" cy="1144.8" r="2.3"/><circle cx="461.2" cy="1144.8" r="2.3"/><circle cx="546.8" cy="1144.8" r="2.3"/><circle cx="251.1" cy="1196.1" r="2.3"/><circle cx="270.2" cy="1196.1" r="2.3"/><circle cx="298.8" cy="1196.1" r="2.3"/><circle cx="342.8" cy="1196.1" r="2.3"/><circle cx="349.8" cy="1196.1" r="2.3"/><circle cx="360.1" cy="1196.1" r="2.3"/><circle cx="373.8" cy="1196.1" r="2.3"/><circle cx="373.8" cy="1200.5" r="2.3"/><circle cx="379.8" cy="1196.1" r="2.3"/><circle cx="384.4" cy="1196.1" r="2.3"/><circle cx="390.8" cy="1196.1" r="2.3"/><circle cx="397.4" cy="1196.1" r="2.3"/><circle cx="397.4" cy="1200.5" r="2.3"/><circle cx="397.4" cy="1204.9" r="2.3"/><circle cx="445.7" cy="1196.1" r="2.3"/><circle cx="453.3" cy="1196.1" r="2.3"/><circle cx="472.4" cy="1196.1" r="2.3"/><circle cx="174.9" cy="1246.8" r="2.3"/><circle cx="310" cy="1246.8" r="2.3"/><circle cx="318.5" cy="1246.8" r="2.3"/><circle cx="327.6" cy="1246.8" r="2.3"/><circle cx="327.6" cy="1251.2" r="2.3"/><circle cx="349.8" cy="1246.8" r="2.3"/><circle cx="360.1" cy="1246.8" r="2.3"/><circle cx="369.8" cy="1246.8" r="2.3"/><circle cx="379.8" cy="1246.8" r="2.3"/><circle cx="379.8" cy="1251.2" r="2.3"/><circle cx="384.4" cy="1246.8" r="2.3"/><circle cx="390.8" cy="1246.8" r="2.3"/><circle cx="405.6" cy="1246.8" r="2.3"/><circle cx="427.8" cy="1246.8" r="2.3"/><circle cx="448.4" cy="1246.8" r="2.3"/><circle cx="448.4" cy="1251.2" r="2.3"/><circle cx="482.7" cy="1246.8" r="2.3"/><circle cx="556.5" cy="1246.8" r="2.3"/><circle cx="300.3" cy="1297.8" r="2.3"/><circle cx="307.9" cy="1297.8" r="2.3"/><circle cx="307.9" cy="1302.2" r="2.3"/><circle cx="327.6" cy="1297.8" r="2.3"/><circle cx="331.9" cy="1297.8" r="2.3"/><circle cx="340.4" cy="1297.8" r="2.3"/><circle cx="362.5" cy="1297.8" r="2.3"/><circle cx="376.8" cy="1297.8" r="2.3"/><circle cx="376.8" cy="1302.2" r="2.3"/><circle cx="390.8" cy="1297.8" r="2.3"/><circle cx="404.1" cy="1297.8" r="2.3"/><circle cx="409.6" cy="1297.8" r="2.3"/><circle cx="419.3" cy="1297.8" r="2.3"/><circle cx="419.3" cy="1302.2" r="2.3"/><circle cx="430.8" cy="1297.8" r="2.3"/><circle cx="435.1" cy="1297.8" r="2.3"/><circle cx="441.2" cy="1297.8" r="2.3"/><circle cx="441.2" cy="1302.2" r="2.3"/><circle cx="450" cy="1297.8" r="2.3"/><circle cx="459.1" cy="1297.8" r="2.3"/><circle cx="459.1" cy="1302.2" r="2.3"/><circle cx="463.6" cy="1297.8" r="2.3"/><circle cx="571.7" cy="1297.8" r="2.3"/><circle cx="317.9" cy="1349.1" r="2.3"/><circle cx="322.8" cy="1349.1" r="2.3"/><circle cx="347.7" cy="1349.1" r="2.3"/><circle cx="347.7" cy="1353.5" r="2.3"/><circle cx="347.7" cy="1357.9" r="2.3"/><circle cx="351.9" cy="1349.1" r="2.3"/><circle cx="362.5" cy="1349.1" r="2.3"/><circle cx="367.7" cy="1349.1" r="2.3"/><circle cx="373.2" cy="1349.1" r="2.3"/><circle cx="378.9" cy="1349.1" r="2.3"/><circle cx="447.2" cy="1349.1" r="2.3"/><circle cx="566.8" cy="1349.1" r="2.3"/><circle cx="319.4" cy="1400.1" r="2.3"/><circle cx="327.6" cy="1400.1" r="2.3"/><circle cx="332.2" cy="1400.1" r="2.3"/><circle cx="344.9" cy="1400.1" r="2.3"/><circle cx="357.4" cy="1400.1" r="2.3"/><circle cx="370.7" cy="1400.1" r="2.3"/><circle cx="370.7" cy="1404.5" r="2.3"/><circle cx="378.9" cy="1400.1" r="2.3"/><circle cx="412" cy="1400.1" r="2.3"/><circle cx="412" cy="1404.5" r="2.3"/><circle cx="463.6" cy="1400.1" r="2.3"/><circle cx="463.6" cy="1404.5" r="2.3"/><circle cx="635.7" cy="1400.1" r="2.3"/><circle cx="337.6" cy="1451.1" r="2.3"/><circle cx="345.5" cy="1451.1" r="2.3"/><circle cx="345.5" cy="1455.5" r="2.3"/><circle cx="345.5" cy="1459.9" r="2.3"/><circle cx="352.8" cy="1451.1" r="2.3"/><circle cx="377.7" cy="1451.1" r="2.3"/><circle cx="432.7" cy="1451.1" r="2.3"/><circle cx="442.7" cy="1451.1" r="2.3"/><circle cx="449.7" cy="1451.1" r="2.3"/><circle cx="465.1" cy="1451.1" r="2.3"/><circle cx="313" cy="1502.2" r="2.3"/><circle cx="336.7" cy="1502.2" r="2.3"/><circle cx="349.8" cy="1502.2" r="2.3"/><circle cx="372.2" cy="1502.2" r="2.3"/><circle cx="372.2" cy="1506.6" r="2.3"/><circle cx="384.4" cy="1502.2" r="2.3"/><circle cx="384.4" cy="1506.6" r="2.3"/><circle cx="390.8" cy="1502.2" r="2.3"/><circle cx="450" cy="1502.2" r="2.3"/><circle cx="457.9" cy="1502.2" r="2.3"/><circle cx="519.2" cy="1502.2" r="2.3"/><circle cx="626" cy="1502.2" r="2.3"/><circle cx="257.8" cy="1553.2" r="2.3"/><circle cx="280.3" cy="1553.2" r="2.3"/><circle cx="304.2" cy="1553.2" r="2.3"/><circle cx="317.6" cy="1553.2" r="2.3"/><circle cx="322.8" cy="1553.2" r="2.3"/><circle cx="322.8" cy="1557.6" r="2.3"/><circle cx="344.9" cy="1553.2" r="2.3"/><circle cx="358.6" cy="1553.2" r="2.3"/><circle cx="358.6" cy="1557.6" r="2.3"/><circle cx="363.1" cy="1553.2" r="2.3"/><circle cx="363.1" cy="1557.6" r="2.3"/><circle cx="363.1" cy="1562" r="2.3"/><circle cx="374.4" cy="1553.2" r="2.3"/><circle cx="374.4" cy="1557.6" r="2.3"/><circle cx="397.4" cy="1553.2" r="2.3"/><circle cx="397.4" cy="1557.6" r="2.3"/><circle cx="406.2" cy="1553.2" r="2.3"/><circle cx="411.7" cy="1553.2" r="2.3"/><circle cx="411.7" cy="1557.6" r="2.3"/><circle cx="434.5" cy="1553.2" r="2.3"/><circle cx="439.3" cy="1553.2" r="2.3"/><circle cx="480.6" cy="1553.2" r="2.3"/><circle cx="317.6" cy="1604.2" r="2.3"/><circle cx="327.6" cy="1604.2" r="2.3"/><circle cx="332.8" cy="1604.2" r="2.3"/><circle cx="332.8" cy="1608.6" r="2.3"/><circle cx="332.8" cy="1613" r="2.3"/><circle cx="338.8" cy="1604.2" r="2.3"/><circle cx="338.8" cy="1608.6" r="2.3"/><circle cx="342.8" cy="1604.2" r="2.3"/><circle cx="342.8" cy="1608.6" r="2.3"/><circle cx="356.2" cy="1604.2" r="2.3"/><circle cx="356.2" cy="1608.6" r="2.3"/><circle cx="369.8" cy="1604.2" r="2.3"/><circle cx="369.8" cy="1608.6" r="2.3"/><circle cx="374.4" cy="1604.2" r="2.3"/><circle cx="381.3" cy="1604.2" r="2.3"/><circle cx="381.3" cy="1608.6" r="2.3"/><circle cx="397.4" cy="1604.2" r="2.3"/><circle cx="417.2" cy="1604.2" r="2.3"/><circle cx="417.2" cy="1608.6" r="2.3"/><circle cx="417.2" cy="1613" r="2.3"/><circle cx="422.9" cy="1604.2" r="2.3"/><circle cx="430.8" cy="1604.2" r="2.3"/><circle cx="430.8" cy="1608.6" r="2.3"/><circle cx="435.1" cy="1604.2" r="2.3"/><circle cx="435.1" cy="1608.6" r="2.3"/><circle cx="442.4" cy="1604.2" r="2.3"/><circle cx="469.4" cy="1604.2" r="2.3"/><circle cx="469.4" cy="1608.6" r="2.3"/><circle cx="480.6" cy="1604.2" r="2.3"/><circle cx="310" cy="1655.2" r="2.3"/><circle cx="327.6" cy="1655.2" r="2.3"/><circle cx="327.6" cy="1659.6" r="2.3"/><circle cx="351.9" cy="1655.2" r="2.3"/><circle cx="357.4" cy="1655.2" r="2.3"/><circle cx="362.5" cy="1655.2" r="2.3"/><circle cx="369.8" cy="1655.2" r="2.3"/><circle cx="377.4" cy="1655.2" r="2.3"/><circle cx="377.4" cy="1659.6" r="2.3"/><circle cx="389.5" cy="1655.2" r="2.3"/><circle cx="397.4" cy="1655.2" r="2.3"/><circle cx="397.4" cy="1659.6" r="2.3"/><circle cx="397.4" cy="1664" r="2.3"/><circle cx="426.3" cy="1655.2" r="2.3"/><circle cx="432.7" cy="1655.2" r="2.3"/><circle cx="437.8" cy="1655.2" r="2.3"/><circle cx="469.4" cy="1655.2" r="2.3"/><circle cx="490.9" cy="1655.2" r="2.3"/><circle cx="300.3" cy="1706.5" r="2.3"/><circle cx="338.2" cy="1706.5" r="2.3"/><circle cx="338.2" cy="1710.9" r="2.3"/><circle cx="347" cy="1706.5" r="2.3"/><circle cx="351.9" cy="1706.5" r="2.3"/><circle cx="366.2" cy="1706.5" r="2.3"/><circle cx="373.2" cy="1706.5" r="2.3"/><circle cx="373.2" cy="1710.9" r="2.3"/><circle cx="373.2" cy="1715.3" r="2.3"/><circle cx="384.7" cy="1706.5" r="2.3"/><circle cx="426.3" cy="1706.5" r="2.3"/><circle cx="426.3" cy="1710.9" r="2.3"/><circle cx="426.3" cy="1715.3" r="2.3"/><circle cx="432.7" cy="1706.5" r="2.3"/><circle cx="451.8" cy="1706.5" r="2.3"/><circle cx="451.8" cy="1710.9" r="2.3"/><circle cx="457.5" cy="1706.5" r="2.3"/><circle cx="257.8" cy="1757.5" r="2.3"/><circle cx="276.6" cy="1757.5" r="2.3"/><circle cx="289.7" cy="1757.5" r="2.3"/><circle cx="305.5" cy="1757.5" r="2.3"/><circle cx="305.5" cy="1761.9" r="2.3"/><circle cx="313" cy="1757.5" r="2.3"/><circle cx="322.1" cy="1757.5" r="2.3"/><circle cx="326.7" cy="1757.5" r="2.3"/><circle cx="331.3" cy="1757.5" r="2.3"/><circle cx="337.3" cy="1757.5" r="2.3"/><circle cx="344.9" cy="1757.5" r="2.3"/><circle cx="358" cy="1757.5" r="2.3"/><circle cx="358" cy="1761.9" r="2.3"/><circle cx="363.1" cy="1757.5" r="2.3"/><circle cx="363.1" cy="1761.9" r="2.3"/><circle cx="367.7" cy="1757.5" r="2.3"/><circle cx="376.2" cy="1757.5" r="2.3"/><circle cx="385.3" cy="1757.5" r="2.3"/><circle cx="385.3" cy="1761.9" r="2.3"/><circle cx="385.3" cy="1766.3" r="2.3"/><circle cx="390.8" cy="1757.5" r="2.3"/><circle cx="404.1" cy="1757.5" r="2.3"/><circle cx="417.8" cy="1757.5" r="2.3"/><circle cx="422.9" cy="1757.5" r="2.3"/><circle cx="427.8" cy="1757.5" r="2.3"/><circle cx="432.7" cy="1757.5" r="2.3"/><circle cx="439.3" cy="1757.5" r="2.3"/><circle cx="479.1" cy="1757.5" r="2.3"/><circle cx="479.1" cy="1761.9" r="2.3"/><circle cx="483" cy="1757.5" r="2.3"/><circle cx="490.9" cy="1757.5" r="2.3"/><circle cx="817.6" cy="1757.5" r="2.3"/><circle cx="270.5" cy="1808.2" r="2.3"/><circle cx="279" cy="1808.2" r="2.3"/><circle cx="287.5" cy="1808.2" r="2.3"/><circle cx="287.5" cy="1812.6" r="2.3"/><circle cx="292.7" cy="1808.2" r="2.3"/><circle cx="302.4" cy="1808.2" r="2.3"/><circle cx="302.4" cy="1812.6" r="2.3"/><circle cx="302.4" cy="1817" r="2.3"/><circle cx="313.6" cy="1808.2" r="2.3"/><circle cx="318.5" cy="1808.2" r="2.3"/><circle cx="318.5" cy="1812.6" r="2.3"/><circle cx="322.8" cy="1808.2" r="2.3"/><circle cx="344.9" cy="1808.2" r="2.3"/><circle cx="344.9" cy="1812.6" r="2.3"/><circle cx="349.8" cy="1808.2" r="2.3"/><circle cx="349.8" cy="1812.6" r="2.3"/><circle cx="359.2" cy="1808.2" r="2.3"/><circle cx="359.2" cy="1812.6" r="2.3"/><circle cx="359.2" cy="1817" r="2.3"/><circle cx="366.2" cy="1808.2" r="2.3"/><circle cx="376.2" cy="1808.2" r="2.3"/><circle cx="376.2" cy="1812.6" r="2.3"/><circle cx="376.2" cy="1817" r="2.3"/><circle cx="383.5" cy="1808.2" r="2.3"/><circle cx="397.4" cy="1808.2" r="2.3"/><circle cx="397.4" cy="1812.6" r="2.3"/><circle cx="410.2" cy="1808.2" r="2.3"/><circle cx="410.2" cy="1812.6" r="2.3"/><circle cx="416.3" cy="1808.2" r="2.3"/><circle cx="421.7" cy="1808.2" r="2.3"/><circle cx="439" cy="1808.2" r="2.3"/><circle cx="439" cy="1812.6" r="2.3"/><circle cx="449.7" cy="1808.2" r="2.3"/><circle cx="467.9" cy="1808.2" r="2.3"/><circle cx="472.4" cy="1808.2" r="2.3"/><circle cx="487.6" cy="1808.2" r="2.3"/><circle cx="487.6" cy="1812.6" r="2.3"/><circle cx="494.6" cy="1808.2" r="2.3"/><circle cx="494.6" cy="1812.6" r="2.3"/><circle cx="494.6" cy="1817" r="2.3"/><circle cx="545.9" cy="1808.2" r="2.3"/><circle cx="269" cy="1859.5" r="2.3"/><circle cx="269" cy="1863.9" r="2.3"/><circle cx="281.5" cy="1859.5" r="2.3"/><circle cx="321.2" cy="1859.5" r="2.3"/><circle cx="321.2" cy="1863.9" r="2.3"/><circle cx="321.2" cy="1868.3" r="2.3"/><circle cx="327.6" cy="1859.5" r="2.3"/><circle cx="331.9" cy="1859.5" r="2.3"/><circle cx="341" cy="1859.5" r="2.3"/><circle cx="341" cy="1863.9" r="2.3"/><circle cx="341" cy="1868.3" r="2.3"/><circle cx="359.2" cy="1859.5" r="2.3"/><circle cx="359.2" cy="1863.9" r="2.3"/><circle cx="365.3" cy="1859.5" r="2.3"/><circle cx="365.3" cy="1863.9" r="2.3"/><circle cx="372.2" cy="1859.5" r="2.3"/><circle cx="372.2" cy="1863.9" r="2.3"/><circle cx="379.8" cy="1859.5" r="2.3"/><circle cx="384.7" cy="1859.5" r="2.3"/><circle cx="390.8" cy="1859.5" r="2.3"/><circle cx="397.4" cy="1859.5" r="2.3"/><circle cx="397.4" cy="1863.9" r="2.3"/><circle cx="408.7" cy="1859.5" r="2.3"/><circle cx="416.3" cy="1859.5" r="2.3"/><circle cx="422.9" cy="1859.5" r="2.3"/><circle cx="431.4" cy="1859.5" r="2.3"/><circle cx="431.4" cy="1863.9" r="2.3"/><circle cx="439" cy="1859.5" r="2.3"/><circle cx="439" cy="1863.9" r="2.3"/><circle cx="439" cy="1868.3" r="2.3"/><circle cx="439" cy="1872.7" r="2.3"/><circle cx="477.6" cy="1859.5" r="2.3"/><circle cx="488.5" cy="1859.5" r="2.3"/><circle cx="499.4" cy="1859.5" r="2.3"/><circle cx="282.1" cy="1910.5" r="2.3"/><circle cx="302.4" cy="1910.5" r="2.3"/><circle cx="302.4" cy="1914.9" r="2.3"/><circle cx="302.4" cy="1919.3" r="2.3"/><circle cx="302.4" cy="1923.7" r="2.3"/><circle cx="308.8" cy="1910.5" r="2.3"/><circle cx="313.6" cy="1910.5" r="2.3"/><circle cx="322.8" cy="1910.5" r="2.3"/><circle cx="327.6" cy="1910.5" r="2.3"/><circle cx="336.7" cy="1910.5" r="2.3"/><circle cx="341" cy="1910.5" r="2.3"/><circle cx="353.4" cy="1910.5" r="2.3"/><circle cx="353.4" cy="1914.9" r="2.3"/><circle cx="359.2" cy="1910.5" r="2.3"/><circle cx="359.2" cy="1914.9" r="2.3"/><circle cx="366.2" cy="1910.5" r="2.3"/><circle cx="366.2" cy="1914.9" r="2.3"/><circle cx="391.4" cy="1910.5" r="2.3"/><circle cx="403.5" cy="1910.5" r="2.3"/><circle cx="413.8" cy="1910.5" r="2.3"/><circle cx="429.9" cy="1910.5" r="2.3"/><circle cx="440.5" cy="1910.5" r="2.3"/><circle cx="440.5" cy="1914.9" r="2.3"/><circle cx="460.3" cy="1910.5" r="2.3"/><circle cx="485.2" cy="1910.5" r="2.3"/><circle cx="493.1" cy="1910.5" r="2.3"/><circle cx="499.4" cy="1910.5" r="2.3"/><circle cx="514" cy="1910.5" r="2.3"/><circle cx="206.2" cy="1961.3" r="2.3"/><circle cx="248.1" cy="1961.3" r="2.3"/><circle cx="281.8" cy="1961.3" r="2.3"/><circle cx="281.8" cy="1965.7" r="2.3"/><circle cx="291.2" cy="1961.3" r="2.3"/><circle cx="291.2" cy="1965.7" r="2.3"/><circle cx="304.2" cy="1961.3" r="2.3"/><circle cx="310" cy="1961.3" r="2.3"/><circle cx="318.5" cy="1961.3" r="2.3"/><circle cx="318.5" cy="1965.7" r="2.3"/><circle cx="322.8" cy="1961.3" r="2.3"/><circle cx="327.6" cy="1961.3" r="2.3"/><circle cx="327.6" cy="1965.7" r="2.3"/><circle cx="327.6" cy="1970.1" r="2.3"/><circle cx="344.9" cy="1961.3" r="2.3"/><circle cx="344.9" cy="1965.7" r="2.3"/><circle cx="349.8" cy="1961.3" r="2.3"/><circle cx="354.9" cy="1961.3" r="2.3"/><circle cx="354.9" cy="1965.7" r="2.3"/><circle cx="354.9" cy="1970.1" r="2.3"/><circle cx="354.9" cy="1974.5" r="2.3"/><circle cx="362.5" cy="1961.3" r="2.3"/><circle cx="362.5" cy="1965.7" r="2.3"/><circle cx="376.8" cy="1961.3" r="2.3"/><circle cx="376.8" cy="1965.7" r="2.3"/><circle cx="376.8" cy="1970.1" r="2.3"/><circle cx="376.8" cy="1974.5" r="2.3"/><circle cx="382.9" cy="1961.3" r="2.3"/><circle cx="382.9" cy="1965.7" r="2.3"/><circle cx="382.9" cy="1970.1" r="2.3"/><circle cx="387.4" cy="1961.3" r="2.3"/><circle cx="390.8" cy="1961.3" r="2.3"/><circle cx="397.4" cy="1961.3" r="2.3"/><circle cx="410.2" cy="1961.3" r="2.3"/><circle cx="415" cy="1961.3" r="2.3"/><circle cx="424.8" cy="1961.3" r="2.3"/><circle cx="424.8" cy="1965.7" r="2.3"/><circle cx="424.8" cy="1970.1" r="2.3"/><circle cx="440.5" cy="1961.3" r="2.3"/><circle cx="440.5" cy="1965.7" r="2.3"/><circle cx="447.2" cy="1961.3" r="2.3"/><circle cx="447.2" cy="1965.7" r="2.3"/><circle cx="460.3" cy="1961.3" r="2.3"/><circle cx="460.3" cy="1965.7" r="2.3"/><circle cx="465.7" cy="1961.3" r="2.3"/><circle cx="489.7" cy="1961.3" r="2.3"/><circle cx="489.7" cy="1965.7" r="2.3"/><circle cx="263.6" cy="2012.3" r="2.3"/><circle cx="285.7" cy="2012.3" r="2.3"/><circle cx="296.3" cy="2012.3" r="2.3"/><circle cx="313.6" cy="2012.3" r="2.3"/><circle cx="318.5" cy="2012.3" r="2.3"/><circle cx="318.5" cy="2016.7" r="2.3"/><circle cx="342.8" cy="2012.3" r="2.3"/><circle cx="342.8" cy="2016.7" r="2.3"/><circle cx="342.8" cy="2021.1" r="2.3"/><circle cx="349.8" cy="2012.3" r="2.3"/><circle cx="356.2" cy="2012.3" r="2.3"/><circle cx="356.2" cy="2016.7" r="2.3"/><circle cx="361" cy="2012.3" r="2.3"/><circle cx="361" cy="2016.7" r="2.3"/><circle cx="366.2" cy="2012.3" r="2.3"/><circle cx="366.2" cy="2016.7" r="2.3"/><circle cx="377.4" cy="2012.3" r="2.3"/><circle cx="377.4" cy="2016.7" r="2.3"/><circle cx="377.4" cy="2021.1" r="2.3"/><circle cx="383.5" cy="2012.3" r="2.3"/><circle cx="397.4" cy="2012.3" r="2.3"/><circle cx="403.5" cy="2012.3" r="2.3"/><circle cx="416.3" cy="2012.3" r="2.3"/><circle cx="416.3" cy="2016.7" r="2.3"/><circle cx="431.4" cy="2012.3" r="2.3"/><circle cx="431.4" cy="2016.7" r="2.3"/><circle cx="436.3" cy="2012.3" r="2.3"/><circle cx="436.3" cy="2016.7" r="2.3"/><circle cx="436.3" cy="2021.1" r="2.3"/><circle cx="455.7" cy="2012.3" r="2.3"/><circle cx="455.7" cy="2016.7" r="2.3"/><circle cx="471.5" cy="2012.3" r="2.3"/><circle cx="482.7" cy="2012.3" r="2.3"/><circle cx="492.8" cy="2012.3" r="2.3"/><circle cx="527.4" cy="2012.3" r="2.3"/><circle cx="537.1" cy="2012.3" r="2.3"/><circle cx="653.7" cy="2012.3" r="2.3"/><circle cx="287.5" cy="2063.3" r="2.3"/><circle cx="287.5" cy="2067.7" r="2.3"/><circle cx="287.5" cy="2072.1" r="2.3"/><circle cx="287.5" cy="2076.5" r="2.3"/><circle cx="300.3" cy="2063.3" r="2.3"/><circle cx="300.3" cy="2067.7" r="2.3"/><circle cx="306.4" cy="2063.3" r="2.3"/><circle cx="306.4" cy="2067.7" r="2.3"/><circle cx="313.6" cy="2063.3" r="2.3"/><circle cx="313.6" cy="2067.7" r="2.3"/><circle cx="322.1" cy="2063.3" r="2.3"/><circle cx="322.1" cy="2067.7" r="2.3"/><circle cx="322.1" cy="2072.1" r="2.3"/><circle cx="331.9" cy="2063.3" r="2.3"/><circle cx="331.9" cy="2067.7" r="2.3"/><circle cx="340.4" cy="2063.3" r="2.3"/><circle cx="344.9" cy="2063.3" r="2.3"/><circle cx="353.4" cy="2063.3" r="2.3"/><circle cx="353.4" cy="2067.7" r="2.3"/><circle cx="353.4" cy="2072.1" r="2.3"/><circle cx="353.4" cy="2076.5" r="2.3"/><circle cx="358" cy="2063.3" r="2.3"/><circle cx="367.7" cy="2063.3" r="2.3"/><circle cx="367.7" cy="2067.7" r="2.3"/><circle cx="372.2" cy="2063.3" r="2.3"/><circle cx="380.4" cy="2063.3" r="2.3"/><circle cx="380.4" cy="2067.7" r="2.3"/><circle cx="385.3" cy="2063.3" r="2.3"/><circle cx="385.3" cy="2067.7" r="2.3"/><circle cx="397.4" cy="2063.3" r="2.3"/><circle cx="397.4" cy="2067.7" r="2.3"/><circle cx="397.4" cy="2072.1" r="2.3"/><circle cx="404.1" cy="2063.3" r="2.3"/><circle cx="404.1" cy="2067.7" r="2.3"/><circle cx="410.2" cy="2063.3" r="2.3"/><circle cx="415" cy="2063.3" r="2.3"/><circle cx="422.9" cy="2063.3" r="2.3"/><circle cx="422.9" cy="2067.7" r="2.3"/><circle cx="429.9" cy="2063.3" r="2.3"/><circle cx="461.2" cy="2063.3" r="2.3"/><circle cx="461.2" cy="2067.7" r="2.3"/><circle cx="465.7" cy="2063.3" r="2.3"/><circle cx="473.3" cy="2063.3" r="2.3"/><circle cx="473.3" cy="2067.7" r="2.3"/><circle cx="495.8" cy="2063.3" r="2.3"/><circle cx="503.4" cy="2063.3" r="2.3"/><circle cx="515.2" cy="2063.3" r="2.3"/><circle cx="537.1" cy="2063.3" r="2.3"/><circle cx="549.2" cy="2063.3" r="2.3"/><circle cx="249.3" cy="2114.6" r="2.3"/><circle cx="249.3" cy="2119" r="2.3"/><circle cx="254.8" cy="2114.6" r="2.3"/><circle cx="260.8" cy="2114.6" r="2.3"/><circle cx="260.8" cy="2119" r="2.3"/><circle cx="281.8" cy="2114.6" r="2.3"/><circle cx="306.4" cy="2114.6" r="2.3"/><circle cx="318.5" cy="2114.6" r="2.3"/><circle cx="332.8" cy="2114.6" r="2.3"/><circle cx="340.4" cy="2114.6" r="2.3"/><circle cx="350.4" cy="2114.6" r="2.3"/><circle cx="350.4" cy="2119" r="2.3"/><circle cx="350.4" cy="2123.4" r="2.3"/><circle cx="354.9" cy="2114.6" r="2.3"/><circle cx="354.9" cy="2119" r="2.3"/><circle cx="361.6" cy="2114.6" r="2.3"/><circle cx="361.6" cy="2119" r="2.3"/><circle cx="361.6" cy="2123.4" r="2.3"/><circle cx="367.1" cy="2114.6" r="2.3"/><circle cx="367.1" cy="2119" r="2.3"/><circle cx="367.1" cy="2123.4" r="2.3"/><circle cx="373.2" cy="2114.6" r="2.3"/><circle cx="373.2" cy="2119" r="2.3"/><circle cx="373.2" cy="2123.4" r="2.3"/><circle cx="385.3" cy="2114.6" r="2.3"/><circle cx="385.3" cy="2119" r="2.3"/><circle cx="385.3" cy="2123.4" r="2.3"/><circle cx="390.8" cy="2114.6" r="2.3"/><circle cx="390.8" cy="2119" r="2.3"/><circle cx="397.4" cy="2114.6" r="2.3"/><circle cx="397.4" cy="2119" r="2.3"/><circle cx="403.5" cy="2114.6" r="2.3"/><circle cx="403.5" cy="2119" r="2.3"/><circle cx="403.5" cy="2123.4" r="2.3"/><circle cx="410.2" cy="2114.6" r="2.3"/><circle cx="410.2" cy="2119" r="2.3"/><circle cx="417.2" cy="2114.6" r="2.3"/><circle cx="417.2" cy="2119" r="2.3"/><circle cx="417.2" cy="2123.4" r="2.3"/><circle cx="417.2" cy="2127.8" r="2.3"/><circle cx="421.7" cy="2114.6" r="2.3"/><circle cx="431.4" cy="2114.6" r="2.3"/><circle cx="431.4" cy="2119" r="2.3"/><circle cx="431.4" cy="2123.4" r="2.3"/><circle cx="431.4" cy="2127.8" r="2.3"/><circle cx="436" cy="2114.6" r="2.3"/><circle cx="443.6" cy="2114.6" r="2.3"/><circle cx="443.6" cy="2119" r="2.3"/><circle cx="449.7" cy="2114.6" r="2.3"/><circle cx="457.2" cy="2114.6" r="2.3"/><circle cx="470.3" cy="2114.6" r="2.3"/><circle cx="488.5" cy="2114.6" r="2.3"/><circle cx="506.7" cy="2114.6" r="2.3"/><circle cx="254.1" cy="2165.9" r="2.3"/><circle cx="300.3" cy="2165.9" r="2.3"/><circle cx="312.1" cy="2165.9" r="2.3"/><circle cx="312.1" cy="2170.3" r="2.3"/><circle cx="319.1" cy="2165.9" r="2.3"/><circle cx="327.6" cy="2165.9" r="2.3"/><circle cx="332.2" cy="2165.9" r="2.3"/><circle cx="337.3" cy="2165.9" r="2.3"/><circle cx="347" cy="2165.9" r="2.3"/><circle cx="347" cy="2170.3" r="2.3"/><circle cx="361.6" cy="2165.9" r="2.3"/><circle cx="361.6" cy="2170.3" r="2.3"/><circle cx="376.2" cy="2165.9" r="2.3"/><circle cx="391.4" cy="2165.9" r="2.3"/><circle cx="391.4" cy="2170.3" r="2.3"/><circle cx="397.4" cy="2165.9" r="2.3"/><circle cx="404.1" cy="2165.9" r="2.3"/><circle cx="410.8" cy="2165.9" r="2.3"/><circle cx="410.8" cy="2170.3" r="2.3"/><circle cx="410.8" cy="2174.7" r="2.3"/><circle cx="415.7" cy="2165.9" r="2.3"/><circle cx="415.7" cy="2170.3" r="2.3"/><circle cx="415.7" cy="2174.7" r="2.3"/><circle cx="420.8" cy="2165.9" r="2.3"/><circle cx="437.8" cy="2165.9" r="2.3"/><circle cx="461.2" cy="2165.9" r="2.3"/><circle cx="272.1" cy="2216.9" r="2.3"/><circle cx="307.9" cy="2216.9" r="2.3"/><circle cx="307.9" cy="2221.3" r="2.3"/><circle cx="317.6" cy="2216.9" r="2.3"/><circle cx="317.6" cy="2221.3" r="2.3"/><circle cx="332.2" cy="2216.9" r="2.3"/><circle cx="332.2" cy="2221.3" r="2.3"/><circle cx="337.3" cy="2216.9" r="2.3"/><circle cx="344" cy="2216.9" r="2.3"/><circle cx="344" cy="2221.3" r="2.3"/><circle cx="352.8" cy="2216.9" r="2.3"/><circle cx="364" cy="2216.9" r="2.3"/><circle cx="364" cy="2221.3" r="2.3"/><circle cx="373.2" cy="2216.9" r="2.3"/><circle cx="378.9" cy="2216.9" r="2.3"/><circle cx="390.8" cy="2216.9" r="2.3"/><circle cx="390.8" cy="2221.3" r="2.3"/><circle cx="397.4" cy="2216.9" r="2.3"/><circle cx="427.2" cy="2216.9" r="2.3"/><circle cx="433.9" cy="2216.9" r="2.3"/><circle cx="433.9" cy="2221.3" r="2.3"/><circle cx="453.9" cy="2216.9" r="2.3"/><circle cx="477.6" cy="2216.9" r="2.3"/><circle cx="485.2" cy="2216.9" r="2.3"/><circle cx="508.2" cy="2216.9" r="2.3"/><circle cx="526.2" cy="2216.9" r="2.3"/><circle cx="556.5" cy="2216.9" r="2.3"/><circle cx="621.5" cy="2216.9" r="2.3"/><circle cx="634.8" cy="2216.9" r="2.3"/></g>
<line x1="285.7" y1="1087.1" x2="346.9" y2="1087.1" stroke="#2e2e2e" stroke-width="2.0"/>
<line x1="433.7" y1="1087.1" x2="480.3" y2="1087.1" stroke="#2e2e2e" stroke-width="2.0"/>
<rect x="346.91" y="1083.92" width="86.79" height="6.3" fill="#cab2d6" fill-opacity="0.5" stroke="#2e2e2e" stroke-width="1.95" stroke-linejoin="round"/>
<line x1="375.3" y1="1087.1" x2="395.9" y2="1087.1" stroke="#65596b" stroke-width="4.6499999999999995"/>
<line x1="385.7" y1="1083.9" x2="385.7" y2="1090.2" stroke="#2e2e2e" stroke-width="3.1"/>
<line x1="363.1" y1="1137.8" x2="365.7" y2="1137.8" stroke="#2e2e2e" stroke-width="2.0"/>
<line x1="393" y1="1137.8" x2="397.4" y2="1137.8" stroke="#2e2e2e" stroke-width="2.0"/>
<rect x="365.73" y="1134.62" width="27.28" height="6.3" fill="#ff7f00" fill-opacity="0.5" stroke="#2e2e2e" stroke-width="1.95" stroke-linejoin="round"/>
<line x1="370.7" y1="1137.8" x2="390.5" y2="1137.8" stroke="#804000" stroke-width="4.6499999999999995"/>
<line x1="381.7" y1="1134.6" x2="381.7" y2="1140.9" stroke="#2e2e2e" stroke-width="3.1"/>
<line x1="298.8" y1="1188.8" x2="350.3" y2="1188.8" stroke="#2e2e2e" stroke-width="2.0"/>
<line x1="397.6" y1="1188.8" x2="453.6" y2="1188.8" stroke="#2e2e2e" stroke-width="2.0"/>
<rect x="350.25" y="1185.62" width="47.32" height="6.3" fill="#fdbf6f" fill-opacity="0.5" stroke="#2e2e2e" stroke-width="1.95" stroke-linejoin="round"/>
<line x1="373.8" y1="1188.8" x2="387.4" y2="1188.8" stroke="#7e6038" stroke-width="4.6499999999999995"/>
<line x1="380.2" y1="1185.6" x2="380.2" y2="1191.9" stroke="#2e2e2e" stroke-width="3.1"/>
<line x1="310" y1="1240.1" x2="333.6" y2="1240.1" stroke="#2e2e2e" stroke-width="2.0"/>
<line x1="422.5" y1="1240.1" x2="483" y2="1240.1" stroke="#2e2e2e" stroke-width="2.0"/>
<rect x="333.55" y="1236.96" width="88.91" height="6.3" fill="#fb9a99" fill-opacity="0.5" stroke="#2e2e2e" stroke-width="1.95" stroke-linejoin="round"/>
<line x1="367.1" y1="1240.1" x2="387.4" y2="1240.1" stroke="#7e4d4c" stroke-width="4.6499999999999995"/>
<line x1="380.2" y1="1237" x2="380.2" y2="1243.3" stroke="#2e2e2e" stroke-width="3.1"/>
<line x1="300.3" y1="1290.8" x2="352.1" y2="1290.8" stroke="#2e2e2e" stroke-width="2.0"/>
<line x1="440.7" y1="1290.8" x2="571.7" y2="1290.8" stroke="#2e2e2e" stroke-width="2.0"/>
<rect x="352.07" y="1287.66" width="88.61" height="6.3" fill="#b2df8a" fill-opacity="0.5" stroke="#2e2e2e" stroke-width="1.95" stroke-linejoin="round"/>
<line x1="388.3" y1="1290.8" x2="422.3" y2="1290.8" stroke="#597045" stroke-width="4.6499999999999995"/>
<line x1="409.1" y1="1287.7" x2="409.1" y2="1294" stroke="#2e2e2e" stroke-width="3.1"/>
<line x1="317.9" y1="1342.1" x2="348.1" y2="1342.1" stroke="#2e2e2e" stroke-width="2.0"/>
<line x1="374.8" y1="1342.1" x2="378.9" y2="1342.1" stroke="#2e2e2e" stroke-width="2.0"/>
<rect x="348.13" y="1338.99" width="26.68" height="6.3" fill="#1f78b4" fill-opacity="0.5" stroke="#2e2e2e" stroke-width="1.95" stroke-linejoin="round"/>
<line x1="350.1" y1="1342.1" x2="366.2" y2="1342.1" stroke="#103c5a" stroke-width="4.6499999999999995"/>
<line x1="357.5" y1="1339" x2="357.5" y2="1345.3" stroke="#2e2e2e" stroke-width="3.1"/>
<line x1="319.4" y1="1393.4" x2="344.5" y2="1393.4" stroke="#2e2e2e" stroke-width="2.0"/>
<line x1="412.7" y1="1393.4" x2="464.8" y2="1393.4" stroke="#2e2e2e" stroke-width="2.0"/>
<rect x="344.48" y="1390.3" width="68.27" height="6.3" fill="#a6cee3" fill-opacity="0.5" stroke="#2e2e2e" stroke-width="1.95" stroke-linejoin="round"/>
<line x1="367.7" y1="1393.4" x2="385.3" y2="1393.4" stroke="#536772" stroke-width="4.6499999999999995"/>
<line x1="371.1" y1="1390.3" x2="371.1" y2="1396.6" stroke="#2e2e2e" stroke-width="3.1"/>
<line x1="337.6" y1="1444.5" x2="346.9" y2="1444.5" stroke="#2e2e2e" stroke-width="2.0"/>
<line x1="440.1" y1="1444.5" x2="465.4" y2="1444.5" stroke="#2e2e2e" stroke-width="2.0"/>
<rect x="346.91" y="1441.3" width="93.16" height="6.3" fill="#ccbe91" fill-opacity="0.5" stroke="#2e2e2e" stroke-width="1.95" stroke-linejoin="round"/>
<line x1="349.5" y1="1444.5" x2="399.6" y2="1444.5" stroke="#665f48" stroke-width="4.6499999999999995"/>
<line x1="365.1" y1="1441.3" x2="365.1" y2="1447.6" stroke="#2e2e2e" stroke-width="3.1"/>
<line x1="313" y1="1494.9" x2="366.6" y2="1494.9" stroke="#2e2e2e" stroke-width="2.0"/>
<line x1="452.2" y1="1494.9" x2="519.5" y2="1494.9" stroke="#2e2e2e" stroke-width="2.0"/>
<rect x="366.64" y="1491.73" width="85.57" height="6.3" fill="#1abc9c" fill-opacity="0.5" stroke="#2e2e2e" stroke-width="1.95" stroke-linejoin="round"/>
<line x1="378.3" y1="1494.9" x2="388.9" y2="1494.9" stroke="#0d5e4e" stroke-width="4.6499999999999995"/>
<line x1="384.8" y1="1491.7" x2="384.8" y2="1498" stroke="#2e2e2e" stroke-width="3.1"/>
<line x1="257.8" y1="1546.2" x2="329.3" y2="1546.2" stroke="#2e2e2e" stroke-width="2.0"/>
<line x1="403.6" y1="1546.2" x2="480.6" y2="1546.2" stroke="#2e2e2e" stroke-width="2.0"/>
<rect x="329.3" y="1543.03" width="74.34" height="6.3" fill="#e31a1c" fill-opacity="0.5" stroke="#2e2e2e" stroke-width="1.95" stroke-linejoin="round"/>
<line x1="361" y1="1546.2" x2="375.3" y2="1546.2" stroke="#720d0e" stroke-width="4.6499999999999995"/>
<line x1="363.5" y1="1543" x2="363.5" y2="1549.3" stroke="#2e2e2e" stroke-width="3.1"/>
<line x1="317.6" y1="1597.2" x2="343.3" y2="1597.2" stroke="#2e2e2e" stroke-width="2.0"/>
<line x1="430.1" y1="1597.2" x2="480.6" y2="1597.2" stroke="#2e2e2e" stroke-width="2.0"/>
<rect x="343.27" y="1594.03" width="86.79" height="6.3" fill="#2c3e50" fill-opacity="0.5" stroke="#2e2e2e" stroke-width="1.95" stroke-linejoin="round"/>
<line x1="369.8" y1="1597.2" x2="412.3" y2="1597.2" stroke="#161f28" stroke-width="4.6499999999999995"/>
<line x1="380.2" y1="1594" x2="380.2" y2="1600.3" stroke="#2e2e2e" stroke-width="3.1"/>
<line x1="310" y1="1648.2" x2="359.1" y2="1648.2" stroke="#2e2e2e" stroke-width="2.0"/>
<line x1="418.8" y1="1648.2" x2="490.9" y2="1648.2" stroke="#2e2e2e" stroke-width="2.0"/>
<rect x="359.05" y="1645.06" width="59.77" height="6.3" fill="#6a3d9a" fill-opacity="0.5" stroke="#2e2e2e" stroke-width="1.95" stroke-linejoin="round"/>
<line x1="375.3" y1="1648.2" x2="397.4" y2="1648.2" stroke="#351e4d" stroke-width="4.6499999999999995"/>
<line x1="383.3" y1="1645.1" x2="383.3" y2="1651.4" stroke="#2e2e2e" stroke-width="3.1"/>
<line x1="300.3" y1="1699.5" x2="352.4" y2="1699.5" stroke="#2e2e2e" stroke-width="2.0"/>
<line x1="427.3" y1="1699.5" x2="457.5" y2="1699.5" stroke="#2e2e2e" stroke-width="2.0"/>
<rect x="352.38" y="1696.37" width="74.95" height="6.3" fill="#cab2d6" fill-opacity="0.5" stroke="#2e2e2e" stroke-width="1.95" stroke-linejoin="round"/>
<line x1="374.4" y1="1699.5" x2="408.7" y2="1699.5" stroke="#65596b" stroke-width="4.6499999999999995"/>
<line x1="374.8" y1="1696.4" x2="374.8" y2="1702.7" stroke="#2e2e2e" stroke-width="3.1"/>
<line x1="257.8" y1="1750.5" x2="331.1" y2="1750.5" stroke="#2e2e2e" stroke-width="2.0"/>
<line x1="424" y1="1750.5" x2="490.9" y2="1750.5" stroke="#2e2e2e" stroke-width="2.0"/>
<rect x="331.12" y="1747.37" width="92.86" height="6.3" fill="#ff7f00" fill-opacity="0.5" stroke="#2e2e2e" stroke-width="1.95" stroke-linejoin="round"/>
<line x1="360.1" y1="1750.5" x2="385.9" y2="1750.5" stroke="#804000" stroke-width="4.6499999999999995"/>
<line x1="372.6" y1="1747.4" x2="372.6" y2="1753.7" stroke="#2e2e2e" stroke-width="3.1"/>
<line x1="270.5" y1="1801.3" x2="319" y2="1801.3" stroke="#2e2e2e" stroke-width="2.0"/>
<line x1="437.6" y1="1801.3" x2="545.9" y2="1801.3" stroke="#2e2e2e" stroke-width="2.0"/>
<rect x="318.98" y="1798.1" width="118.66" height="6.3" fill="#fdbf6f" fill-opacity="0.5" stroke="#2e2e2e" stroke-width="1.95" stroke-linejoin="round"/>
<line x1="358" y1="1801.3" x2="397.4" y2="1801.3" stroke="#7e6038" stroke-width="4.6499999999999995"/>
<line x1="374.8" y1="1798.1" x2="374.8" y2="1804.4" stroke="#2e2e2e" stroke-width="3.1"/>
<line x1="269" y1="1852.6" x2="340.8" y2="1852.6" stroke="#2e2e2e" stroke-width="2.0"/>
<line x1="427.9" y1="1852.6" x2="499.4" y2="1852.6" stroke="#2e2e2e" stroke-width="2.0"/>
<rect x="340.84" y="1849.41" width="87.09" height="6.3" fill="#fb9a99" fill-opacity="0.5" stroke="#2e2e2e" stroke-width="1.95" stroke-linejoin="round"/>
<line x1="365.3" y1="1852.6" x2="395.9" y2="1852.6" stroke="#7e4d4c" stroke-width="4.6499999999999995"/>
<line x1="376.6" y1="1849.4" x2="376.6" y2="1855.7" stroke="#2e2e2e" stroke-width="3.1"/>
<line x1="282.1" y1="1903.6" x2="321.1" y2="1903.6" stroke="#2e2e2e" stroke-width="2.0"/>
<line x1="431.6" y1="1903.6" x2="514" y2="1903.6" stroke="#2e2e2e" stroke-width="2.0"/>
<rect x="321.11" y="1900.41" width="110.46" height="6.3" fill="#b2df8a" fill-opacity="0.5" stroke="#2e2e2e" stroke-width="1.95" stroke-linejoin="round"/>
<line x1="350.1" y1="1903.6" x2="372.2" y2="1903.6" stroke="#597045" stroke-width="4.6499999999999995"/>
<line x1="359" y1="1900.4" x2="359" y2="1906.7" stroke="#2e2e2e" stroke-width="3.1"/>
<line x1="206.2" y1="1954.3" x2="328.1" y2="1954.3" stroke="#2e2e2e" stroke-width="2.0"/>
<line x1="418.8" y1="1954.3" x2="490.9" y2="1954.3" stroke="#2e2e2e" stroke-width="2.0"/>
<rect x="328.09" y="1951.14" width="90.73" height="6.3" fill="#1f78b4" fill-opacity="0.5" stroke="#2e2e2e" stroke-width="1.95" stroke-linejoin="round"/>
<line x1="355.5" y1="1954.3" x2="383.5" y2="1954.3" stroke="#103c5a" stroke-width="4.6499999999999995"/>
<line x1="374.8" y1="1951.1" x2="374.8" y2="1957.4" stroke="#2e2e2e" stroke-width="3.1"/>
<line x1="263.6" y1="2005.6" x2="351.5" y2="2005.6" stroke="#2e2e2e" stroke-width="2.0"/>
<line x1="436.4" y1="2005.6" x2="537.1" y2="2005.6" stroke="#2e2e2e" stroke-width="2.0"/>
<rect x="351.46" y="2002.44" width="84.96" height="6.3" fill="#a6cee3" fill-opacity="0.5" stroke="#2e2e2e" stroke-width="1.95" stroke-linejoin="round"/>
<line x1="367.7" y1="2005.6" x2="415.7" y2="2005.6" stroke="#536772" stroke-width="4.6499999999999995"/>
<line x1="381.7" y1="2002.4" x2="381.7" y2="2008.7" stroke="#2e2e2e" stroke-width="3.1"/>
<line x1="285.7" y1="2056.6" x2="325.7" y2="2056.6" stroke="#2e2e2e" stroke-width="2.0"/>
<line x1="419.4" y1="2056.6" x2="549.8" y2="2056.6" stroke="#2e2e2e" stroke-width="2.0"/>
<rect x="325.66" y="2053.44" width="93.77" height="6.3" fill="#ccbe91" fill-opacity="0.5" stroke="#2e2e2e" stroke-width="1.95" stroke-linejoin="round"/>
<line x1="355.5" y1="2056.6" x2="389.5" y2="2056.6" stroke="#665f48" stroke-width="4.6499999999999995"/>
<line x1="370.2" y1="2053.4" x2="370.2" y2="2059.7" stroke="#2e2e2e" stroke-width="3.1"/>
<line x1="260.8" y1="2107.6" x2="353.9" y2="2107.6" stroke="#2e2e2e" stroke-width="2.0"/>
<line x1="419.4" y1="2107.6" x2="506.7" y2="2107.6" stroke="#2e2e2e" stroke-width="2.0"/>
<rect x="353.89" y="2104.48" width="65.53" height="6.3" fill="#1abc9c" fill-opacity="0.5" stroke="#2e2e2e" stroke-width="1.95" stroke-linejoin="round"/>
<line x1="369.8" y1="2107.6" x2="401.1" y2="2107.6" stroke="#0d5e4e" stroke-width="4.6499999999999995"/>
<line x1="385.7" y1="2104.5" x2="385.7" y2="2110.8" stroke="#2e2e2e" stroke-width="3.1"/>
<line x1="254.1" y1="2158.9" x2="333.6" y2="2158.9" stroke="#2e2e2e" stroke-width="2.0"/>
<line x1="411.5" y1="2158.9" x2="461.2" y2="2158.9" stroke="#2e2e2e" stroke-width="2.0"/>
<rect x="333.55" y="2155.78" width="77.98" height="6.3" fill="#e31a1c" fill-opacity="0.5" stroke="#2e2e2e" stroke-width="1.95" stroke-linejoin="round"/>
<line x1="361" y1="2158.9" x2="397.4" y2="2158.9" stroke="#720d0e" stroke-width="4.6499999999999995"/>
<line x1="383.9" y1="2155.8" x2="383.9" y2="2162.1" stroke="#2e2e2e" stroke-width="3.1"/>
<line x1="272.1" y1="2209.9" x2="337.2" y2="2209.9" stroke="#2e2e2e" stroke-width="2.0"/>
<line x1="453.4" y1="2209.9" x2="621.5" y2="2209.9" stroke="#2e2e2e" stroke-width="2.0"/>
<rect x="337.2" y="2206.78" width="116.23" height="6.3" fill="#2c3e50" fill-opacity="0.5" stroke="#2e2e2e" stroke-width="1.95" stroke-linejoin="round"/>
<line x1="363.7" y1="2209.9" x2="395.9" y2="2209.9" stroke="#161f28" stroke-width="4.6499999999999995"/>
<line x1="380.2" y1="2206.8" x2="380.2" y2="2213.1" stroke="#2e2e2e" stroke-width="3.1"/>
<g shape-rendering="crispEdges"><rect x="143" y="1026" width="707" height="1" fill="#e2e5e8"/><rect x="143" y="2265" width="707" height="1" fill="#929aa6"/><rect x="143" y="1026" width="1" height="1240" fill="#929aa6"/><rect x="849" y="1026" width="1" height="1240" fill="#7e8896"/></g>
<text x="285.5" y="2286.4" font-size="15.4" text-anchor="middle" fill="#34495e">20</text>
<text x="453.5" y="2286.4" font-size="15.4" text-anchor="middle" fill="#34495e">40</text>
<text x="621.5" y="2286.4" font-size="15.4" text-anchor="middle" fill="#34495e">60</text>
<text x="789.5" y="2286.4" font-size="15.4" text-anchor="middle" fill="#34495e">80</text>
<text x="133.4" y="1092.5" font-size="15.4" text-anchor="end" fill="#34495e">X</text>
<text x="133.4" y="1143.2" font-size="15.4" text-anchor="end" fill="#34495e">22</text>
<text x="133.4" y="1194.2" font-size="15.4" text-anchor="end" fill="#34495e">21</text>
<text x="133.4" y="1245.5" font-size="15.4" text-anchor="end" fill="#34495e">20</text>
<text x="133.4" y="1296.2" font-size="15.4" text-anchor="end" fill="#34495e">19</text>
<text x="133.4" y="1347.5" font-size="15.4" text-anchor="end" fill="#34495e">18</text>
<text x="133.4" y="1398.8" font-size="15.4" text-anchor="end" fill="#34495e">17</text>
<text x="133.4" y="1449.9" font-size="15.4" text-anchor="end" fill="#34495e">16</text>
<text x="133.4" y="1500.3" font-size="15.4" text-anchor="end" fill="#34495e">15</text>
<text x="133.4" y="1551.6" font-size="15.4" text-anchor="end" fill="#34495e">14</text>
<text x="133.4" y="1602.6" font-size="15.4" text-anchor="end" fill="#34495e">13</text>
<text x="133.4" y="1653.6" font-size="15.4" text-anchor="end" fill="#34495e">12</text>
<text x="133.4" y="1704.9" font-size="15.4" text-anchor="end" fill="#34495e">11</text>
<text x="133.4" y="1755.9" font-size="15.4" text-anchor="end" fill="#34495e">10</text>
<text x="133.4" y="1806.7" font-size="15.4" text-anchor="end" fill="#34495e">9</text>
<text x="133.4" y="1858" font-size="15.4" text-anchor="end" fill="#34495e">8</text>
<text x="133.4" y="1909" font-size="15.4" text-anchor="end" fill="#34495e">7</text>
<text x="133.4" y="1959.7" font-size="15.4" text-anchor="end" fill="#34495e">6</text>
<text x="133.4" y="2011" font-size="15.4" text-anchor="end" fill="#34495e">5</text>
<text x="133.4" y="2062" font-size="15.4" text-anchor="end" fill="#34495e">4</text>
<text x="133.4" y="2113" font-size="15.4" text-anchor="end" fill="#34495e">3</text>
<text x="133.4" y="2164.3" font-size="15.4" text-anchor="end" fill="#34495e">2</text>
<text x="133.4" y="2215.3" font-size="15.4" text-anchor="end" fill="#34495e">1</text>
<text x="107.4" y="1639.8" font-size="21.7" text-anchor="middle" fill="#231815" transform="rotate(-90 107.4 1639.8)">Chromosome</text>
<text x="504.5" y="2309.1" font-size="21.7" text-anchor="middle" fill="#231815">Locus-specific ADO, %</text>
<g stroke="#d5d5d5" stroke-width="1" fill="none">
<path d="M1123.3 1772.5V2361.3"/>
<path d="M1266.3 1772.5V2361.3"/>
<path d="M1409.4 1772.5V2361.3"/>
<path d="M1552.4 1772.5V2361.3"/>
<path d="M1695.5 1772.5V2361.3"/>
<path d="M1038.6 1935.9H1749"/>
<path d="M1038.6 2072.4H1749"/>
<path d="M1038.6 2208.9H1749"/>
</g>
<path d="M1075.5 1911.5L1075.5 1889.3L1077 1888.8L1078.5 1888.2L1080 1887.7L1081.5 1887.1L1083 1886.6L1084.5 1886.1L1086 1885.6L1087.5 1885.1L1089 1884.6L1090.5 1884.1L1092 1883.7L1093.5 1883.2L1095 1882.8L1096.6 1882.3L1098.1 1881.9L1099.6 1881.4L1101.1 1881L1102.6 1880.6L1104.1 1880.1L1105.6 1879.7L1107.1 1879.2L1108.6 1878.7L1110.1 1878.3L1111.6 1877.8L1113.1 1877.4L1114.6 1876.9L1116.1 1876.4L1117.6 1875.9L1119.1 1875.4L1120.6 1874.9L1122.1 1874.3L1123.6 1873.8L1125.1 1873.2L1126.6 1872.5L1128.1 1871.8L1129.6 1871L1131.1 1870.2L1132.6 1869.4L1134.1 1868.5L1135.6 1867.5L1137.1 1866.6L1138.6 1865.6L1140.1 1864.6L1141.6 1863.6L1143.1 1862.7L1144.6 1861.7L1146.1 1860.7L1147.6 1859.7L1149.1 1858.6L1150.6 1857.6L1152.1 1856.6L1153.6 1855.6L1155.1 1854.5L1156.6 1853.5L1158.1 1852.5L1159.6 1851.6L1161.2 1850.6L1162.7 1849.7L1164.2 1848.8L1165.7 1847.9L1167.2 1847L1168.7 1846.1L1170.2 1845.2L1171.7 1844.4L1173.2 1843.5L1174.7 1842.7L1176.2 1841.8L1177.7 1840.9L1179.2 1840.1L1180.7 1839.2L1182.2 1838.4L1183.7 1837.7L1185.2 1836.9L1186.7 1836.2L1188.2 1835.4L1189.7 1834.7L1191.2 1833.9L1192.7 1833.2L1194.2 1832.3L1195.7 1831.5L1197.2 1830.5L1198.7 1829.5L1200.2 1828.5L1201.7 1827.5L1203.2 1826.4L1204.7 1825.4L1206.2 1824.3L1207.7 1823.2L1209.2 1822.1L1210.7 1821L1212.2 1819.9L1213.7 1818.8L1215.2 1817.7L1216.7 1816.6L1218.2 1815.5L1219.7 1814.4L1221.2 1813.2L1222.7 1812.1L1224.2 1811L1225.8 1809.9L1227.3 1808.8L1228.8 1807.6L1230.3 1806.5L1231.8 1805.5L1233.3 1804.5L1234.8 1803.5L1236.3 1802.7L1237.8 1802L1239.3 1801.3L1240.8 1800.7L1242.3 1800.1L1243.8 1799.6L1245.3 1799.2L1246.8 1798.8L1248.3 1798.4L1249.8 1798.1L1251.3 1797.9L1252.8 1797.7L1254.3 1797.5L1255.8 1797.3L1257.3 1797.2L1258.8 1797L1260.3 1797L1261.8 1796.9L1263.3 1797L1264.8 1797L1266.3 1797.2L1267.8 1797.3L1269.3 1797.6L1270.8 1797.9L1272.3 1798.4L1273.8 1798.9L1275.3 1799.4L1276.8 1800L1278.3 1800.6L1279.8 1801.2L1281.3 1801.9L1282.8 1802.6L1284.3 1803.3L1285.8 1804L1287.3 1804.7L1288.8 1805.5L1290.3 1806.2L1291.9 1807L1293.4 1807.8L1294.9 1808.5L1296.4 1809.3L1297.9 1810.1L1299.4 1810.8L1300.9 1811.5L1302.4 1812.2L1303.9 1812.9L1305.4 1813.6L1306.9 1814.3L1308.4 1814.9L1309.9 1815.6L1311.4 1816.3L1312.9 1817L1314.4 1817.7L1315.9 1818.4L1317.4 1819.1L1318.9 1819.8L1320.4 1820.5L1321.9 1821.2L1323.4 1821.9L1324.9 1822.5L1326.4 1823.2L1327.9 1823.9L1329.4 1824.6L1330.9 1825.3L1332.4 1826L1333.9 1826.8L1335.4 1827.6L1336.9 1828.5L1338.4 1829.5L1339.9 1830.5L1341.4 1831.5L1342.9 1832.6L1344.4 1833.7L1345.9 1834.8L1347.4 1835.9L1348.9 1837L1350.4 1838.2L1351.9 1839.3L1353.4 1840.5L1354.9 1841.7L1356.5 1842.9L1358 1844.2L1359.5 1845.4L1361 1846.7L1362.5 1848L1364 1849.3L1365.5 1850.7L1367 1852L1368.5 1853.4L1370 1854.8L1371.5 1856.2L1373 1857.6L1374.5 1858.9L1376 1860.2L1377.5 1861.5L1379 1862.7L1380.5 1864L1382 1865.2L1383.5 1866.3L1385 1867.5L1386.5 1868.6L1388 1869.7L1389.5 1870.7L1391 1871.8L1392.5 1872.9L1394 1873.9L1395.5 1874.9L1397 1875.9L1398.5 1876.8L1400 1877.7L1401.5 1878.6L1403 1879.4L1404.5 1880.3L1406 1881.1L1407.5 1881.8L1409 1882.5L1410.5 1883.2L1412 1883.9L1413.5 1884.6L1415 1885.2L1416.5 1885.8L1418 1886.3L1419.5 1886.8L1421.1 1887.3L1422.6 1887.8L1424.1 1888.2L1425.6 1888.7L1427.1 1889.1L1428.6 1889.5L1430.1 1889.9L1431.6 1890.3L1433.1 1890.7L1434.6 1891L1436.1 1891.4L1437.6 1891.7L1439.1 1892L1440.6 1892.3L1442.1 1892.6L1443.6 1893L1445.1 1893.2L1446.6 1893.5L1448.1 1893.8L1449.6 1894.1L1451.1 1894.3L1452.6 1894.6L1454.1 1894.8L1455.6 1895.1L1455.6 1911.5Z" fill="#1abc9c"/>
<path d="M1148.1 2047.8L1148.1 2028L1149.6 2027.5L1151.1 2027L1152.6 2026.5L1154.1 2025.9L1155.6 2025.3L1157.1 2024.6L1158.6 2023.9L1160.1 2023.2L1161.6 2022.5L1163.1 2021.7L1164.6 2020.9L1166.1 2020.1L1167.6 2019.2L1169.1 2018.3L1170.6 2017.3L1172.1 2016.3L1173.6 2015.2L1175.2 2014.1L1176.7 2013L1178.2 2011.8L1179.7 2010.6L1181.2 2009.3L1182.7 2008L1184.2 2006.7L1185.7 2005.3L1187.2 2003.9L1188.7 2002.4L1190.2 2001L1191.7 1999.5L1193.2 1998L1194.7 1996.4L1196.2 1994.9L1197.7 1993.3L1199.2 1991.7L1200.7 1990L1202.2 1988.3L1203.7 1986.5L1205.2 1984.8L1206.7 1983.1L1208.2 1981.4L1209.8 1979.7L1211.3 1978.2L1212.8 1976.6L1214.3 1975.2L1215.8 1973.7L1217.3 1972.3L1218.8 1971L1220.3 1969.6L1221.8 1968.3L1223.3 1966.9L1224.8 1965.6L1226.3 1964.4L1227.8 1963.2L1229.3 1962.1L1230.8 1961L1232.3 1960L1233.8 1959.1L1235.3 1958.2L1236.8 1957.5L1238.3 1956.8L1239.8 1956.3L1241.3 1955.8L1242.8 1955.4L1244.3 1955L1245.9 1954.7L1247.4 1954.4L1248.9 1954.2L1250.4 1954L1251.9 1953.9L1253.4 1953.9L1254.9 1953.9L1256.4 1953.9L1257.9 1954L1259.4 1954.2L1260.9 1954.4L1262.4 1954.7L1263.9 1955.1L1265.4 1955.6L1266.9 1956.3L1268.4 1957.1L1269.9 1958L1271.4 1959L1272.9 1960L1274.4 1961.1L1275.9 1962.3L1277.4 1963.6L1278.9 1965L1280.5 1966.4L1282 1967.9L1283.5 1969.4L1285 1970.9L1286.5 1972.5L1288 1974L1289.5 1975.5L1291 1977L1292.5 1978.4L1294 1979.8L1295.5 1981.2L1297 1982.5L1298.5 1983.9L1300 1985.2L1301.5 1986.4L1303 1987.7L1304.5 1988.9L1306 1990L1307.5 1991L1309 1991.9L1310.5 1992.7L1312 1993.5L1313.5 1994.2L1315 1994.8L1316.6 1995.4L1318.1 1995.8L1319.6 1996.1L1321.1 1996.4L1322.6 1996.5L1324.1 1996.5L1325.6 1996.4L1327.1 1996.2L1328.6 1995.8L1330.1 1995.3L1331.6 1994.6L1333.1 1993.7L1334.6 1992.9L1336.1 1992L1337.6 1991.1L1339.1 1990.1L1340.6 1989.1L1342.1 1988.1L1343.6 1987L1345.1 1985.9L1346.6 1984.8L1348.1 1983.6L1349.6 1982.5L1351.2 1981.3L1352.7 1980.2L1354.2 1979.1L1355.7 1978L1357.2 1976.9L1358.7 1975.9L1360.2 1974.9L1361.7 1973.9L1363.2 1973L1364.7 1972.1L1366.2 1971.3L1367.7 1970.4L1369.2 1969.7L1370.7 1969.1L1372.2 1968.6L1373.7 1968.1L1375.2 1967.7L1376.7 1967.4L1378.2 1967.1L1379.7 1966.8L1381.2 1966.7L1382.7 1966.7L1384.2 1966.7L1385.7 1966.8L1387.3 1967.1L1388.8 1967.5L1390.3 1968L1391.8 1968.7L1393.3 1969.4L1394.8 1970.1L1396.3 1971L1397.8 1971.8L1399.3 1972.8L1400.8 1973.8L1402.3 1974.9L1403.8 1976L1405.3 1977.2L1406.8 1978.5L1408.3 1979.9L1409.8 1981.3L1411.3 1982.8L1412.8 1984.3L1414.3 1986L1415.8 1987.7L1415.8 2047.8Z" fill="#e31a1c"/>
<path d="M1099.4 2184.4L1099.4 2161.6L1100.9 2160.9L1102.4 2160.3L1103.9 2159.6L1105.4 2158.9L1106.9 2158.2L1108.4 2157.5L1109.9 2156.6L1111.4 2155.8L1112.9 2154.8L1114.4 2153.9L1115.9 2152.9L1117.4 2151.9L1118.9 2150.9L1120.4 2149.9L1121.9 2148.8L1123.4 2147.8L1124.9 2146.8L1126.4 2145.8L1127.9 2144.7L1129.4 2143.7L1130.9 2142.7L1132.4 2141.6L1134 2140.6L1135.5 2139.5L1137 2138.5L1138.5 2137.4L1140 2136.3L1141.5 2135.3L1143 2134.2L1144.5 2133.2L1146 2132.1L1147.5 2131.1L1149 2130.1L1150.5 2129.1L1152 2128.1L1153.5 2127.2L1155 2126.3L1156.5 2125.4L1158 2124.5L1159.5 2123.6L1161 2122.8L1162.5 2121.9L1164 2121.1L1165.5 2120.3L1167 2119.5L1168.5 2118.8L1170 2118L1171.5 2117.3L1173 2116.6L1174.5 2116L1176 2115.3L1177.5 2114.7L1179 2114.1L1180.5 2113.5L1182 2112.9L1183.5 2112.4L1185 2111.9L1186.5 2111.4L1188 2110.9L1189.5 2110.4L1191 2109.9L1192.5 2109.5L1194 2109.1L1195.5 2108.7L1197 2108.3L1198.5 2107.9L1200 2107.6L1201.5 2107.2L1203 2106.9L1204.5 2106.6L1206 2106.3L1207.5 2106L1209 2105.7L1210.6 2105.5L1212.1 2105.3L1213.6 2105.1L1215.1 2104.9L1216.6 2104.7L1218.1 2104.6L1219.6 2104.5L1221.1 2104.4L1222.6 2104.4L1224.1 2104.3L1225.6 2104.3L1227.1 2104.3L1228.6 2104.3L1230.1 2104.3L1231.6 2104.3L1233.1 2104.4L1234.6 2104.4L1236.1 2104.5L1237.6 2104.6L1239.1 2104.7L1240.6 2104.9L1242.1 2105.1L1243.6 2105.4L1245.1 2105.7L1246.6 2106L1248.1 2106.3L1249.6 2106.6L1251.1 2107L1252.6 2107.4L1254.1 2107.8L1255.6 2108.2L1257.1 2108.7L1258.6 2109.2L1260.1 2109.7L1261.6 2110.2L1263.1 2110.7L1264.6 2111.2L1266.1 2111.7L1267.6 2112.2L1269.1 2112.7L1270.6 2113.2L1272.1 2113.8L1273.6 2114.3L1275.1 2114.9L1276.6 2115.4L1278.1 2116L1279.6 2116.6L1281.1 2117.2L1282.6 2117.8L1284.1 2118.4L1285.6 2119L1287.2 2119.7L1288.7 2120.3L1290.2 2120.9L1291.7 2121.5L1293.2 2122.1L1294.7 2122.7L1296.2 2123.3L1297.7 2123.9L1299.2 2124.4L1300.7 2125L1302.2 2125.5L1303.7 2126.1L1305.2 2126.6L1306.7 2127.1L1308.2 2127.7L1309.7 2128.2L1311.2 2128.7L1312.7 2129.2L1314.2 2129.7L1315.7 2130.1L1317.2 2130.6L1318.7 2131.1L1320.2 2131.5L1321.7 2132L1323.2 2132.4L1324.7 2132.9L1326.2 2133.3L1327.7 2133.7L1329.2 2134.1L1330.7 2134.6L1332.2 2134.9L1333.7 2135.3L1335.2 2135.7L1336.7 2136L1338.2 2136.4L1339.7 2136.7L1341.2 2137L1342.7 2137.3L1344.2 2137.6L1345.7 2137.9L1347.2 2138.2L1348.7 2138.4L1350.2 2138.7L1351.7 2139L1353.2 2139.3L1354.7 2139.6L1356.2 2139.8L1357.7 2140.1L1359.2 2140.4L1360.7 2140.6L1362.2 2140.9L1363.8 2141.2L1365.3 2141.4L1366.8 2141.7L1368.3 2141.9L1369.8 2142.2L1371.3 2142.5L1372.8 2142.7L1374.3 2143L1375.8 2143.3L1377.3 2143.5L1378.8 2143.8L1380.3 2144L1381.8 2144.3L1383.3 2144.6L1384.8 2144.8L1386.3 2145L1387.8 2145.3L1389.3 2145.5L1390.8 2145.7L1392.3 2146L1393.8 2146.2L1395.3 2146.4L1396.8 2146.6L1398.3 2146.8L1399.8 2147L1401.3 2147.2L1402.8 2147.4L1404.3 2147.6L1405.8 2147.8L1407.3 2148L1408.8 2148.2L1410.3 2148.4L1411.8 2148.6L1413.3 2148.8L1414.8 2149L1416.3 2149.2L1417.8 2149.4L1419.3 2149.6L1420.8 2149.8L1422.3 2150L1423.8 2150.2L1425.3 2150.4L1426.8 2150.5L1428.3 2150.7L1429.8 2150.9L1431.3 2151.1L1432.8 2151.3L1434.3 2151.5L1435.8 2151.7L1437.3 2151.9L1438.8 2152.1L1440.4 2152.3L1441.9 2152.5L1443.4 2152.7L1444.9 2152.9L1446.4 2153.1L1447.9 2153.2L1449.4 2153.4L1450.9 2153.6L1452.4 2153.8L1453.9 2154L1455.4 2154.1L1456.9 2154.3L1458.4 2154.5L1459.9 2154.6L1461.4 2154.8L1462.9 2155L1464.4 2155.1L1465.9 2155.3L1467.4 2155.5L1468.9 2155.6L1470.4 2155.8L1471.9 2156L1473.4 2156.1L1474.9 2156.3L1476.4 2156.5L1477.9 2156.7L1479.4 2156.9L1480.9 2157.1L1482.4 2157.2L1483.9 2157.4L1485.4 2157.6L1486.9 2157.8L1488.4 2158L1489.9 2158.2L1491.4 2158.4L1492.9 2158.6L1494.4 2158.7L1495.9 2158.9L1497.4 2159.1L1498.9 2159.3L1500.4 2159.5L1501.9 2159.7L1503.4 2159.9L1504.9 2160.1L1506.4 2160.2L1507.9 2160.4L1509.4 2160.6L1510.9 2160.8L1512.4 2161L1513.9 2161.2L1515.4 2161.4L1517 2161.6L1518.5 2161.7L1520 2161.9L1521.5 2162.1L1523 2162.3L1524.5 2162.5L1526 2162.7L1527.5 2162.9L1529 2163.1L1530.5 2163.2L1532 2163.4L1533.5 2163.6L1535 2163.8L1536.5 2164L1538 2164.2L1539.5 2164.4L1541 2164.6L1542.5 2164.7L1544 2164.9L1545.5 2165.1L1547 2165.3L1548.5 2165.5L1550 2165.7L1551.5 2165.9L1553 2166L1554.5 2166.2L1556 2166.4L1557.5 2166.6L1559 2166.7L1560.5 2166.9L1562 2167.1L1563.5 2167.2L1565 2167.4L1566.5 2167.6L1568 2167.7L1569.5 2167.9L1571 2168.1L1572.5 2168.2L1574 2168.4L1575.5 2168.6L1577 2168.8L1578.5 2168.9L1580 2169.1L1581.5 2169.3L1583 2169.4L1584.5 2169.6L1586 2169.8L1587.5 2170L1589 2170.2L1590.5 2170.3L1592 2170.5L1593.6 2170.7L1595.1 2170.9L1596.6 2171L1598.1 2171.2L1599.6 2171.4L1601.1 2171.6L1602.6 2171.7L1604.1 2171.9L1605.6 2172.1L1607.1 2172.2L1608.6 2172.3L1610.1 2172.5L1611.6 2172.6L1613.1 2172.7L1614.6 2172.8L1616.1 2172.8L1617.6 2172.9L1619.1 2173L1620.6 2173L1622.1 2173.1L1623.6 2173.1L1625.1 2173.2L1626.6 2173.2L1628.1 2173.3L1629.6 2173.3L1631.1 2173.3L1632.6 2173.4L1634.1 2173.4L1635.6 2173.4L1637.1 2173.5L1638.6 2173.5L1640.1 2173.5L1641.6 2173.5L1643.1 2173.5L1644.6 2173.4L1646.1 2173.4L1647.6 2173.4L1649.1 2173.3L1650.6 2173.2L1652.1 2173.1L1653.6 2173L1655.1 2173L1656.6 2172.9L1658.1 2172.8L1659.6 2172.7L1661.1 2172.6L1662.6 2172.5L1664.1 2172.4L1665.6 2172.3L1667.1 2172.2L1668.6 2172.1L1670.2 2172L1671.7 2172L1673.2 2171.9L1674.7 2171.8L1676.2 2171.7L1677.7 2171.6L1679.2 2171.5L1680.7 2171.4L1682.2 2171.3L1683.7 2171.2L1685.2 2171.1L1686.7 2171.1L1688.2 2171L1689.7 2170.9L1691.2 2170.8L1692.7 2170.7L1694.2 2170.6L1695.7 2170.5L1697.2 2170.5L1698.7 2170.5L1700.2 2170.5L1701.7 2170.5L1703.2 2170.5L1704.7 2170.6L1706.2 2170.7L1707.7 2170.7L1709.2 2170.8L1710.7 2171L1712.2 2171.1L1713.7 2171.2L1715.2 2171.3L1716.7 2171.5L1716.7 2184.4Z" fill="#2c3e50"/>
<g fill="#a3a3a3"><circle cx="1075.5" cy="1952.1" r="3.95"/><circle cx="1113.8" cy="1952.1" r="3.95"/><circle cx="1177.5" cy="1952.1" r="3.95"/><circle cx="1186.9" cy="1952.1" r="3.95"/><circle cx="1186.9" cy="1960" r="3.95"/><circle cx="1224.3" cy="1952.1" r="3.95"/><circle cx="1248" cy="1952.1" r="3.95"/><circle cx="1248" cy="1960" r="3.95"/><circle cx="1254.9" cy="1952.1" r="3.95"/><circle cx="1254.9" cy="1960" r="3.95"/><circle cx="1254.9" cy="1967.9" r="3.95"/><circle cx="1274.7" cy="1952.1" r="3.95"/><circle cx="1274.7" cy="1960" r="3.95"/><circle cx="1313.5" cy="1952.1" r="3.95"/><circle cx="1313.5" cy="1960" r="3.95"/><circle cx="1328.4" cy="1952.1" r="3.95"/><circle cx="1337.5" cy="1952.1" r="3.95"/><circle cx="1337.5" cy="1960" r="3.95"/><circle cx="1377" cy="1952.1" r="3.95"/><circle cx="1384.9" cy="1952.1" r="3.95"/><circle cx="1455.6" cy="1952.1" r="3.95"/><circle cx="1155.7" cy="1951" r="9.1"/></g>
<g fill="#1abc9c"><circle cx="1075.5" cy="1952.1" r="1.9"/><circle cx="1113.8" cy="1952.1" r="1.9"/><circle cx="1177.5" cy="1952.1" r="1.9"/><circle cx="1186.9" cy="1952.1" r="1.9"/><circle cx="1186.9" cy="1960" r="1.9"/><circle cx="1224.3" cy="1952.1" r="1.9"/><circle cx="1248" cy="1952.1" r="1.9"/><circle cx="1248" cy="1960" r="1.9"/><circle cx="1254.9" cy="1952.1" r="1.9"/><circle cx="1254.9" cy="1960" r="1.9"/><circle cx="1254.9" cy="1967.9" r="1.9"/><circle cx="1274.7" cy="1952.1" r="1.9"/><circle cx="1274.7" cy="1960" r="1.9"/><circle cx="1313.5" cy="1952.1" r="1.9"/><circle cx="1313.5" cy="1960" r="1.9"/><circle cx="1328.4" cy="1952.1" r="1.9"/><circle cx="1337.5" cy="1952.1" r="1.9"/><circle cx="1337.5" cy="1960" r="1.9"/><circle cx="1377" cy="1952.1" r="1.9"/><circle cx="1384.9" cy="1952.1" r="1.9"/><circle cx="1455.6" cy="1952.1" r="1.9"/><circle cx="1155.7" cy="1951" r="4.5"/></g>
<g fill="#a3a3a3"><circle cx="1212.4" cy="2088.8" r="3.95"/><circle cx="1212.4" cy="2096.4" r="3.95"/><circle cx="1227" cy="2088.8" r="3.95"/><circle cx="1235.8" cy="2088.8" r="3.95"/><circle cx="1259.5" cy="2088.8" r="3.95"/><circle cx="1272.2" cy="2088.8" r="3.95"/><circle cx="1272.2" cy="2096.4" r="3.95"/><circle cx="1272.2" cy="2104" r="3.95"/><circle cx="1292" cy="2088.8" r="3.95"/><circle cx="1362.7" cy="2088.8" r="3.95"/><circle cx="1362.7" cy="2096.4" r="3.95"/><circle cx="1362.7" cy="2104" r="3.95"/><circle cx="1373.3" cy="2088.8" r="3.95"/><circle cx="1405.8" cy="2088.8" r="3.95"/><circle cx="1405.8" cy="2096.4" r="3.95"/><circle cx="1415.8" cy="2088.8" r="3.95"/><circle cx="1151.7" cy="2087.8" r="9.1"/></g>
<g fill="#e31a1c"><circle cx="1212.4" cy="2088.8" r="1.9"/><circle cx="1212.4" cy="2096.4" r="1.9"/><circle cx="1227" cy="2088.8" r="1.9"/><circle cx="1235.8" cy="2088.8" r="1.9"/><circle cx="1259.5" cy="2088.8" r="1.9"/><circle cx="1272.2" cy="2088.8" r="1.9"/><circle cx="1272.2" cy="2096.4" r="1.9"/><circle cx="1272.2" cy="2104" r="1.9"/><circle cx="1292" cy="2088.8" r="1.9"/><circle cx="1362.7" cy="2088.8" r="1.9"/><circle cx="1362.7" cy="2096.4" r="1.9"/><circle cx="1362.7" cy="2104" r="1.9"/><circle cx="1373.3" cy="2088.8" r="1.9"/><circle cx="1405.8" cy="2088.8" r="1.9"/><circle cx="1405.8" cy="2096.4" r="1.9"/><circle cx="1415.8" cy="2088.8" r="1.9"/><circle cx="1151.7" cy="2087.8" r="4.5"/></g>
<g fill="#a3a3a3"><circle cx="1099.4" cy="2224.8" r="3.95"/><circle cx="1161" cy="2224.8" r="3.95"/><circle cx="1161" cy="2232.6" r="3.95"/><circle cx="1176.5" cy="2224.8" r="3.95"/><circle cx="1176.5" cy="2232.6" r="3.95"/><circle cx="1202.3" cy="2224.8" r="3.95"/><circle cx="1202.3" cy="2232.6" r="3.95"/><circle cx="1210" cy="2224.8" r="3.95"/><circle cx="1222.1" cy="2224.8" r="3.95"/><circle cx="1222.1" cy="2232.6" r="3.95"/><circle cx="1237.2" cy="2224.8" r="3.95"/><circle cx="1256.5" cy="2224.8" r="3.95"/><circle cx="1256.5" cy="2232.6" r="3.95"/><circle cx="1282.4" cy="2224.8" r="3.95"/><circle cx="1301.7" cy="2224.8" r="3.95"/><circle cx="1301.7" cy="2232.6" r="3.95"/><circle cx="1313.8" cy="2224.8" r="3.95"/><circle cx="1363.7" cy="2224.8" r="3.95"/><circle cx="1375.8" cy="2224.8" r="3.95"/><circle cx="1375.8" cy="2232.6" r="3.95"/><circle cx="1408.9" cy="2224.8" r="3.95"/><circle cx="1449.8" cy="2224.8" r="3.95"/><circle cx="1462.7" cy="2224.8" r="3.95"/><circle cx="1501.9" cy="2224.8" r="3.95"/><circle cx="1532.9" cy="2224.8" r="3.95"/><circle cx="1584.6" cy="2224.8" r="3.95"/><circle cx="1694.3" cy="2224.8" r="3.95"/><circle cx="1716.7" cy="2224.8" r="3.95"/><circle cx="1272.5" cy="2224.8" r="9.1"/></g>
<g fill="#2c3e50"><circle cx="1099.4" cy="2224.8" r="1.9"/><circle cx="1161" cy="2224.8" r="1.9"/><circle cx="1161" cy="2232.6" r="1.9"/><circle cx="1176.5" cy="2224.8" r="1.9"/><circle cx="1176.5" cy="2232.6" r="1.9"/><circle cx="1202.3" cy="2224.8" r="1.9"/><circle cx="1202.3" cy="2232.6" r="1.9"/><circle cx="1210" cy="2224.8" r="1.9"/><circle cx="1222.1" cy="2224.8" r="1.9"/><circle cx="1222.1" cy="2232.6" r="1.9"/><circle cx="1237.2" cy="2224.8" r="1.9"/><circle cx="1256.5" cy="2224.8" r="1.9"/><circle cx="1256.5" cy="2232.6" r="1.9"/><circle cx="1282.4" cy="2224.8" r="1.9"/><circle cx="1301.7" cy="2224.8" r="1.9"/><circle cx="1301.7" cy="2232.6" r="1.9"/><circle cx="1313.8" cy="2224.8" r="1.9"/><circle cx="1363.7" cy="2224.8" r="1.9"/><circle cx="1375.8" cy="2224.8" r="1.9"/><circle cx="1375.8" cy="2232.6" r="1.9"/><circle cx="1408.9" cy="2224.8" r="1.9"/><circle cx="1449.8" cy="2224.8" r="1.9"/><circle cx="1462.7" cy="2224.8" r="1.9"/><circle cx="1501.9" cy="2224.8" r="1.9"/><circle cx="1532.9" cy="2224.8" r="1.9"/><circle cx="1584.6" cy="2224.8" r="1.9"/><circle cx="1694.3" cy="2224.8" r="1.9"/><circle cx="1716.7" cy="2224.8" r="1.9"/><circle cx="1272.5" cy="2224.8" r="4.5"/></g>
<line x1="1075.5" y1="1936" x2="1196.4" y2="1936" stroke="#2e2e2e" stroke-width="1.9"/>
<line x1="1324.4" y1="1936" x2="1455.6" y2="1936" stroke="#2e2e2e" stroke-width="1.9"/>
<rect x="1196.4" y="1927.8" width="128" height="16.3" fill="#1abc9c" fill-opacity="0.5" stroke="#2e2e2e" stroke-width="1.8" stroke-linejoin="round"/>
<line x1="1252.5" y1="1936" x2="1275.3" y2="1936" stroke="#0d5e4e" stroke-width="4.2"/>
<line x1="1254.9" y1="1927.8" x2="1254.9" y2="1944.1" stroke="#2e2e2e" stroke-width="3.2"/>
<line x1="1148.1" y1="2072.4" x2="1236.1" y2="2072.4" stroke="#2e2e2e" stroke-width="1.9"/>
<line x1="1365.3" y1="2072.4" x2="1415.8" y2="2072.4" stroke="#2e2e2e" stroke-width="1.9"/>
<rect x="1236.1" y="2064.3" width="129.2" height="16.3" fill="#e31a1c" fill-opacity="0.5" stroke="#2e2e2e" stroke-width="1.8" stroke-linejoin="round"/>
<line x1="1269.8" y1="2072.4" x2="1333" y2="2072.4" stroke="#720d0e" stroke-width="4.2"/>
<line x1="1274.7" y1="2064.3" x2="1274.7" y2="2080.6" stroke="#2e2e2e" stroke-width="3.2"/>
<line x1="1099.4" y1="2208.9" x2="1210.1" y2="2208.9" stroke="#2e2e2e" stroke-width="1.9"/>
<line x1="1408.6" y1="2208.9" x2="1694.3" y2="2208.9" stroke="#2e2e2e" stroke-width="1.9"/>
<rect x="1210.1" y="2200.8" width="198.5" height="16.3" fill="#2c3e50" fill-opacity="0.5" stroke="#2e2e2e" stroke-width="1.8" stroke-linejoin="round"/>
<line x1="1255.2" y1="2208.9" x2="1311.2" y2="2208.9" stroke="#161f28" stroke-width="4.2"/>
<line x1="1282.4" y1="2200.8" x2="1282.4" y2="2217.1" stroke="#2e2e2e" stroke-width="3.2"/>
<g shape-rendering="crispEdges"><rect x="1043" y="1772" width="707" height="1" fill="#66727f"/><rect x="1043" y="2358" width="707" height="1" fill="#7e8896"/><rect x="1043" y="1772" width="1" height="587" fill="#66727f"/></g>
<text x="1123.3" y="2380.2" font-size="15.8" text-anchor="middle" fill="#34495e">20</text>
<text x="1266.3" y="2380.2" font-size="15.8" text-anchor="middle" fill="#34495e">30</text>
<text x="1409.4" y="2380.2" font-size="15.8" text-anchor="middle" fill="#34495e">40</text>
<text x="1552.4" y="2380.2" font-size="15.8" text-anchor="middle" fill="#34495e">50</text>
<text x="1695.5" y="2380.2" font-size="15.8" text-anchor="middle" fill="#34495e">60</text>
<text x="1033.3" y="1941.4" font-size="15.8" text-anchor="end" fill="#34495e">14</text>
<text x="1033.3" y="2077.9" font-size="15.8" text-anchor="end" fill="#34495e">11</text>
<text x="1033.3" y="2214.4" font-size="15.8" text-anchor="end" fill="#34495e">1</text>
<text x="1006.8" y="2059" font-size="21.7" text-anchor="middle" fill="#231815" transform="rotate(-90 1006.8 2059)">Chromosome</text>
<text x="1413.5" y="2403.5" font-size="21.7" text-anchor="middle" fill="#231815">Locus-specific ADO, %</text>
<text x="1125.7" y="1985.5" font-size="21.6" fill="#231815" font-style="italic">MYH7</text>
<text x="1051.8" y="2101.8" font-size="21.6" fill="#231815" font-style="italic">MYBPC3</text>
<text x="1227" y="2258" font-size="21.6" fill="#231815" font-style="italic">LDLRAP1</text>
</svg></body></html>
